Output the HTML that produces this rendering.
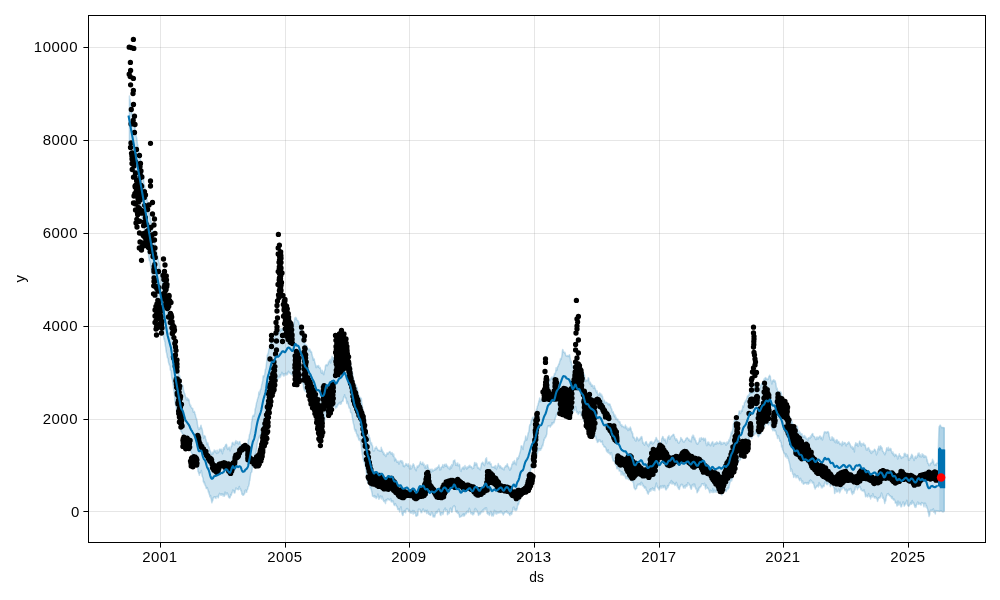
<!DOCTYPE html>
<html><head><meta charset="utf-8"><title>forecast</title>
<style>html,body{margin:0;padding:0;background:#fff;}body{width:1000px;height:600px;overflow:hidden;font-family:"Liberation Sans",sans-serif;}svg{display:block;}text{font-family:"Liberation Sans",sans-serif;fill:#000;}</style>
</head><body>
<svg width="1000" height="600" viewBox="0 0 1000 600">
<rect x="0" y="0" width="1000" height="600" fill="#ffffff"/>
<defs><clipPath id="ax"><rect x="88.5" y="15.5" width="897.0" height="527.0"/></clipPath></defs>
<g clip-path="url(#ax)">
<path d="M129.4 96L129.7 99.3L130.1 99.5L130.4 102.7L130.7 102.9L131.1 106.2L131.4 109.8L131.7 110.7L132 114.8L132.4 114.1L132.7 115.6L133 116.8L133.4 119.1L133.7 122.1L134 121.7L134.4 122.6L134.7 123.9L135 126.2L135.3 132.6L135.7 134L136 134.8L136.3 136.3L136.7 137.9L137 140L137.3 143.4L137.7 145L138 146.8L138.3 148.8L138.6 151.2L139 151.9L139.3 154L139.6 156.8L140 158.3L140.3 159.6L140.6 160.9L141 161.2L141.3 164.3L141.6 167.4L141.9 169.7L142.3 171.3L142.6 174.5L142.9 175L143.3 177.1L143.6 179.3L143.9 183.6L144.3 184.4L144.6 185.3L144.9 186.6L145.2 189.6L145.6 191.2L145.9 192L146.2 195.1L146.6 194.4L146.9 197.3L147.2 200.7L147.6 202.1L147.9 202.9L148.2 206.1L148.5 208.4L148.9 209.1L149.2 213.6L149.5 214.7L149.9 216.2L150.2 216.8L150.5 219.9L150.9 222.2L151.2 221.5L151.5 223.1L151.8 226.2L152.2 228.9L152.5 230.1L152.8 232.6L153.2 233.6L153.5 234.4L153.8 238.2L154.2 238.8L154.5 240.8L154.8 244.8L155.1 244L155.5 247L155.8 246.3L156.1 247.5L156.5 251.4L156.8 252.4L157.1 253.6L157.5 255.5L157.8 256.4L158.1 259.8L158.4 259.6L158.8 262.3L159.1 263L159.4 263.5L159.8 267.4L160.1 271.1L160.4 271.3L160.8 272.1L161.1 271.9L161.4 276.1L161.7 279L162.1 279.3L162.4 280.2L162.7 280L163.1 282.6L163.4 284.7L163.7 287.6L164.1 291.1L164.4 290.9L164.7 293.4L165 296.9L165.4 299.4L165.7 301.7L166 302.3L166.4 305.4L166.7 307.8L167 307.9L167.4 309.9L167.7 310.8L168 312.9L168.3 313.2L168.7 314.5L169 317.4L169.3 318.8L169.7 320L170 320.3L170.3 321.4L170.7 323.5L171 324.4L171.3 326.9L171.6 329.3L172 330.4L172.3 331.6L172.6 334.8L173 336.6L173.3 338.4L173.6 342.2L174 343.8L174.3 346L174.6 347.5L174.9 348.4L175.3 349.9L175.6 353.2L175.9 356.9L176.3 359.4L176.6 358.7L176.9 360.3L177.3 363.9L177.6 366.5L177.9 367.2L178.2 368.2L178.6 368.9L178.9 372.3L179.2 377L179.6 375.7L179.9 377.2L180.2 380L180.6 382.8L180.9 382.2L181.2 383.4L181.5 384.4L181.9 385.1L182.2 385.1L182.5 386.6L182.9 385.6L183.2 388L183.5 390.3L183.9 391.5L184.2 392.8L184.5 393.6L184.8 393.7L185.2 395.6L185.5 396.4L185.8 397.8L186.2 398.8L186.5 399.9L186.8 398.9L187.2 397.9L187.5 398.5L187.8 400.5L188.1 399.3L188.5 399L188.8 400.1L189.1 400L189.5 403.6L189.8 404L190.1 405.5L190.5 406.1L190.8 405.3L191.1 406.9L191.4 407.7L191.8 407.7L192.1 408.4L192.4 408.4L192.8 408.5L193.1 411L193.4 412.2L193.8 412.3L194.1 411.3L194.4 411.7L194.7 412.4L195.1 414.6L195.4 414.5L195.7 416.6L196.1 417.9L196.4 418.2L196.7 420.1L197.1 420.7L197.4 424.1L197.7 425.7L198 427.3L198.4 428.5L198.7 429.4L199 429.4L199.4 428.1L199.7 429.2L200 427.4L200.4 428L200.7 426.1L201 425.2L201.3 426.7L201.7 428.3L202 428.6L202.3 430L202.7 432.4L203 434.8L203.3 435.5L203.7 438.4L204 436.1L204.3 436.1L204.6 435.5L205 436.4L205.3 436.5L205.6 438.7L206 439.6L206.3 441.3L206.6 442.3L207 444.6L207.3 443.7L207.6 443.3L207.9 442.8L208.3 446L208.6 446.7L208.9 446.8L209.3 448L209.6 450.6L209.9 450.2L210.3 451L210.6 451.7L210.9 452.2L211.2 454.1L211.6 453.1L211.9 454.4L212.2 453.7L212.6 452.8L212.9 452.1L213.2 453.7L213.6 451.8L213.9 451.7L214.2 449.9L214.5 450.6L214.9 451.7L215.2 451.4L215.5 451.9L215.9 450.5L216.2 452.2L216.5 453.4L216.9 452.6L217.2 450.2L217.5 452.9L217.8 452.8L218.2 452.8L218.5 451.6L218.8 452.1L219.2 449.9L219.5 449.7L219.8 449L220.2 449.4L220.5 449.5L220.8 449.6L221.1 451L221.5 449.2L221.8 449.7L222.1 452.5L222.5 453.7L222.8 450.9L223.1 451L223.5 447.8L223.8 447.7L224.1 449.6L224.4 448L224.8 446.4L225.1 446.4L225.4 445.6L225.8 444.4L226.1 444.4L226.4 444.2L226.8 445.2L227.1 448.4L227.4 447.6L227.7 449.6L228.1 449.1L228.4 448.4L228.7 447.8L229.1 447L229.4 447.8L229.7 449.1L230.1 450.9L230.4 449.9L230.7 448.7L231 447.1L231.4 445.7L231.7 446.5L232 443.6L232.4 442.6L232.7 443.1L233 442.4L233.4 443.8L233.7 444.5L234 444.7L234.3 444.2L234.7 444.8L235 442.4L235.3 442.1L235.7 441.5L236 440.6L236.3 443.1L236.7 443L237 441.6L237.3 441.6L237.6 442.2L238 443.3L238.3 444.1L238.6 442.9L239 442.3L239.3 441.6L239.6 441.8L240 441.6L240.3 444.2L240.6 444.7L240.9 444.7L241.3 444.8L241.6 447.5L241.9 447.7L242.3 447.4L242.6 447.2L242.9 448.6L243.3 448.6L243.6 448.7L243.9 449.3L244.2 449.1L244.6 449.6L244.9 446.6L245.2 447.6L245.6 446.7L245.9 444.2L246.2 445L246.6 444.3L246.9 445.6L247.2 446L247.5 444.1L247.9 444L248.2 440.6L248.5 439L248.9 439.6L249.2 436.3L249.5 434.5L249.9 434L250.2 432.6L250.5 431.3L250.8 429.2L251.2 427.7L251.5 423L251.8 421.5L252.2 419.5L252.5 417.3L252.8 415.8L253.2 415.8L253.5 415.2L253.8 415.8L254.1 416.1L254.5 414.2L254.8 413.6L255.1 409.1L255.5 408.4L255.8 407L256.1 405.5L256.5 402.9L256.8 401.9L257.1 401.5L257.4 399.4L257.8 398.3L258.1 397.3L258.4 396.8L258.8 392.6L259.1 391.9L259.4 394.5L259.8 393.1L260.1 390.4L260.4 390L260.7 388.8L261.1 389.2L261.4 386.4L261.7 384.5L262.1 383.6L262.4 381.8L262.7 380.9L263.1 376.2L263.4 375.7L263.7 376.3L264 376.9L264.4 375.6L264.7 374.3L265 372.1L265.4 369.2L265.7 369.3L266 367.5L266.4 364.4L266.7 361.7L267 358.9L267.3 354.9L267.7 354.9L268 353.2L268.3 352.9L268.7 350L269 348.7L269.3 349.1L269.7 345.4L270 345.8L270.3 345.8L270.6 343.7L271 341L271.3 343.4L271.6 341.1L272 338.7L272.3 337.8L272.6 338.3L273 337.8L273.3 338.7L273.6 338.6L273.9 339.6L274.3 338.1L274.6 337.2L274.9 336.5L275.3 334.3L275.6 334.4L275.9 334.2L276.3 334.3L276.6 334.1L276.9 333.5L277.2 334.4L277.6 332.5L277.9 332.7L278.2 332.2L278.6 332.2L278.9 331.1L279.2 333.2L279.6 331.3L279.9 331.9L280.2 330.6L280.5 331.2L280.9 328.6L281.2 329.2L281.5 330.2L281.9 330.2L282.2 328.6L282.5 329.7L282.9 330.3L283.2 328.5L283.5 329.8L283.8 329L284.2 329.9L284.5 328.2L284.8 328L285.2 328.1L285.5 330.9L285.8 331.7L286.2 328.7L286.5 327.3L286.8 329.4L287.1 328L287.5 328.4L287.8 326.9L288.1 326.6L288.5 326.4L288.8 325.7L289.1 326.5L289.5 328.8L289.8 327.2L290.1 325.9L290.4 325.5L290.8 326.4L291.1 327.8L291.4 329L291.8 328.4L292.1 327.8L292.4 327.3L292.8 327.4L293.1 326.9L293.4 327.4L293.7 324.8L294.1 322.5L294.4 321.8L294.7 317.9L295.1 319.6L295.4 318.7L295.7 317.3L296.1 318L296.4 317.9L296.7 319.8L297 320.1L297.4 320.3L297.7 320.6L298 320.6L298.4 322.2L298.7 321.5L299 324.4L299.4 324.1L299.7 325.2L300 326.7L300.3 329.8L300.7 328.2L301 327.2L301.3 329.6L301.7 328.3L302 331.8L302.3 333.7L302.7 334.2L303 335.3L303.3 336.5L303.6 339.2L304 339.5L304.3 340.5L304.6 344.1L305 343.9L305.3 346.6L305.6 345L306 344.7L306.3 345.5L306.6 345.9L306.9 345.5L307.3 347.8L307.6 348L307.9 349L308.3 349.5L308.6 349.2L308.9 351L309.3 350.4L309.6 349L309.9 349.1L310.2 350.4L310.6 351L310.9 352.3L311.2 351.7L311.6 352L311.9 354.3L312.2 355.3L312.6 357.2L312.9 357.1L313.2 360.3L313.5 358.6L313.9 358.8L314.2 358.9L314.5 360.7L314.9 362.8L315.2 363.5L315.5 364.6L315.9 367L316.2 367.7L316.5 366.4L316.8 365.9L317.2 366.5L317.5 365.8L317.8 366.1L318.2 367.1L318.5 365.5L318.8 366L319.2 367.7L319.5 368.2L319.8 368.1L320.1 367.5L320.5 369.2L320.8 370.7L321.1 372.4L321.5 373.1L321.8 371.7L322.1 370.3L322.5 371.9L322.8 373.7L323.1 372.4L323.4 372.7L323.8 374.7L324.1 371.8L324.4 371L324.8 370.2L325.1 369.2L325.4 366L325.8 364.9L326.1 365.7L326.4 364.5L326.7 365.1L327.1 365.1L327.4 365.7L327.7 364.5L328.1 364.3L328.4 362L328.7 362.8L329.1 360.9L329.4 361.4L329.7 361L330 359.8L330.4 359.3L330.7 363L331 361.3L331.4 360.6L331.7 359L332 356.3L332.4 357L332.7 359.1L333 359.8L333.3 358.8L333.7 357.9L334 359L334.3 359.8L334.7 358.6L335 358.7L335.3 360.4L335.7 361.9L336 362.5L336.3 362.6L336.6 361.8L337 362.8L337.3 361.8L337.6 360.3L338 359L338.3 358.2L338.6 358.1L339 355.9L339.3 356L339.6 355.9L339.9 356.8L340.3 356.3L340.6 356.1L340.9 355.4L341.3 357.2L341.6 355.4L341.9 354.5L342.3 353.5L342.6 353.9L342.9 353L343.2 352.3L343.6 351.4L343.9 350.8L344.2 349.9L344.6 350.5L344.9 351L345.2 350.9L345.6 352.5L345.9 353.3L346.2 354.5L346.5 357.1L346.9 355.4L347.2 357.5L347.5 356.3L347.9 358.5L348.2 357.5L348.5 359.1L348.9 359.3L349.2 359.1L349.5 361.2L349.8 361.3L350.2 362.3L350.5 362.8L350.8 365.7L351.2 367.2L351.5 368.3L351.8 371.2L352.2 371.8L352.5 373.1L352.8 374L353.1 377.1L353.5 379.7L353.8 379.5L354.1 380.9L354.5 383.4L354.8 385.1L355.1 385.7L355.5 386.8L355.8 384.7L356.1 385.3L356.4 388.1L356.8 387.2L357.1 387.5L357.4 389.2L357.8 391.4L358.1 392.6L358.4 394.6L358.8 395L359.1 396.3L359.4 397L359.7 396.7L360.1 398.5L360.4 398.3L360.7 397.8L361.1 398.2L361.4 398.7L361.7 402.7L362.1 404.1L362.4 406.4L362.7 408L363 411.9L363.4 413.8L363.7 412.8L364 413.5L364.4 414.5L364.7 415.9L365 417L365.4 418.3L365.7 421L366 424.6L366.3 427.2L366.7 428.5L367 431.4L367.3 432.4L367.7 433.5L368 434.4L368.3 434.6L368.7 434.9L369 435.4L369.3 437.6L369.6 437.6L370 438.8L370.3 440.9L370.6 442.8L371 443L371.3 444.3L371.6 442.8L372 445.2L372.3 445.6L372.6 445.8L372.9 449.6L373.3 451L373.6 450.7L373.9 450.6L374.3 450.7L374.6 449.9L374.9 448.2L375.3 447.9L375.6 448.3L375.9 448.2L376.2 446.6L376.6 448.4L376.9 447.9L377.2 448.5L377.6 449.3L377.9 450.3L378.2 450L378.6 450.6L378.9 450.5L379.2 450.2L379.5 451L379.9 450.5L380.2 450.9L380.5 451.2L380.9 451.3L381.2 447.2L381.5 449.7L381.9 449.2L382.2 450.3L382.5 452.2L382.8 451.2L383.2 452L383.5 454.5L383.8 452.7L384.2 453.5L384.5 454.8L384.8 455.5L385.2 454.9L385.5 455.4L385.8 456.6L386.1 456.5L386.5 454.1L386.8 454.4L387.1 452.8L387.5 453.5L387.8 453.6L388.1 454L388.5 452.9L388.8 452.8L389.1 452.1L389.4 452.2L389.8 451.5L390.1 451.8L390.4 452.3L390.8 453.5L391.1 454.2L391.4 453.5L391.8 452.9L392.1 452.6L392.4 453.7L392.7 453.8L393.1 456.1L393.4 455.9L393.7 454.1L394.1 457L394.4 457.4L394.7 461L395.1 458.1L395.4 459L395.7 458.9L396 459.3L396.4 460.6L396.7 461.4L397 462.3L397.4 461.8L397.7 462.1L398 461L398.4 462.9L398.7 461.8L399 464.2L399.3 462.9L399.7 461.9L400 461.4L400.3 460.4L400.7 461L401 460.8L401.3 460.7L401.7 462.8L402 460.7L402.3 462.5L402.6 462.7L403 462.2L403.3 466.2L403.6 465L404 465.6L404.3 466.8L404.6 465.8L405 465.4L405.3 465.6L405.6 465.1L405.9 463.4L406.3 463.9L406.6 463.9L406.9 465.3L407.3 465L407.6 465.4L407.9 466.3L408.3 463.8L408.6 465.1L408.9 465.8L409.2 467.7L409.6 468.8L409.9 468.9L410.2 467.1L410.6 465.2L410.9 469L411.2 468.5L411.6 468.3L411.9 467.9L412.2 466.6L412.5 465.7L412.9 464.9L413.2 463.7L413.5 464.9L413.9 464.7L414.2 465.9L414.5 467.6L414.9 467.2L415.2 469.4L415.5 469L415.8 469.2L416.2 470.7L416.5 468.7L416.8 468.2L417.2 466L417.5 466.3L417.8 467.2L418.2 466.9L418.5 466.5L418.8 465.3L419.1 465.8L419.5 464.6L419.8 463.8L420.1 463.1L420.5 461.6L420.8 463.1L421.1 463.6L421.5 463.7L421.8 464.6L422.1 463.5L422.4 463.9L422.8 462.2L423.1 464.6L423.4 465.1L423.8 463.9L424.1 463.9L424.4 466.6L424.8 468L425.1 466.6L425.4 466L425.7 465.5L426.1 468.6L426.4 468.5L426.7 467.7L427.1 464.8L427.4 466.1L427.7 465L428.1 467.3L428.4 468.3L428.7 469.8L429 469.9L429.4 471.2L429.7 469.4L430 470.1L430.4 469.3L430.7 470.2L431 471.6L431.4 472.2L431.7 471.5L432 469.1L432.3 470.6L432.7 469.9L433 471.1L433.3 471.1L433.7 469.9L434 470.1L434.3 469.7L434.7 470.1L435 468.6L435.3 468.9L435.6 468.9L436 469.7L436.3 467.7L436.6 468.8L437 467.7L437.3 468.5L437.6 466.9L438 467.3L438.3 467.2L438.6 466.4L438.9 464.9L439.3 466.9L439.6 468L439.9 470.1L440.3 469.3L440.6 467.8L440.9 469.6L441.3 467L441.6 467L441.9 467.1L442.2 466.5L442.6 465.5L442.9 464.6L443.2 467L443.6 467.4L443.9 465.3L444.2 465.3L444.6 464.7L444.9 464.3L445.2 464.6L445.5 466.2L445.9 466.3L446.2 464L446.5 464.7L446.9 465.8L447.2 465.8L447.5 467L447.9 466.4L448.2 468.1L448.5 468.5L448.8 468.4L449.2 468.2L449.5 467.3L449.8 469.5L450.2 468L450.5 466.4L450.8 466L451.2 467.5L451.5 468L451.8 464.4L452.1 464.5L452.5 465.9L452.8 464.7L453.1 463.4L453.5 460.7L453.8 460.8L454.1 460.6L454.5 460.5L454.8 460L455.1 462L455.4 462.6L455.8 465.3L456.1 464.4L456.4 465.4L456.8 465.2L457.1 463.2L457.4 464.8L457.8 463L458.1 466L458.4 465.7L458.7 465.2L459.1 464.5L459.4 464.3L459.7 465.1L460.1 468.7L460.4 470.4L460.7 470.9L461.1 471.4L461.4 469.6L461.7 468.7L462 469.2L462.4 467.4L462.7 468.2L463 467.3L463.4 467.6L463.7 466.9L464 469.5L464.4 468.2L464.7 467.5L465 465.4L465.3 467.8L465.7 467.4L466 467.6L466.3 467.4L466.7 469.2L467 467.1L467.3 466.9L467.7 468.4L468 467.6L468.3 466.8L468.6 466.9L469 465.8L469.3 465.4L469.6 466.9L470 465.5L470.3 467L470.6 466.6L471 466.6L471.3 467.1L471.6 466.8L471.9 467.4L472.3 468.8L472.6 468.6L472.9 468.2L473.3 468.1L473.6 468.2L473.9 465.6L474.3 464.6L474.6 462.4L474.9 462.6L475.2 465.2L475.6 463.3L475.9 463.7L476.2 462.9L476.6 464.7L476.9 463.7L477.2 465.3L477.6 468L477.9 467.4L478.2 467.9L478.5 467.5L478.9 468.8L479.2 468.9L479.5 468.3L479.9 469.5L480.2 469.9L480.5 469L480.9 466.8L481.2 465.1L481.5 463.6L481.8 463.1L482.2 463L482.5 463L482.8 462.1L483.2 464.1L483.5 464.5L483.8 463.3L484.2 465.3L484.5 465.6L484.8 464.4L485.1 463.5L485.5 460.1L485.8 458.5L486.1 459.6L486.5 457.7L486.8 460.3L487.1 462.9L487.5 463.3L487.8 463.8L488.1 462.1L488.4 462L488.8 462.5L489.1 462.4L489.4 462.4L489.8 461.8L490.1 464.1L490.4 464.2L490.8 463.6L491.1 463.9L491.4 465.7L491.7 466.7L492.1 467.1L492.4 467.1L492.7 467.2L493.1 467L493.4 467.1L493.7 467.3L494.1 467L494.4 466.2L494.7 466.4L495 468.3L495.4 468.1L495.7 465.6L496 466.3L496.4 469.5L496.7 468.3L497 468L497.4 466.8L497.7 466.3L498 464.7L498.3 463.4L498.7 465.7L499 465.4L499.3 465.7L499.7 466.4L500 468L500.3 465.7L500.7 466.8L501 466.8L501.3 467.7L501.6 468.2L502 468.6L502.3 467.9L502.6 468.3L503 469.3L503.3 469.2L503.6 469L504 470L504.3 467.7L504.6 467.3L504.9 467.2L505.3 466.7L505.6 465.8L505.9 466.6L506.3 466.6L506.6 465.1L506.9 465.2L507.3 463.8L507.6 464.9L507.9 466.6L508.2 466.8L508.6 466.7L508.9 467.7L509.2 469.1L509.6 469.3L509.9 470.3L510.2 468.4L510.6 467.9L510.9 468.8L511.2 468.8L511.5 466.6L511.9 464.3L512.2 463.9L512.5 464.4L512.9 462.5L513.2 461.6L513.5 462.4L513.9 463.8L514.2 463.6L514.5 460.6L514.8 462.1L515.2 462.8L515.5 462.8L515.8 464.2L516.2 464.9L516.5 462.3L516.8 458.8L517.2 457.8L517.5 459.4L517.8 459L518.1 457.5L518.5 458.5L518.8 455.9L519.1 456.2L519.5 454.4L519.8 453.1L520.1 452.2L520.5 451.1L520.8 448.9L521.1 446L521.4 445.7L521.8 446.6L522.1 446.4L522.4 447.5L522.8 448L523.1 449.4L523.4 446.2L523.8 443.9L524.1 442.8L524.4 441.6L524.7 440.8L525.1 440.9L525.4 438.7L525.7 436.1L526.1 437.7L526.4 438.6L526.7 440.2L527.1 438.6L527.4 437.9L527.7 435.7L528 433.8L528.4 432.5L528.7 432.4L529 430.7L529.4 426.6L529.7 425.3L530 424.5L530.4 424.8L530.7 424L531 421.5L531.3 420.3L531.7 419.7L532 420.3L532.3 418.1L532.7 417.3L533 418.4L533.3 419.5L533.7 420.3L534 418.6L534.3 416.4L534.6 418.2L535 415.3L535.3 414.1L535.6 413.6L536 412.2L536.3 411L536.6 408.8L537 409L537.3 406.5L537.6 405.9L537.9 405.5L538.3 403.3L538.6 403L538.9 400.7L539.3 401.8L539.6 398L539.9 398.8L540.3 399.9L540.6 401.6L540.9 401.7L541.2 401.1L541.6 400.6L541.9 399.3L542.2 398.2L542.6 394.9L542.9 395.3L543.2 395.5L543.6 393.8L543.9 393.9L544.2 391.1L544.5 389.9L544.9 389.3L545.2 391.2L545.5 390.5L545.9 389.3L546.2 389.3L546.5 387.2L546.9 387.7L547.2 384.2L547.5 382.7L547.8 383.1L548.2 383.3L548.5 381.5L548.8 380.2L549.2 381.3L549.5 381L549.8 380.5L550.2 379.8L550.5 379.2L550.8 379.1L551.1 378L551.5 378.8L551.8 377L552.1 379.1L552.5 377.5L552.8 377.6L553.1 376.9L553.5 376.3L553.8 375.7L554.1 377L554.4 373.6L554.8 373.4L555.1 374.4L555.4 373L555.8 371L556.1 367.8L556.4 369.4L556.8 370.4L557.1 369.8L557.4 367.7L557.7 366.5L558.1 366L558.4 365.9L558.7 364L559.1 364.3L559.4 363.4L559.7 361.4L560.1 360.6L560.4 358.7L560.7 359.4L561 359.5L561.4 358.1L561.7 356.7L562 354.8L562.4 351.2L562.7 349.4L563 350L563.4 352.2L563.7 351.7L564 352.5L564.3 352.8L564.7 352.9L565 352.4L565.3 353.6L565.7 355.3L566 355.5L566.3 356L566.7 355.9L567 355.9L567.3 355.6L567.6 356.1L568 356.6L568.3 355.8L568.6 356.3L569 355.6L569.3 354.7L569.6 354.7L570 357.3L570.3 359L570.6 362L570.9 361.9L571.3 361.1L571.6 364L571.9 365.4L572.3 365.6L572.6 367.5L572.9 367.7L573.3 367.6L573.6 368.2L573.9 368.5L574.2 364.8L574.6 364.2L574.9 362L575.2 360.1L575.6 361.5L575.9 364.4L576.2 365.4L576.6 364.7L576.9 365.3L577.2 366.1L577.5 366.4L577.9 367.2L578.2 367.4L578.5 367L578.9 367.2L579.2 367.9L579.5 367.1L579.9 369.1L580.2 368L580.5 368.3L580.8 368.5L581.2 368.3L581.5 368L581.8 369.7L582.2 370.5L582.5 371L582.8 371.7L583.2 372.2L583.5 374L583.8 373.5L584.1 374.4L584.5 374.8L584.8 378.4L585.1 380.2L585.5 380.7L585.8 381.6L586.1 379.9L586.5 380.5L586.8 380.6L587.1 380.4L587.4 380.8L587.8 380.1L588.1 377.8L588.4 377.8L588.8 378.4L589.1 381.1L589.4 383.2L589.8 383.9L590.1 383.1L590.4 382.3L590.7 384.1L591.1 383.9L591.4 386.2L591.7 385L592.1 385L592.4 384.9L592.7 385.9L593.1 386L593.4 388.1L593.7 388.1L594 388.5L594.4 385.8L594.7 387.1L595 388.7L595.4 388.6L595.7 390.4L596 390.5L596.4 392.1L596.7 392.7L597 390.7L597.3 392.6L597.7 394.5L598 394.9L598.3 394.6L598.7 394.7L599 395.5L599.3 393.5L599.7 392.9L600 394.3L600.3 393.4L600.6 394.3L601 395.8L601.3 395.8L601.6 394.2L602 396.7L602.3 395.9L602.6 396.8L603 399.5L603.3 402.5L603.6 403.1L603.9 401L604.3 400.2L604.6 400.8L604.9 403.1L605.3 402.8L605.6 402.4L605.9 402.4L606.3 402.2L606.6 402.5L606.9 402.4L607.2 403.2L607.6 403.4L607.9 404.2L608.2 404.6L608.6 403.6L608.9 405.1L609.2 404L609.6 404.1L609.9 404.1L610.2 404.9L610.5 406.7L610.9 406.5L611.2 408.3L611.5 408.5L611.9 409.3L612.2 411.2L612.5 412.3L612.9 412.6L613.2 411.7L613.5 413L613.8 414L614.2 416.5L614.5 415.2L614.8 414.6L615.2 417.7L615.5 415.7L615.8 419.2L616.2 417.5L616.5 419.4L616.8 419.2L617.1 419.7L617.5 419.1L617.8 419L618.1 420.2L618.5 421.7L618.8 421.4L619.1 421.2L619.5 421.9L619.8 421.5L620.1 422.6L620.4 424.5L620.8 425.2L621.1 425.5L621.4 425.7L621.8 424.6L622.1 426.8L622.4 426.1L622.8 426L623.1 426.3L623.4 426.5L623.7 426.9L624.1 427.8L624.4 427.7L624.7 426.9L625.1 426.6L625.4 425.1L625.7 426.5L626.1 428.3L626.4 428.9L626.7 426.9L627 427.9L627.4 428.9L627.7 429.8L628 430.6L628.4 430.1L628.7 428.3L629 428.6L629.4 428.2L629.7 429.8L630 427.8L630.3 427L630.7 428.4L631 428.6L631.3 431.2L631.7 432L632 431.6L632.3 433.6L632.7 433.3L633 436.9L633.3 437.6L633.6 436.8L634 437.4L634.3 438.2L634.6 438.8L635 440.4L635.3 440.5L635.6 440.3L636 441.1L636.3 438.8L636.6 438.1L636.9 437.1L637.3 437.8L637.6 438.7L637.9 439L638.3 439.9L638.6 440.8L638.9 440.3L639.3 439.1L639.6 439.3L639.9 439.8L640.2 438.9L640.6 437.2L640.9 438.3L641.2 437.8L641.6 436.5L641.9 436.9L642.2 438.8L642.6 442L642.9 443.2L643.2 442.3L643.5 443.8L643.9 444.4L644.2 444.5L644.5 445.2L644.9 443.9L645.2 442.8L645.5 442.1L645.9 441.8L646.2 441.6L646.5 442.1L646.8 443.9L647.2 444.8L647.5 444.3L647.8 444.4L648.2 446L648.5 446.7L648.8 444.2L649.2 443.7L649.5 444.9L649.8 442.8L650.1 442.2L650.5 441.6L650.8 441.9L651.1 443.3L651.5 441.9L651.8 441.4L652.1 442.2L652.5 444.2L652.8 444L653.1 442.7L653.4 443.3L653.8 442.5L654.1 441.9L654.4 442L654.8 440.7L655.1 440.8L655.4 439.5L655.8 439.2L656.1 437.4L656.4 437.9L656.7 439L657.1 439.4L657.4 441L657.7 440.1L658.1 441.9L658.4 440.9L658.7 440.8L659.1 442.8L659.4 444.7L659.7 445.3L660 444.5L660.4 442.9L660.7 443.5L661 443.9L661.4 441.7L661.7 438.8L662 438.4L662.4 437.5L662.7 436.4L663 436.8L663.3 437.8L663.7 438.9L664 439.9L664.3 440.6L664.7 439.4L665 439.1L665.3 439.8L665.7 441.1L666 442.2L666.3 443.6L666.6 443L667 441.4L667.3 439.5L667.6 438L668 436.9L668.3 436.6L668.6 437.1L669 435.5L669.3 439.1L669.6 438.4L669.9 439.1L670.3 438.7L670.6 437.2L670.9 437L671.3 436.4L671.6 436L671.9 435.8L672.3 435.8L672.6 435.6L672.9 434.8L673.2 434.3L673.6 434.6L673.9 434.6L674.2 436L674.6 436.7L674.9 438.7L675.2 438.5L675.6 439.6L675.9 440.6L676.2 440.3L676.5 438.8L676.9 439.8L677.2 440L677.5 440.4L677.9 442.5L678.2 442.8L678.5 442.7L678.9 443.2L679.2 442.7L679.5 442.1L679.8 441.2L680.2 441L680.5 440.8L680.8 437.4L681.2 438.4L681.5 439.2L681.8 439.2L682.2 439.2L682.5 440.2L682.8 441.3L683.1 441.7L683.5 442L683.8 441.3L684.1 442.1L684.5 441.2L684.8 441L685.1 440.2L685.5 440.3L685.8 439L686.1 438.2L686.4 438.7L686.8 438.2L687.1 437.4L687.4 438L687.8 438.3L688.1 438.9L688.4 439.1L688.8 440.2L689.1 439.3L689.4 440.7L689.7 441.1L690.1 440.4L690.4 440.8L690.7 441.2L691.1 442L691.4 440.2L691.7 438.3L692.1 436.3L692.4 437.2L692.7 437.1L693 435L693.4 437.1L693.7 435.8L694 437.8L694.4 439.6L694.7 437.8L695 438.5L695.4 440.5L695.7 440.4L696 441.1L696.3 443.1L696.7 442.7L697 443.7L697.3 444.3L697.7 443.2L698 443.9L698.3 443.4L698.7 442L699 441.8L699.3 439.8L699.6 438.2L700 440.6L700.3 441.2L700.6 440.3L701 438.2L701.3 437.6L701.6 438.8L702 438.7L702.3 439.2L702.6 438.7L702.9 438.5L703.3 438.2L703.6 438L703.9 440.7L704.3 439.4L704.6 439.1L704.9 438.9L705.3 438.4L705.6 439.6L705.9 443.1L706.2 443.4L706.6 445.5L706.9 445.7L707.2 444.8L707.6 443L707.9 441.9L708.2 442.2L708.6 444.4L708.9 442.2L709.2 444.7L709.5 444.2L709.9 444.4L710.2 444.6L710.5 445.8L710.9 445.1L711.2 444.7L711.5 443L711.9 442.7L712.2 441.9L712.5 442.5L712.8 441.6L713.2 443.8L713.5 446.2L713.8 444.1L714.2 443.6L714.5 444.1L714.8 444.4L715.2 443.2L715.5 442.8L715.8 443.7L716.1 444.1L716.5 443.3L716.8 441.7L717.1 442.7L717.5 442.5L717.8 442.8L718.1 443.7L718.5 443.3L718.8 443.4L719.1 443.1L719.4 443.2L719.8 441.2L720.1 441.4L720.4 442.1L720.8 442.7L721.1 444.6L721.4 442.9L721.8 442.4L722.1 443.9L722.4 444.1L722.7 443.8L723.1 443.8L723.4 442.9L723.7 442.6L724.1 442.5L724.4 443.2L724.7 442.4L725.1 443.6L725.4 444L725.7 443.4L726 445.3L726.4 444.8L726.7 442.2L727 444.1L727.4 442.1L727.7 442.7L728 443.4L728.4 442.1L728.7 440.8L729 439.5L729.3 440.9L729.7 440L730 437.7L730.3 437L730.7 435.4L731 434.1L731.3 432L731.7 433L732 433.6L732.3 431.7L732.6 429.8L733 428.2L733.3 424.5L733.6 423.9L734 422.5L734.3 421.3L734.6 419.9L735 419L735.3 419.2L735.6 418.8L735.9 419.1L736.3 422.3L736.6 420.6L736.9 419.4L737.3 418.9L737.6 416.5L737.9 416.7L738.3 415.7L738.6 414.6L738.9 412.4L739.2 410.9L739.6 411.2L739.9 411.4L740.2 413.5L740.6 413.3L740.9 412.4L741.2 410.7L741.6 410L741.9 411.3L742.2 411.3L742.5 408.5L742.9 405.7L743.2 405.9L743.5 407.2L743.9 405.4L744.2 404.2L744.5 402.5L744.9 402.3L745.2 402L745.5 400.3L745.8 401L746.2 401.1L746.5 400.5L746.8 398.4L747.2 396.9L747.5 396.1L747.8 396.3L748.2 395.4L748.5 396.2L748.8 394.4L749.1 395.4L749.5 394.4L749.8 390.6L750.1 391.7L750.5 392L750.8 392.1L751.1 393.6L751.5 391.7L751.8 393.2L752.1 393.2L752.4 391.2L752.8 391.5L753.1 391.6L753.4 391.6L753.8 392.3L754.1 389L754.4 385.7L754.8 386.5L755.1 386L755.4 385.4L755.7 384.9L756.1 385.6L756.4 383.4L756.7 385.8L757.1 386.9L757.4 386.3L757.7 387.8L758.1 388.5L758.4 389.1L758.7 389.9L759 390.5L759.4 389.9L759.7 389.4L760 388L760.4 387.2L760.7 385.8L761 384.8L761.4 384.5L761.7 383.2L762 383.1L762.3 383.1L762.7 382.9L763 382.7L763.3 380.8L763.7 381.3L764 379.1L764.3 380.6L764.7 379.8L765 377.9L765.3 378.2L765.6 377.6L766 379L766.3 378.3L766.6 379L767 378.7L767.3 379.7L767.6 379.1L768 378.9L768.3 379.2L768.6 377.4L768.9 376.4L769.3 375.8L769.6 375.2L769.9 376.3L770.3 376.2L770.6 378.9L770.9 380.7L771.3 381L771.6 383.2L771.9 384L772.2 381.2L772.6 380.6L772.9 381.2L773.2 380.9L773.6 379.7L773.9 380.2L774.2 381.9L774.6 380.5L774.9 380.5L775.2 381.1L775.5 382.2L775.9 383.4L776.2 386.2L776.5 388.9L776.9 388.9L777.2 388.2L777.5 390.5L777.9 391.6L778.2 391.8L778.5 392.3L778.8 392L779.2 391.5L779.5 391.5L779.8 391.9L780.2 391.6L780.5 393.9L780.8 392.1L781.2 392.9L781.5 394.8L781.8 395.8L782.1 397L782.5 400.3L782.8 402.6L783.1 404.6L783.5 404.4L783.8 406.3L784.1 405.6L784.5 406L784.8 405.8L785.1 404.9L785.4 404.6L785.8 406.9L786.1 406.4L786.4 408L786.8 409L787.1 408.8L787.4 410L787.8 410.3L788.1 407.7L788.4 412.5L788.7 416.7L789.1 417.6L789.4 416.7L789.7 418.4L790.1 417.5L790.4 420.6L790.7 420.3L791.1 421.8L791.4 422L791.7 422.3L792 421L792.4 424.1L792.7 423.5L793 424.8L793.4 424.4L793.7 424.7L794 425L794.4 426.2L794.7 427.7L795 427L795.3 427.9L795.7 426.7L796 427.7L796.3 428.2L796.7 427.4L797 426.6L797.3 426.2L797.7 429.1L798 432.5L798.3 432.3L798.6 432.4L799 433.1L799.3 431L799.6 432.5L800 432.9L800.3 432.5L800.6 434L801 433.9L801.3 434.5L801.6 434.1L801.9 433.7L802.3 435.3L802.6 436.3L802.9 436.8L803.3 436.7L803.6 437.3L803.9 435.8L804.3 437.1L804.6 435.4L804.9 436.9L805.2 437.9L805.6 436.7L805.9 438.4L806.2 438.1L806.6 439.1L806.9 439.1L807.2 438.7L807.6 439.9L807.9 440.9L808.2 438.8L808.5 437.7L808.9 437.8L809.2 437.6L809.5 438.4L809.9 438.6L810.2 437.9L810.5 436L810.9 437.4L811.2 436.9L811.5 436.2L811.8 434.3L812.2 434.3L812.5 433.8L812.8 433.5L813.2 436L813.5 435.8L813.8 436.3L814.2 436.6L814.5 436.6L814.8 437.1L815.1 437.9L815.5 439.3L815.8 439L816.1 439.6L816.5 438.3L816.8 437.1L817.1 436.9L817.5 438.8L817.8 438.5L818.1 439.1L818.4 437.6L818.8 437.1L819.1 437.6L819.4 437.6L819.8 436L820.1 435.9L820.4 437.2L820.8 438.7L821.1 437.8L821.4 437.4L821.7 437.3L822.1 438.5L822.4 440L822.7 439.2L823.1 436.9L823.4 436.1L823.7 434.7L824.1 432.9L824.4 431.9L824.7 432.6L825 431.6L825.4 432.4L825.7 432.4L826 432.1L826.4 433L826.7 432.5L827 431.9L827.4 431.8L827.7 432.6L828 431.4L828.3 432.1L828.7 432.9L829 434.3L829.3 437L829.7 436.9L830 439.3L830.3 439.6L830.7 440.3L831 439.8L831.3 439.6L831.6 439.6L832 436.8L832.3 437.2L832.6 438.5L833 440.3L833.3 438.8L833.6 438L834 439.5L834.3 441.3L834.6 442L834.9 440L835.3 441L835.6 442.5L835.9 442.9L836.3 440.6L836.6 440.1L836.9 439.6L837.3 440.2L837.6 442.1L837.9 443.2L838.2 441.9L838.6 441.5L838.9 441.5L839.2 442.9L839.6 443L839.9 444.6L840.2 444.4L840.6 444.3L840.9 443.6L841.2 443.4L841.5 444.4L841.9 445.8L842.2 444.1L842.5 441.6L842.9 443.3L843.2 444L843.5 444.2L843.9 443.1L844.2 442.5L844.5 442.8L844.8 443.2L845.2 442.8L845.5 444.2L845.8 445.7L846.2 445.9L846.5 443.9L846.8 443.9L847.2 444L847.5 444.2L847.8 442.7L848.1 443.6L848.5 443.2L848.8 441.8L849.1 442.3L849.5 443.6L849.8 443.7L850.1 444L850.5 445.8L850.8 445.5L851.1 447.4L851.4 447.8L851.8 446.9L852.1 447.5L852.4 446.6L852.8 449.2L853.1 447.4L853.4 448.6L853.8 447.4L854.1 449.5L854.4 452L854.7 446.9L855.1 444.4L855.4 444.9L855.7 442.7L856.1 443.8L856.4 445.2L856.7 443.6L857.1 443.5L857.4 443.6L857.7 444L858 446.5L858.4 445.7L858.7 445.4L859 443.6L859.4 441.7L859.7 441L860 441.6L860.4 443.5L860.7 443.5L861 445.7L861.3 446.1L861.7 443.4L862 443.5L862.3 444.6L862.7 444.4L863 444.8L863.3 444.3L863.7 443.1L864 444.9L864.3 445.4L864.6 444.5L865 444.9L865.3 445.3L865.6 447.3L866 448.1L866.3 449.8L866.6 449.5L867 450.2L867.3 449.8L867.6 448.2L867.9 448.1L868.3 448.4L868.6 447.4L868.9 448.9L869.3 448.9L869.6 451.3L869.9 450.1L870.3 450.7L870.6 452.8L870.9 452L871.2 453.1L871.6 453.4L871.9 451.1L872.2 451.9L872.6 451.1L872.9 451.8L873.2 451.6L873.6 450.9L873.9 450.9L874.2 449.6L874.5 449.2L874.9 449.7L875.2 449.9L875.5 451.2L875.9 451L876.2 453.3L876.5 454.9L876.9 453.4L877.2 452.5L877.5 452.8L877.8 449.1L878.2 448.8L878.5 447.9L878.8 446.2L879.2 447.5L879.5 448.6L879.8 450L880.2 446.9L880.5 445.7L880.8 446.7L881.1 446.6L881.5 447.9L881.8 447.7L882.1 447.9L882.5 451.1L882.8 451L883.1 451.5L883.5 452.2L883.8 452.8L884.1 453.6L884.4 453.4L884.8 454.8L885.1 452.6L885.4 453.5L885.8 451.4L886.1 451.1L886.4 449.4L886.8 447.8L887.1 448.3L887.4 449L887.7 449.9L888.1 449.3L888.4 447.3L888.7 450.4L889.1 449.8L889.4 449.2L889.7 449.5L890.1 448.5L890.4 450.1L890.7 448.6L891 448.9L891.4 451.5L891.7 451.5L892 453L892.4 453L892.7 453.6L893 452.1L893.4 455.1L893.7 453.7L894 453.9L894.3 455.3L894.7 456.5L895 454.7L895.3 454.5L895.7 454.6L896 454.4L896.3 455.6L896.7 455.5L897 456.6L897.3 456.8L897.6 459L898 458.5L898.3 456.5L898.6 456L899 455.4L899.3 453.8L899.6 456L900 455.5L900.3 455.8L900.6 456.5L900.9 456.8L901.3 458.4L901.6 457.6L901.9 456.9L902.3 457L902.6 457.5L902.9 457.7L903.3 456.7L903.6 457L903.9 456.1L904.2 453.4L904.6 454.6L904.9 453.3L905.2 454.6L905.6 453.9L905.9 455.9L906.2 456.4L906.6 456.1L906.9 455.6L907.2 454.5L907.5 454.6L907.9 455.8L908.2 458L908.5 460.1L908.9 459.7L909.2 460.2L909.5 459.9L909.9 458L910.2 458L910.5 458.2L910.8 456.3L911.2 457.7L911.5 454.7L911.8 454.4L912.2 455.1L912.5 455.3L912.8 456.6L913.2 458.5L913.5 458.7L913.8 459.2L914.1 460.5L914.5 458.9L914.8 457.7L915.1 456.7L915.5 456.2L915.8 457.9L916.1 458.5L916.5 457.6L916.8 457.1L917.1 457.3L917.4 455.5L917.8 454.9L918.1 453.3L918.4 455.3L918.8 453.7L919.1 453L919.4 456.6L919.8 455L920.1 454.6L920.4 455.9L920.7 456.6L921.1 457L921.4 456.5L921.7 456.8L922.1 453.8L922.4 454.7L922.7 455.9L923.1 454.5L923.4 455.3L923.7 457.3L924 457.5L924.4 455.5L924.7 457L925 456.1L925.4 456.7L925.7 455.9L926 457L926.4 456.7L926.7 459.2L927 461.2L927.3 459.7L927.7 463.5L928 463.6L928.3 463.4L928.7 464.1L929 465.6L929.3 465.5L929.7 465.5L930 465L930.3 463.6L930.6 463.6L931 462.8L931.3 463.4L931.6 462.2L932 462.6L932.3 460.5L932.6 459.3L933 462.1L933.3 461.5L933.6 461L933.9 464L934.3 464.6L934.6 465.4L934.9 465.3L935.3 464.5L935.6 464.3L935.9 463.9L936.3 465.4L936.6 464.1L936.9 463.1L937.2 462.7L937.6 463.1L937.9 462L939 427L939.2 426.6L939.5 426.2L939.8 425.8L940 425.3L940.2 425.1L940.5 425.6L940.8 426.1L941 426.5L941.2 427L941.5 427.5L941.8 427.5L942 427.5L942.2 427.5L942.5 427.5L942.8 427.5L943 427.5L943.2 427.6L943.5 427.6L943.8 427.7L944 427.7L944.2 427.8L944.2 511.4L944 511.5L943.8 511.6L943.5 511.8L943.2 511.9L943 512L942.8 511.9L942.5 511.8L942.2 511.6L942 511.5L941.8 511.4L941.5 511.2L941.2 511.1L941 511L940.8 511.1L940.5 511.1L940.2 511.2L940 511.2L939.8 511.3L939.5 511.4L939.2 511.4L939 511.5L937.9 510.7L937.6 511.1L937.2 510.7L936.9 510.9L936.6 510.9L936.3 511.1L935.9 510.5L935.6 510.8L935.3 513.9L934.9 512.5L934.6 511.9L934.3 510.6L933.9 512.3L933.6 509.8L933.3 508.8L933 510.8L932.6 509.7L932.3 510.6L932 511.3L931.6 510.7L931.3 510L931 510L930.6 510.4L930.3 511.2L930 511.7L929.7 515L929.3 515.5L929 516.5L928.7 513.8L928.3 512.5L928 511.7L927.7 509.3L927.3 508.2L927 508.1L926.7 506.3L926.4 505.6L926 507.1L925.7 504.3L925.4 503.3L925 504.1L924.7 504.1L924.4 503.1L924 506.8L923.7 505.6L923.4 503.5L923.1 503.4L922.7 503L922.4 502.9L922.1 503.5L921.7 502.4L921.4 503.3L921.1 505.1L920.7 504.1L920.4 504.8L920.1 504.1L919.8 503.2L919.4 503.4L919.1 503.9L918.8 503.7L918.4 504.4L918.1 502.4L917.8 502L917.4 502.6L917.1 503.5L916.8 504.4L916.5 504.5L916.1 507L915.8 507.4L915.5 506.3L915.1 505.4L914.8 507.1L914.5 505.4L914.1 504.9L913.8 503.2L913.5 502.2L913.2 503.4L912.8 503.3L912.5 502.8L912.2 500.4L911.8 502.2L911.5 504.3L911.2 504L910.8 504.3L910.5 502.6L910.2 504L909.9 504.8L909.5 504.6L909.2 505.9L908.9 505.6L908.5 506.3L908.2 505.5L907.9 505.7L907.5 504.7L907.2 502.7L906.9 500.2L906.6 501.7L906.2 501.8L905.9 503L905.6 504.3L905.2 503.5L904.9 505.2L904.6 505.2L904.2 506.2L903.9 504.7L903.6 502.1L903.3 502.8L902.9 502.1L902.6 503.5L902.3 504.2L901.9 504.4L901.6 506.7L901.3 506.2L900.9 506.8L900.6 504.6L900.3 504.1L900 502.1L899.6 503.7L899.3 503.4L899 505L898.6 504.8L898.3 502.3L898 501.1L897.6 504L897.3 505.8L897 506L896.7 504.4L896.3 502.2L896 502.9L895.7 503L895.3 503.2L895 501L894.7 500.6L894.3 499.3L894 499.5L893.7 500.1L893.4 499.8L893 498.6L892.7 499L892.4 498.7L892 496.4L891.7 498.4L891.4 497.8L891 497L890.7 496.4L890.4 495.7L890.1 496.3L889.7 495.5L889.4 495.4L889.1 494.5L888.7 494.9L888.4 493.6L888.1 493.8L887.7 493.8L887.4 493.7L887.1 494.6L886.8 495.9L886.4 495.8L886.1 498L885.8 500.6L885.4 501.3L885.1 501.5L884.8 503.5L884.4 501.6L884.1 499.5L883.8 499.4L883.5 498L883.1 497.3L882.8 498.3L882.5 495.5L882.1 494.8L881.8 493.8L881.5 492.9L881.1 494.7L880.8 497.1L880.5 496.6L880.2 496.4L879.8 498L879.5 497.6L879.2 497.6L878.8 498.3L878.5 497.7L878.2 499.5L877.8 500.8L877.5 501.5L877.2 498.6L876.9 498.2L876.5 498.4L876.2 498.6L875.9 497.1L875.5 497.4L875.2 497.3L874.9 496.5L874.5 498L874.2 497.8L873.9 496.6L873.6 496.5L873.2 495.5L872.9 493.7L872.6 494L872.2 497.1L871.9 496.9L871.6 496L871.2 495.7L870.9 496.7L870.6 498.9L870.3 496.4L869.9 496.9L869.6 496.5L869.3 496.2L868.9 495.7L868.6 493.4L868.3 494.7L867.9 495.6L867.6 497L867.3 496.2L867 495.4L866.6 495.3L866.3 495.3L866 496.5L865.6 496.8L865.3 495L865 493.5L864.6 491.6L864.3 492.1L864 489.7L863.7 490.8L863.3 491L863 490.9L862.7 490.9L862.3 490.6L862 490.8L861.7 490L861.3 489.2L861 488.7L860.7 489.7L860.4 487.7L860 486.4L859.7 487.3L859.4 486L859 485.8L858.7 487.4L858.4 487.9L858 487.9L857.7 488.3L857.4 489.7L857.1 488.1L856.7 487.6L856.4 486.1L856.1 487.5L855.7 487L855.4 487L855.1 489.9L854.7 489.9L854.4 490.6L854.1 492.3L853.8 493.4L853.4 491.7L853.1 491.6L852.8 492.2L852.4 494.5L852.1 493.1L851.8 493.2L851.4 491.9L851.1 490.5L850.8 488.6L850.5 488.5L850.1 489.6L849.8 489L849.5 490L849.1 490L848.8 489.1L848.5 489.5L848.1 490.5L847.8 490.8L847.5 490.7L847.2 492.1L846.8 493.4L846.5 489.3L846.2 489.4L845.8 489.5L845.5 489.6L845.2 490.7L844.8 490.1L844.5 489.2L844.2 488.3L843.9 487.7L843.5 487.7L843.2 487.6L842.9 488.3L842.5 487.2L842.2 487.4L841.9 489.5L841.5 487.3L841.2 489L840.9 488.8L840.6 490.3L840.2 491.7L839.9 490.8L839.6 492.8L839.2 490.7L838.9 489.1L838.6 489L838.2 491.1L837.9 491.2L837.6 491.8L837.3 491.4L836.9 491.4L836.6 492L836.3 490L835.9 488.6L835.6 489.9L835.3 489.9L834.9 493.3L834.6 493.5L834.3 488.8L834 488L833.6 487L833.3 486.3L833 485.5L832.6 484.2L832.3 485.5L832 483.5L831.6 484.2L831.3 484.3L831 484.9L830.7 485.7L830.3 486.7L830 485.1L829.7 483.3L829.3 482L829 482.9L828.7 482.1L828.3 482.8L828 483.4L827.7 484.7L827.4 483.2L827 484.3L826.7 484.5L826.4 484L826 483L825.7 481.7L825.4 481.2L825 483L824.7 483.2L824.4 483.5L824.1 486.4L823.7 486.4L823.4 485.7L823.1 486.2L822.7 486.3L822.4 487.8L822.1 487L821.7 486.6L821.4 487.8L821.1 486.1L820.8 485.2L820.4 485.6L820.1 485.5L819.8 483.6L819.4 485.1L819.1 482.6L818.8 484.6L818.4 487L818.1 485.7L817.8 486.4L817.5 485.2L817.1 485.7L816.8 486.2L816.5 486.4L816.1 487.5L815.8 487.5L815.5 487.6L815.1 489L814.8 487.5L814.5 487.7L814.2 485.7L813.8 484.8L813.5 482.2L813.2 483.4L812.8 482.6L812.5 482.4L812.2 483L811.8 481.1L811.5 481.1L811.2 481.2L810.9 480.8L810.5 479.9L810.2 480.4L809.9 483L809.5 480.7L809.2 482.1L808.9 482.7L808.5 484L808.2 484.2L807.9 483.9L807.6 482.4L807.2 483.1L806.9 483.2L806.6 484L806.2 482.8L805.9 483.3L805.6 483L805.2 482.6L804.9 483.3L804.6 483L804.3 483.7L803.9 483.5L803.6 484.2L803.3 483.9L802.9 482.7L802.6 480.9L802.3 481.2L801.9 482.7L801.6 481.4L801.3 480.3L801 480L800.6 478.3L800.3 479L800 480.3L799.6 480.6L799.3 479.7L799 478.3L798.6 478.7L798.3 477.3L798 477.4L797.7 475.7L797.3 476.9L797 475.8L796.7 477.4L796.3 476.2L796 477.8L795.7 476.5L795.3 474.9L795 475.5L794.7 473.9L794.4 475.1L794 476.9L793.7 477.4L793.4 474.6L793 474.2L792.7 474.1L792.4 472.1L792 471L791.7 469.4L791.4 469.6L791.1 468.6L790.7 471.2L790.4 468.4L790.1 466.6L789.7 464L789.4 463.1L789.1 461.6L788.7 460.9L788.4 458.5L788.1 458.3L787.8 457.5L787.4 456.1L787.1 458.2L786.8 456.8L786.4 454.1L786.1 455.1L785.8 456.4L785.4 456.8L785.1 453.6L784.8 454.3L784.5 453.9L784.1 452.6L783.8 452.7L783.5 451.6L783.1 450.3L782.8 450.3L782.5 449.5L782.1 445.7L781.8 446.8L781.5 446.9L781.2 442.4L780.8 442.4L780.5 440.8L780.2 440.9L779.8 441.3L779.5 439.3L779.2 438.9L778.8 437.6L778.5 435.9L778.2 436.3L777.9 436.6L777.5 438.4L777.2 435.8L776.9 435.1L776.5 434.8L776.2 433.7L775.9 432.2L775.5 430.6L775.2 431L774.9 431.1L774.6 430.8L774.2 430.2L773.9 429.9L773.6 427.8L773.2 430.6L772.9 430.8L772.6 429.6L772.2 429.3L771.9 428L771.6 427.8L771.3 426.1L770.9 425.5L770.6 423.8L770.3 422.9L769.9 422.7L769.6 423.2L769.3 423.5L768.9 422.8L768.6 425.1L768.3 424.5L768 424.2L767.6 423.7L767.3 421.1L767 422.9L766.6 423.3L766.3 422.9L766 423.7L765.6 423.7L765.3 424.4L765 426.1L764.7 426L764.3 424.4L764 426.6L763.7 427.3L763.3 427L763 428.4L762.7 427.1L762.3 429.4L762 429.9L761.7 430.2L761.4 430.9L761 433.8L760.7 433.4L760.4 433.9L760 432.7L759.7 434.6L759.4 435.4L759 435.2L758.7 436.2L758.4 436.8L758.1 436.3L757.7 435.6L757.4 433.9L757.1 432.3L756.7 433.5L756.4 431L756.1 431.4L755.7 433.8L755.4 433.7L755.1 433.2L754.8 433.5L754.4 434.8L754.1 434L753.8 433.7L753.4 435.4L753.1 433.7L752.8 435.7L752.4 436.3L752.1 436.4L751.8 438.1L751.5 438.4L751.1 436.5L750.8 435L750.5 436.4L750.1 434.8L749.8 435.6L749.5 436.4L749.1 438.3L748.8 439.6L748.5 439.8L748.2 441.6L747.8 441.6L747.5 443.1L747.2 441.4L746.8 442.9L746.5 443.1L746.2 446L745.8 445.7L745.5 446.4L745.2 447.7L744.9 447.1L744.5 447.7L744.2 448.6L743.9 449.9L743.5 449.7L743.2 450.9L742.9 450.7L742.5 454.2L742.2 453.5L741.9 456.1L741.6 457.9L741.2 456.2L740.9 457.3L740.6 459L740.2 459.8L739.9 459.5L739.6 460.5L739.2 460.6L738.9 460.9L738.6 460.6L738.3 461.5L737.9 462.6L737.6 463.9L737.3 465.4L736.9 465.6L736.6 462.6L736.3 465.3L735.9 465.7L735.6 464.7L735.3 467L735 465.6L734.6 468.1L734.3 468.5L734 470L733.6 471.7L733.3 475L733 476.3L732.6 478.2L732.3 478.6L732 479.1L731.7 480.9L731.3 479.9L731 480.8L730.7 480.5L730.3 482L730 482.4L729.7 483.8L729.3 485.2L729 487.6L728.7 487.7L728.4 488.9L728 488L727.7 487.8L727.4 488.7L727 489.5L726.7 490.1L726.4 491.4L726 490.4L725.7 490.1L725.4 490.2L725.1 490.9L724.7 491.6L724.4 491.1L724.1 491.5L723.7 489.3L723.4 488.6L723.1 490.4L722.7 493.3L722.4 494L722.1 493.5L721.8 495.1L721.4 491.8L721.1 492.9L720.8 491.7L720.4 492.3L720.1 491.6L719.8 491.7L719.4 490.4L719.1 490.6L718.8 490L718.5 489.9L718.1 488.8L717.8 490L717.5 489.1L717.1 488.4L716.8 491L716.5 492.2L716.1 491L715.8 491.3L715.5 492L715.2 492.1L714.8 490.3L714.5 490.1L714.2 492.2L713.8 490.9L713.5 492.5L713.2 491.9L712.8 488.6L712.5 491.6L712.2 492.6L711.9 491.1L711.5 491L711.2 492L710.9 491L710.5 490.1L710.2 491.7L709.9 492.9L709.5 492.2L709.2 491L708.9 490.3L708.6 489.4L708.2 488.2L707.9 488.2L707.6 487.8L707.2 488.4L706.9 487.5L706.6 486.4L706.2 484.9L705.9 486.9L705.6 489L705.3 487.5L704.9 485.4L704.6 483.3L704.3 483.6L703.9 483.8L703.6 485.3L703.3 484.1L702.9 484.1L702.6 483.7L702.3 483.9L702 484.1L701.6 484.1L701.3 485.9L701 486.1L700.6 487L700.3 486.7L700 487.3L699.6 488.3L699.3 487.3L699 487.9L698.7 490.7L698.3 490.1L698 490.5L697.7 491.7L697.3 492.4L697 492.7L696.7 488.6L696.3 488.6L696 488.2L695.7 489L695.4 487L695 486.3L694.7 484L694.4 485.6L694 486.7L693.7 485.3L693.4 483.9L693 484.6L692.7 485.5L692.4 485.7L692.1 485L691.7 487.6L691.4 489.2L691.1 489.1L690.7 488.1L690.4 487.7L690.1 485.2L689.7 485.1L689.4 484.8L689.1 485.3L688.8 483.4L688.4 483.2L688.1 483.6L687.8 482.8L687.4 484.4L687.1 486L686.8 486.6L686.4 484.7L686.1 485.7L685.8 485.2L685.5 486L685.1 488.2L684.8 485.8L684.5 486.4L684.1 487.2L683.8 487.7L683.5 488L683.1 486.5L682.8 486.1L682.5 484.6L682.2 484.7L681.8 484.5L681.5 484.9L681.2 484.3L680.8 485.8L680.5 485.3L680.2 486.8L679.8 487L679.5 489.2L679.2 489.5L678.9 488.1L678.5 488.9L678.2 487.9L677.9 487.3L677.5 484.9L677.2 486.4L676.9 483.7L676.5 482.9L676.2 482.4L675.9 484.9L675.6 484.9L675.2 483.7L674.9 485.5L674.6 484.3L674.2 484.2L673.9 483.8L673.6 482.7L673.2 483.8L672.9 483.4L672.6 481.5L672.3 483.9L671.9 484L671.6 482.2L671.3 480.5L670.9 482.2L670.6 483.4L670.3 483.1L669.9 482.6L669.6 483.2L669.3 483.7L669 485.4L668.6 485.9L668.3 486.2L668 487.5L667.6 485.5L667.3 487.7L667 488.6L666.6 488.6L666.3 489.7L666 489L665.7 489.8L665.3 488.4L665 486.8L664.7 485.6L664.3 487.2L664 487L663.7 487.4L663.3 487.7L663 485.4L662.7 485.8L662.4 487L662 486.3L661.7 488.1L661.4 486.8L661 485.8L660.7 487.3L660.4 487.7L660 486.5L659.7 489L659.4 487.9L659.1 489.9L658.7 488.9L658.4 488L658.1 487.8L657.7 487.9L657.4 486.8L657.1 486L656.7 484.9L656.4 483.1L656.1 483.9L655.8 486.9L655.4 486.3L655.1 488L654.8 490.8L654.4 489.5L654.1 488.8L653.8 488.6L653.4 490.2L653.1 488.9L652.8 489L652.5 487.8L652.1 489.8L651.8 488.9L651.5 489.2L651.1 489.9L650.8 491.1L650.5 488.8L650.1 491.3L649.8 489.5L649.5 491.2L649.2 492.1L648.8 491.8L648.5 493.2L648.2 494.2L647.8 492.5L647.5 493.4L647.2 491.2L646.8 490.9L646.5 490.5L646.2 490L645.9 489L645.5 487L645.2 488.1L644.9 487.3L644.5 488.2L644.2 487.7L643.9 486.4L643.5 485.5L643.2 486.4L642.9 485.8L642.6 484.2L642.2 483.4L641.9 484.7L641.6 482.3L641.2 482.8L640.9 482.5L640.6 485.1L640.2 485L639.9 484.7L639.6 483.8L639.3 484.8L638.9 484.6L638.6 484.2L638.3 484.9L637.9 484.5L637.6 484.2L637.3 486.2L636.9 485.6L636.6 488.5L636.3 488.5L636 488.9L635.6 488.9L635.3 489.6L635 489L634.6 488.3L634.3 488.1L634 487.4L633.6 484L633.3 481.6L633 481.4L632.7 482L632.3 480.3L632 480.2L631.7 481.1L631.3 480.2L631 479.7L630.7 479.9L630.3 480.2L630 478.4L629.7 478.4L629.4 478.8L629 478.6L628.7 479.6L628.4 479.5L628 477.9L627.7 478.6L627.4 478.5L627 476.9L626.7 477L626.4 476.8L626.1 478.8L625.7 478.2L625.4 477.1L625.1 476.6L624.7 475.2L624.4 473.6L624.1 474.6L623.7 475.5L623.4 474.6L623.1 473.1L622.8 475.1L622.4 473.8L622.1 471.7L621.8 471.9L621.4 472L621.1 474.9L620.8 471.4L620.4 471L620.1 471.4L619.8 470.7L619.5 471.1L619.1 471L618.8 468.4L618.5 468.5L618.1 468L617.8 467.6L617.5 468.8L617.1 468.8L616.8 468.8L616.5 464.9L616.2 464.6L615.8 465.1L615.5 463.6L615.2 464.3L614.8 462.1L614.5 460.8L614.2 461.4L613.8 460.4L613.5 460.9L613.2 461L612.9 460L612.5 458.1L612.2 457.6L611.9 455.3L611.5 452.7L611.2 452.6L610.9 452.8L610.5 454.4L610.2 454.7L609.9 453.8L609.6 453.2L609.2 453.1L608.9 453.2L608.6 452.8L608.2 449.8L607.9 450.9L607.6 452.5L607.2 451.4L606.9 450.2L606.6 451.4L606.3 450.3L605.9 448.5L605.6 447.4L605.3 447.4L604.9 446.6L604.6 447.1L604.3 446.9L603.9 446.6L603.6 445.3L603.3 444.8L603 444.8L602.6 444.5L602.3 440.9L602 441.7L601.6 442.1L601.3 441.7L601 441.7L600.6 442L600.3 441.4L600 440.1L599.7 440.8L599.3 440.1L599 439.7L598.7 441.4L598.3 441.5L598 442.1L597.7 442.1L597.3 442.5L597 440.5L596.7 439.2L596.4 440.2L596 437.1L595.7 436.1L595.4 437.1L595 437.6L594.7 435.8L594.4 435.2L594 435.4L593.7 435.7L593.4 434.8L593.1 434.4L592.7 432.8L592.4 432.6L592.1 431L591.7 431.3L591.4 432.1L591.1 433L590.7 432L590.4 430.4L590.1 429L589.8 429.5L589.4 426.8L589.1 426.2L588.8 426L588.4 427.8L588.1 426.1L587.8 426.3L587.4 427.1L587.1 425.3L586.8 427.2L586.5 427.9L586.1 429.1L585.8 427.3L585.5 427.7L585.1 425.2L584.8 423.3L584.5 420.8L584.1 421.2L583.8 419.1L583.5 418.4L583.2 419.4L582.8 417.3L582.5 416.3L582.2 415.8L581.8 413.9L581.5 413.7L581.2 415.9L580.8 412.6L580.5 413.1L580.2 413.1L579.9 411.8L579.5 412.6L579.2 412.4L578.9 413.4L578.5 413.2L578.2 414.4L577.9 413.5L577.5 411.9L577.2 411.6L576.9 412.6L576.6 412.6L576.2 410.1L575.9 408L575.6 406.4L575.2 408L574.9 410L574.6 410.5L574.2 409.7L573.9 410.5L573.6 410.6L573.3 412.6L572.9 412.8L572.6 411.6L572.3 411.9L571.9 411.4L571.6 409.6L571.3 409.9L570.9 410.3L570.6 407.9L570.3 404.6L570 405.8L569.6 403.7L569.3 403.3L569 404L568.6 403.8L568.3 401.3L568 401.7L567.6 401.7L567.3 402.5L567 403.5L566.7 402.4L566.3 402.1L566 401L565.7 400.2L565.3 398.5L565 399.5L564.7 401.6L564.3 401L564 400L563.7 399.8L563.4 400.5L563 400.4L562.7 399.3L562.4 401.8L562 401.7L561.7 401.7L561.4 402.5L561 402.5L560.7 403.5L560.4 405.1L560.1 406.9L559.7 407.7L559.4 409L559.1 409.5L558.7 409.5L558.4 409.7L558.1 411.7L557.7 412.7L557.4 413.2L557.1 413.6L556.8 414.4L556.4 414.3L556.1 415.9L555.8 416.7L555.4 417.6L555.1 419.4L554.8 419.8L554.4 421.5L554.1 422.7L553.8 423L553.5 422.4L553.1 422.7L552.8 423.8L552.5 424.5L552.1 422.8L551.8 422.9L551.5 425.5L551.1 424.9L550.8 425.5L550.5 426.6L550.2 427.1L549.8 425.7L549.5 425.8L549.2 425.5L548.8 426.6L548.5 426.2L548.2 425.7L547.8 426.6L547.5 427L547.2 429.3L546.9 433.9L546.5 434.9L546.2 436.4L545.9 435.8L545.5 437.9L545.2 437.4L544.9 437.8L544.5 438.3L544.2 440.5L543.9 439.4L543.6 442L543.2 443.7L542.9 445.9L542.6 445.2L542.2 445.5L541.9 447.6L541.6 448.4L541.2 448.9L540.9 449.1L540.6 450.3L540.3 449.4L539.9 448.4L539.6 450.6L539.3 448.9L538.9 448.6L538.6 448.5L538.3 449.7L537.9 451.9L537.6 452.4L537.3 454.3L537 454.1L536.6 456.4L536.3 456.8L536 457.6L535.6 460.7L535.3 461L535 462.7L534.6 462.9L534.3 462.8L534 463.9L533.7 465L533.3 465.1L533 465.5L532.7 465.6L532.3 468.2L532 467.6L531.7 468.6L531.3 467.3L531 468.7L530.7 468.9L530.4 472.3L530 471.3L529.7 473.4L529.4 476.8L529 480.3L528.7 478.8L528.4 480.3L528 480.8L527.7 483.1L527.4 484.2L527.1 483.8L526.7 483.8L526.4 484.8L526.1 485.2L525.7 485.4L525.4 485.7L525.1 486.8L524.7 488.3L524.4 487.2L524.1 489.4L523.8 491.9L523.4 493.5L523.1 495.2L522.8 493.8L522.4 494.2L522.1 493L521.8 493.7L521.4 495.1L521.1 495.9L520.8 496.7L520.5 496.1L520.1 496.9L519.8 498.6L519.5 501.2L519.1 502L518.8 503.6L518.5 504.6L518.1 505.1L517.8 503.7L517.5 505.8L517.2 508.4L516.8 509.9L516.5 508.8L516.2 510.6L515.8 510.2L515.5 510.6L515.2 509.1L514.8 509.6L514.5 509.9L514.2 509.3L513.9 506.9L513.5 508.4L513.2 507.5L512.9 508.7L512.5 511.7L512.2 511.9L511.9 513.8L511.5 514.5L511.2 512.5L510.9 514.1L510.6 513.8L510.2 513.8L509.9 515.5L509.6 514.9L509.2 514.3L508.9 513.3L508.6 513.2L508.2 513.1L507.9 513.3L507.6 512.3L507.3 512.1L506.9 512.1L506.6 510.8L506.3 512.4L505.9 512.3L505.6 511.8L505.3 511.7L504.9 512.7L504.6 511.9L504.3 513.4L504 513L503.6 513.8L503.3 515.1L503 514.2L502.6 513.7L502.3 513L502 512.2L501.6 512.7L501.3 511.9L501 510.9L500.7 512.7L500.3 512L500 511.5L499.7 512.7L499.3 512.5L499 512.4L498.7 513.1L498.3 512.5L498 511.9L497.7 512.3L497.4 513L497 513.4L496.7 514.1L496.4 511.6L496 511.2L495.7 511.2L495.4 512.6L495 513.9L494.7 511.2L494.4 510.3L494.1 512.8L493.7 512.3L493.4 515.9L493.1 515.6L492.7 515.3L492.4 514.3L492.1 515.8L491.7 516L491.4 512.5L491.1 513.5L490.8 511.3L490.4 512.3L490.1 513L489.8 514.1L489.4 515.4L489.1 514.6L488.8 513.1L488.4 512.8L488.1 514.2L487.8 513.9L487.5 513.2L487.1 513.4L486.8 511.2L486.5 508L486.1 507.9L485.8 507.8L485.5 508.9L485.1 510.1L484.8 508.2L484.5 508.5L484.2 509.8L483.8 509.2L483.5 511.8L483.2 509.5L482.8 509.8L482.5 511.6L482.2 511.2L481.8 512.5L481.5 511.3L481.2 511.5L480.9 512.8L480.5 513.5L480.2 514L479.9 514.5L479.5 512.9L479.2 514.1L478.9 514.8L478.5 515.4L478.2 513.6L477.9 512.7L477.6 512.8L477.2 511.2L476.9 510.3L476.6 510.1L476.2 510.8L475.9 511.8L475.6 508.4L475.2 508.5L474.9 510.1L474.6 509.6L474.3 512.1L473.9 514L473.6 514L473.3 513.6L472.9 515L472.6 514.4L472.3 512.7L471.9 512.9L471.6 512.7L471.3 513L471 513.9L470.6 512.6L470.3 511.9L470 510L469.6 509.5L469.3 508.3L469 509.8L468.6 512L468.3 512.5L468 510.9L467.7 511.4L467.3 511.2L467 512.4L466.7 511.9L466.3 513.8L466 514L465.7 513.1L465.3 513.6L465 514.3L464.7 515.4L464.4 515.4L464 516.2L463.7 513.8L463.4 516.1L463 515L462.7 514.4L462.4 514.9L462 516.1L461.7 515.8L461.4 516.5L461.1 516.2L460.7 516.5L460.4 516.6L460.1 517.1L459.7 517.3L459.4 516.3L459.1 514.7L458.7 514L458.4 512.5L458.1 513.6L457.8 513.4L457.4 512L457.1 510.6L456.8 512.6L456.4 511.8L456.1 511.7L455.8 511.4L455.4 510.2L455.1 506.6L454.8 506.8L454.5 506.6L454.1 505.6L453.8 506.7L453.5 506.3L453.1 506.8L452.8 507.5L452.5 510.1L452.1 511.9L451.8 512.3L451.5 511.7L451.2 509.8L450.8 508.1L450.5 509.4L450.2 508.5L449.8 510.1L449.5 511.4L449.2 513.4L448.8 512.5L448.5 512.9L448.2 512.7L447.9 514.4L447.5 514.7L447.2 511.3L446.9 510.1L446.5 509.5L446.2 510.1L445.9 510.9L445.5 510.9L445.2 507.9L444.9 509.5L444.6 509.4L444.2 509.8L443.9 509.9L443.6 512.5L443.2 513.6L442.9 514.5L442.6 513.2L442.2 512.5L441.9 513.3L441.6 512.7L441.3 513.1L440.9 515.6L440.6 514.5L440.3 514.9L439.9 512.3L439.6 511.4L439.3 512L438.9 509.1L438.6 510.2L438.3 509.8L438 511.2L437.6 511.9L437.3 512.8L437 512.2L436.6 513.2L436.3 511.4L436 513.1L435.6 513L435.3 514.7L435 515.9L434.7 517L434.3 516.6L434 516L433.7 516.9L433.3 516.2L433 516.9L432.7 514.1L432.3 513.2L432 512.6L431.7 512L431.4 513L431 514.5L430.7 515.3L430.4 515.4L430 515.2L429.7 514.7L429.4 514.1L429 514.2L428.7 514.3L428.4 512.2L428.1 513.1L427.7 513.1L427.4 510.3L427.1 510.3L426.7 513.6L426.4 511.9L426.1 510.9L425.7 510.4L425.4 511.2L425.1 511.3L424.8 511.9L424.4 511.6L424.1 511.6L423.8 509.9L423.4 509.5L423.1 508.9L422.8 510.4L422.4 510.7L422.1 510.5L421.8 512.6L421.5 512.2L421.1 512.6L420.8 511.8L420.5 511.4L420.1 509.6L419.8 509.5L419.5 509.2L419.1 509.6L418.8 509.2L418.5 509.3L418.2 511.3L417.8 515.2L417.5 515.5L417.2 515.3L416.8 515.8L416.5 516.2L416.2 515.5L415.8 515.9L415.5 512.5L415.2 512.9L414.9 512.8L414.5 513.3L414.2 510.7L413.9 510.5L413.5 511.8L413.2 514.1L412.9 512.4L412.5 510.6L412.2 512.2L411.9 512.9L411.6 512L411.2 511.9L410.9 513.3L410.6 512.4L410.2 512.5L409.9 511.2L409.6 510.2L409.2 510.7L408.9 511.6L408.6 511.5L408.3 510.4L407.9 509.8L407.6 508.5L407.3 508.6L406.9 509.3L406.6 508.6L406.3 509.2L405.9 510.5L405.6 512.8L405.3 511.3L405 512.3L404.6 512.3L404.3 510.5L404 512.2L403.6 512.4L403.3 513.3L403 515.3L402.6 515.4L402.3 514.3L402 513.9L401.7 511.3L401.3 508.7L401 506.8L400.7 507.7L400.3 508.3L400 510L399.7 512.1L399.3 509.8L399 509L398.7 509.9L398.4 509.8L398 508.7L397.7 509.5L397.4 507.2L397 507L396.7 505.9L396.4 506.1L396 505.4L395.7 504.3L395.4 503.6L395.1 504.2L394.7 504.9L394.4 505.5L394.1 504.8L393.7 503.9L393.4 501.8L393.1 501L392.7 502L392.4 501.5L392.1 500.9L391.8 501.4L391.4 501.9L391.1 501.2L390.8 498.5L390.4 499.3L390.1 500.6L389.8 499.5L389.4 500.2L389.1 499.4L388.8 499.8L388.5 499.4L388.1 499.2L387.8 498.6L387.5 499.4L387.1 499.2L386.8 500.8L386.5 500.7L386.1 499.7L385.8 500L385.5 503.6L385.2 500.7L384.8 502.2L384.5 500.9L384.2 501.1L383.8 501.5L383.5 500.2L383.2 500.3L382.8 498.6L382.5 497.7L382.2 496.8L381.9 496.1L381.5 498.9L381.2 496.7L380.9 496.5L380.5 497.7L380.2 495.8L379.9 497.2L379.5 498.2L379.2 498.4L378.9 499.3L378.6 496.9L378.2 497L377.9 494.1L377.6 495.4L377.2 496.8L376.9 497.8L376.6 496.9L376.2 498.5L375.9 497L375.6 496.4L375.3 497.4L374.9 497.4L374.6 495.4L374.3 496.7L373.9 496.9L373.6 496.1L373.3 496.5L372.9 496L372.6 496.3L372.3 494.9L372 492.9L371.6 491.3L371.3 489.4L371 488.8L370.6 487.5L370.3 488.6L370 487L369.6 484.3L369.3 483.9L369 482.7L368.7 481.9L368.3 481.9L368 483.3L367.7 482.6L367.3 480.4L367 476.2L366.7 476.1L366.3 471.6L366 469.3L365.7 468.3L365.4 466.1L365 463.9L364.7 464.8L364.4 462L364 460.3L363.7 461.4L363.4 459.4L363 458.8L362.7 456.4L362.4 454.6L362.1 453.3L361.7 450.3L361.4 446.2L361.1 444.9L360.7 441.7L360.4 440.2L360.1 439.5L359.7 438.9L359.4 440.4L359.1 439.3L358.8 440.1L358.4 438.2L358.1 435.9L357.8 435.1L357.4 436.7L357.1 435.5L356.8 433.9L356.4 433.7L356.1 432.2L355.8 429.7L355.5 431.6L355.1 431.1L354.8 429L354.5 429.4L354.1 426.7L353.8 424.7L353.5 423.8L353.1 422.2L352.8 420.5L352.5 418.4L352.2 417.1L351.8 414.2L351.5 412.6L351.2 412.7L350.8 412.6L350.5 412L350.2 408.6L349.8 408.6L349.5 407.8L349.2 408.1L348.9 407.2L348.5 405.4L348.2 404.3L347.9 403.6L347.5 401.6L347.2 403.6L346.9 403.6L346.5 401.2L346.2 397.9L345.9 398L345.6 398.5L345.2 397.2L344.9 397L344.6 394.7L344.2 397.1L343.9 396.7L343.6 397.2L343.2 400.1L342.9 401.3L342.6 400.5L342.3 401.4L341.9 401.6L341.6 401.9L341.3 403.7L340.9 403.3L340.6 404.3L340.3 402.2L339.9 402.4L339.6 402.9L339.3 403.3L339 404.1L338.6 403.2L338.3 403.8L338 404.9L337.6 405.7L337.3 405.1L337 407.1L336.6 407.2L336.3 406.7L336 407.2L335.7 408.3L335.3 406.7L335 407.1L334.7 404.8L334.3 403.8L334 404.2L333.7 403.9L333.3 405.1L333 406.6L332.7 404L332.4 404.9L332 405.6L331.7 405.1L331.4 405.5L331 405L330.7 405.2L330.4 404.8L330 406.9L329.7 406.4L329.4 406.7L329.1 409.6L328.7 409.6L328.4 409.9L328.1 412.7L327.7 409.1L327.4 409.2L327.1 406.8L326.7 406.7L326.4 409.6L326.1 410.2L325.8 411.7L325.4 412.8L325.1 415.5L324.8 419L324.4 421L324.1 419.3L323.8 419.4L323.4 420.4L323.1 420.9L322.8 421.3L322.5 421.9L322.1 422.1L321.8 422.8L321.5 423.5L321.1 421.7L320.8 419.9L320.5 417.9L320.1 418.5L319.8 416.7L319.5 415.1L319.2 415.8L318.8 416.7L318.5 414.6L318.2 414.2L317.8 414.4L317.5 413.1L317.2 413.5L316.8 413.1L316.5 412.7L316.2 412.6L315.9 411.2L315.5 410.9L315.2 410L314.9 409.9L314.5 408.2L314.2 407.2L313.9 405.2L313.5 403.5L313.2 402L312.9 401.6L312.6 400.9L312.2 402.2L311.9 402L311.6 401.7L311.2 401.3L310.9 400.8L310.6 398.7L310.2 397.8L309.9 397L309.6 399.1L309.3 397.5L308.9 394.4L308.6 394.7L308.3 395.4L307.9 395.7L307.6 394.5L307.3 392.7L306.9 391L306.6 392.6L306.3 391.9L306 392L305.6 391.3L305.3 390.3L305 390.1L304.6 390.8L304.3 390L304 389.2L303.6 387.5L303.3 384.5L303 383.2L302.7 380.8L302.3 380.7L302 382.5L301.7 380.9L301.3 379.3L301 377.3L300.7 377.7L300.3 377.3L300 375.3L299.7 373.5L299.4 373.4L299 371.5L298.7 371.3L298.4 372.3L298 371L297.7 368.5L297.4 369.8L297 368.6L296.7 366.4L296.4 366L296.1 363.7L295.7 363.4L295.4 364.2L295.1 366.7L294.7 367.1L294.4 368L294.1 371L293.7 372.6L293.4 372.9L293.1 372.5L292.8 372.2L292.4 374.4L292.1 374.3L291.8 374.6L291.4 374.3L291.1 374.3L290.8 373.7L290.4 372.9L290.1 372.8L289.8 372.5L289.5 373L289.1 372.3L288.8 372.5L288.5 371.2L288.1 372.2L287.8 372.5L287.5 374.6L287.1 374L286.8 373.3L286.5 374.6L286.2 374.9L285.8 373.4L285.5 373.3L285.2 374.2L284.8 374.3L284.5 375.7L284.2 373.8L283.8 373.9L283.5 376.1L283.2 375.2L282.9 373.7L282.5 373.2L282.2 374.6L281.9 372.3L281.5 374.2L281.2 374.5L280.9 375.7L280.5 377L280.2 374.5L279.9 376.9L279.6 377.7L279.2 376.6L278.9 376.5L278.6 376.6L278.2 377.5L277.9 379.1L277.6 379.2L277.2 380.1L276.9 379.2L276.6 378.3L276.3 378.9L275.9 380.1L275.6 380.5L275.3 379.9L274.9 379.5L274.6 381.8L274.3 383.6L273.9 384.6L273.6 384L273.3 385.5L273 384.8L272.6 386L272.3 387.5L272 386.7L271.6 384.1L271.3 386.9L271 387.3L270.6 387.6L270.3 389.1L270 389.8L269.7 391.2L269.3 393.1L269 394.2L268.7 397.3L268.3 396.4L268 398.2L267.7 401L267.3 404.4L267 404.2L266.7 407.4L266.4 409.4L266 412.9L265.7 414L265.4 414.7L265 415.3L264.7 416.6L264.4 417.4L264 420.1L263.7 422L263.4 423.1L263.1 425.7L262.7 428.8L262.4 429.3L262.1 431.3L261.7 431.3L261.4 432L261.1 432.5L260.7 434.5L260.4 436.1L260.1 436.4L259.8 437.7L259.4 435.9L259.1 437L258.8 437.6L258.4 439.1L258.1 440.6L257.8 441.2L257.4 442.4L257.1 444.5L256.8 448.5L256.5 448.9L256.1 452.1L255.8 452.9L255.5 453.4L255.1 456.2L254.8 456.6L254.5 459.2L254.1 461.1L253.8 463.3L253.5 465.5L253.2 463.9L252.8 464.5L252.5 466.1L252.2 469L251.8 472L251.5 472.3L251.2 472.6L250.8 473L250.5 475.3L250.2 477.4L249.9 480.5L249.5 480.8L249.2 484.1L248.9 485.1L248.5 486.6L248.2 486.6L247.9 488L247.5 489.5L247.2 489.9L246.9 490.5L246.6 492.3L246.2 491.5L245.9 491.9L245.6 490L245.2 490.3L244.9 491.2L244.6 493.9L244.2 493.5L243.9 494.5L243.6 495.1L243.3 494.8L242.9 495.2L242.6 494.9L242.3 493.8L241.9 494.3L241.6 492.2L241.3 490.6L240.9 490.8L240.6 488.9L240.3 489.2L240 489.3L239.6 487.7L239.3 486.4L239 487.6L238.6 489.3L238.3 489.7L238 489.7L237.6 489.1L237.3 488.7L237 489.3L236.7 488.5L236.3 488.2L236 488L235.7 489.1L235.3 490.6L235 492.6L234.7 493.1L234.3 493L234 490.9L233.7 490.6L233.4 491.7L233 490.3L232.7 490L232.4 492L232 493.1L231.7 493L231.4 495.2L231 495.4L230.7 494.4L230.4 496.6L230.1 497.5L229.7 498L229.4 498.1L229.1 496.6L228.7 497.4L228.4 496.3L228.1 494.5L227.7 493.7L227.4 494.5L227.1 492.7L226.8 493.2L226.4 493.5L226.1 494.7L225.8 494.3L225.4 493.4L225.1 492.1L224.8 494.2L224.4 496.2L224.1 496L223.8 494.8L223.5 494.2L223.1 496.1L222.8 494.1L222.5 494.9L222.1 494.7L221.8 493.7L221.5 495.2L221.1 494.3L220.8 495.2L220.5 494L220.2 494.6L219.8 493.7L219.5 493.4L219.2 494.4L218.8 495.4L218.5 496.9L218.2 497.9L217.8 497L217.5 496.6L217.2 496.2L216.9 496.4L216.5 496.4L216.2 496.8L215.9 498.5L215.5 497.7L215.2 497.3L214.9 496.8L214.5 496.7L214.2 497.2L213.9 497.1L213.6 498.5L213.2 497.6L212.9 500L212.6 500.9L212.2 501.5L211.9 502.8L211.6 501.4L211.2 498.8L210.9 498.4L210.6 495.6L210.3 496.6L209.9 496.9L209.6 494.8L209.3 494.6L208.9 491.6L208.6 492.9L208.3 491.5L207.9 489.9L207.6 488.7L207.3 487.6L207 488.4L206.6 488.6L206.3 488.6L206 487.5L205.6 485.6L205.3 485.8L205 485L204.6 482.8L204.3 484L204 481.4L203.7 482.4L203.3 481.4L203 478.4L202.7 477.3L202.3 476.4L202 475.8L201.7 472.3L201.3 470.5L201 472.5L200.7 472.9L200.4 472.8L200 473.2L199.7 472.5L199.4 475.3L199 473.6L198.7 473.4L198.4 471.8L198 471.4L197.7 468L197.4 465.9L197.1 464.6L196.7 465.3L196.4 465.1L196.1 461.6L195.7 461.6L195.4 460.2L195.1 458.8L194.7 456.6L194.4 455.8L194.1 456.5L193.8 457.3L193.4 455.6L193.1 455.3L192.8 455L192.4 453.6L192.1 454.5L191.8 453.1L191.4 452.9L191.1 451.9L190.8 451.2L190.5 449.7L190.1 448.9L189.8 448.3L189.5 448.6L189.1 448L188.8 447.4L188.5 446.5L188.1 447L187.8 445.8L187.5 446.5L187.2 446.1L186.8 445.2L186.5 443L186.2 444.1L185.8 443.9L185.5 443.2L185.2 442.7L184.8 439.8L184.5 438.1L184.2 438.4L183.9 436.7L183.5 438.3L183.2 435.2L182.9 434.3L182.5 433.9L182.2 433.2L181.9 432.8L181.5 431.6L181.2 431.7L180.9 431.3L180.6 428.9L180.2 427.4L179.9 425.2L179.6 421.1L179.2 418.6L178.9 418L178.6 415.6L178.2 416.4L177.9 415.8L177.6 415.5L177.3 412.3L176.9 412.4L176.6 411.7L176.3 408.4L175.9 405.9L175.6 405L175.3 404L174.9 400.6L174.6 396L174.3 393.4L174 391.6L173.6 388.7L173.3 386.5L173 384.1L172.6 381.5L172.3 378L172 379.2L171.6 376.4L171.3 373.3L171 370.7L170.7 370.4L170.3 370.1L170 366.7L169.7 365L169.3 365L169 363.8L168.7 363L168.3 361.2L168 358.2L167.7 358.1L167.4 357.7L167 355.3L166.7 353.1L166.4 352.5L166 350.2L165.7 347.1L165.4 346.1L165 342L164.7 341.5L164.4 338.7L164.1 339.6L163.7 337.1L163.4 333.9L163.1 332.4L162.7 330.3L162.4 328.4L162.1 324.8L161.7 323.8L161.4 322.2L161.1 320.9L160.8 319.6L160.4 318.6L160.1 315.3L159.8 313.4L159.4 311.9L159.1 309.7L158.8 305.9L158.4 305.1L158.1 304.3L157.8 303.2L157.5 300.8L157.1 299.8L156.8 299.4L156.5 296.6L156.1 296L155.8 292L155.5 291.7L155.1 291.2L154.8 288.5L154.5 285.1L154.2 283.6L153.8 281.4L153.5 277.7L153.2 276.7L152.8 277.2L152.5 276.2L152.2 274.4L151.8 273.6L151.5 272.9L151.2 269L150.9 268L150.5 264.8L150.2 262.7L149.9 261.1L149.5 261L149.2 260L148.9 258.1L148.5 254.8L148.2 252.5L147.9 251.8L147.6 246.7L147.2 242.9L146.9 242.6L146.6 242.6L146.2 239.3L145.9 238.5L145.6 236.7L145.2 234.9L144.9 234.2L144.6 230.4L144.3 228.5L143.9 226.7L143.6 223.8L143.3 223.8L142.9 220.1L142.6 219.8L142.3 218.6L141.9 216.2L141.6 215L141.3 213.5L141 210.5L140.6 209.3L140.3 207.2L140 203L139.6 204.1L139.3 201.5L139 201.8L138.6 197.9L138.3 197.4L138 194.4L137.7 193.1L137.3 190.9L137 188.3L136.7 186.9L136.3 183.5L136 180.5L135.7 179.1L135.3 177.1L135 174L134.7 174.5L134.4 172.5L134 170.8L133.7 168.6L133.4 167L133 164.3L132.7 161.4L132.4 159L132 157.5L131.7 155.2L131.4 151.9L131.1 150.2L130.7 149.3L130.4 149.1L130.1 146.9L129.7 145.5L129.4 144.4Z" fill="#0072B2" fill-opacity="0.2" stroke="#0072B2" stroke-opacity="0.22" stroke-width="1.5" stroke-linejoin="round"/>
<rect x="939.2" y="427.5" width="5.8" height="83.5" fill="#0072B2" fill-opacity="0.13"/>
</g>
<path d="M160.5 15.5V542.5" stroke="#808080" stroke-opacity="0.2" stroke-width="1" fill="none" shape-rendering="crispEdges"/><path d="M285.5 15.5V542.5" stroke="#808080" stroke-opacity="0.2" stroke-width="1" fill="none" shape-rendering="crispEdges"/><path d="M409.5 15.5V542.5" stroke="#808080" stroke-opacity="0.2" stroke-width="1" fill="none" shape-rendering="crispEdges"/><path d="M534.5 15.5V542.5" stroke="#808080" stroke-opacity="0.2" stroke-width="1" fill="none" shape-rendering="crispEdges"/><path d="M659.5 15.5V542.5" stroke="#808080" stroke-opacity="0.2" stroke-width="1" fill="none" shape-rendering="crispEdges"/><path d="M783.5 15.5V542.5" stroke="#808080" stroke-opacity="0.2" stroke-width="1" fill="none" shape-rendering="crispEdges"/><path d="M908.5 15.5V542.5" stroke="#808080" stroke-opacity="0.2" stroke-width="1" fill="none" shape-rendering="crispEdges"/><path d="M88.5 511.5H985.5" stroke="#808080" stroke-opacity="0.2" stroke-width="1" fill="none" shape-rendering="crispEdges"/><path d="M88.5 419.5H985.5" stroke="#808080" stroke-opacity="0.2" stroke-width="1" fill="none" shape-rendering="crispEdges"/><path d="M88.5 326.5H985.5" stroke="#808080" stroke-opacity="0.2" stroke-width="1" fill="none" shape-rendering="crispEdges"/><path d="M88.5 233.5H985.5" stroke="#808080" stroke-opacity="0.2" stroke-width="1" fill="none" shape-rendering="crispEdges"/><path d="M88.5 140.5H985.5" stroke="#808080" stroke-opacity="0.2" stroke-width="1" fill="none" shape-rendering="crispEdges"/><path d="M88.5 47.5H985.5" stroke="#808080" stroke-opacity="0.2" stroke-width="1" fill="none" shape-rendering="crispEdges"/>
<g clip-path="url(#ax)">
<path d="M133.4 39.4h0M129.2 47.2h0M131 47.6h0M133.8 48.4h0M130.4 62.4h0M130.6 70.4h0M129.2 74.2h0M130.2 76.6h0M133.4 78.4h0M130.6 84.8h0M133.4 90.4h0M133 93.6h0M133.5 104.5h0M131.3 109.5h0M134.5 116.2h0M133.2 120.5h0M135 124.5h0M131 124h0M134.5 132.5h0M150.5 143.3h0M131 143h0M130.5 147.5h0M136.5 149.5h0M132 155h0M139.5 155.5h0M132 159h0M132 163.5h0M140.5 163.5h0M140 166.5h0M132.2 169.5h0M141 171h0M135.5 173h0M135 177h0M140.5 177.5h0M150.5 181h0M150.5 186h0M135 186.2h0M137 184h0M136.5 194.5h0M140 195h0M145.5 195h0M138 198.5h0M152.5 202.5h0M149 205h0M152.5 214h0M154.5 219h0M154 225h0M155 233.5h0M154.5 240h0M155 248h0M154 254h0M134 196h0M133.5 203h0M135.5 210h0M137.5 213.5h0M136 223h0M137 227h0M139.5 233h0M140 242h0M139.3 248h0M142 247h0M141.5 250h0M141.5 260.3h0M153 252h0M153 256.5h0M163.5 259h0M165 265h0M164.5 271.5h0M154 271.5h0M158.5 271.5h0M164.5 279.5h0M154 281.5h0M167 284.5h0M155 310h0M155 316h0M155 322.5h0M156.5 326.5h0M156.5 335h0M161.5 333h0M162 321.5h0M162 328h0M175.5 341.5h0M175.5 347h0M176 350.5h0M175.5 355h0M177 360h0M177 364h0M177 367h0M177 371h0M278.4 234.4h0M279.4 245.2h0M278.2 248h0M278.2 254h0M280.6 256.8h0M279.8 260h0M279.8 264h0M281 268h0M278.2 271.6h0M281.4 272.8h0M279 272h0M282 273h0M279.5 278.5h0M281.5 282.5h0M278 284.5h0M281 290.5h0M278.5 295h0M283 295.5h0M285 299.5h0M277.5 301h0M277 305.5h0M277 311h0M277.5 318h0M276 322.5h0M277 327h0M277 330h0M276 333h0M271.5 335.5h0M271.5 340h0M276.5 341h0M282.5 335.5h0M282.5 341.5h0M271.5 346.5h0M276.5 350h0M275.5 354h0M270 359h0M274 362h0M301.5 327.2h0M302 333h0M304.5 336h0M304 340h0M335.5 335.5h0M341.5 330.5h0M344 334h0M346 339h0M320.4 445.6h0M320.4 440h0M320.6 436h0M533.6 456.5h0M534 461h0M533.2 465.5h0M576.4 300.4h0M578.4 316.4h0M577 319h0M577.6 322h0M577 326h0M577 329h0M576 333h0M578.4 340h0M575.6 344.4h0M575.6 350h0M578.4 353h0M575.6 362h0M577 358h0M545.5 359h0M545.5 362.4h0M545 371.5h0M555.2 379.6h0M555 383h0M543 392h0M571.5 393h0M573.5 382.5h0M589.5 394.5h0M589.5 399h0M753.5 327.2h0M753.5 333h0M754 336.5h0M754 339h0M753.8 341.5h0M753.8 344.5h0M753.5 347h0M754 352.5h0M754.5 355h0M755 359h0M755.5 362h0M755 365h0M753.5 368h0M752.5 372h0M756.5 372.5h0M752 378.5h0M755 375.5h0M751.5 380h0M751.5 384.5h0M751.5 390h0M757 384.5h0M757 389.5h0M749 413.5h0M764.5 383.2h0M778 394.2h0M785 401.5h0M759 431.5h0M774 425.5h0M736.4 417.6h0M736.4 424h0M131.5 153.3h0M131.7 153.7h0M131.9 155.8h0M132.2 152.8h0M132.4 155.9h0M132.6 158.3h0M132.8 162.8h0M133 159.2h0M133.3 164.6h0M133.5 177.2h0M133.7 158.2h0M133.9 166.1h0M134.1 154.5h0M134.4 161.7h0M134.6 176.4h0M134.8 193.6h0M135 203.8h0M135.2 186.9h0M135.5 185.3h0M135.7 161.8h0M135.9 192.1h0M136.1 202.9h0M136.3 188.4h0M136.6 180.8h0M136.8 219.3h0M137 222.1h0M137.2 186.3h0M137.5 192.7h0M137.7 214.7h0M137.9 189.4h0M138.1 207.4h0M138.3 195.5h0M138.6 202.1h0M138.8 180.5h0M139 220.9h0M139.2 200h0M139.4 208.3h0M139.7 212.7h0M139.9 221.3h0M140.1 200h0M140.3 173.4h0M140.5 190.6h0M140.8 185.1h0M141 213.2h0M141.2 196.4h0M141.4 211.9h0M141.6 186.2h0M141.9 176.9h0M142.1 210.7h0M142.3 193.6h0M142.5 233.9h0M142.7 213.2h0M143 242.8h0M143.2 235.4h0M143.4 244.4h0M143.6 225.7h0M143.8 233.5h0M144.1 222.1h0M144.3 197.5h0M144.5 191.6h0M144.7 205.3h0M144.9 237.4h0M145.2 223h0M145.4 217.7h0M145.6 245h0M145.8 243.8h0M146 245.7h0M146.3 240.8h0M146.5 241.8h0M146.7 224.6h0M146.9 231.4h0M147.2 239.4h0M147.4 239.8h0M147.6 209.5h0M147.8 230.8h0M148 235h0M148.3 245.5h0M148.5 247.6h0M148.7 230h0M148.9 247.1h0M149.1 242.1h0M149.4 237.2h0M149.6 246.8h0M149.8 242.9h0M150 246.8h0M150.2 251.7h0M150.5 248.5h0M150.7 246.5h0M150.9 227.5h0M151.1 238.3h0M151.3 239h0M151.6 240.7h0M151.8 246.9h0M152 234.9h0M153.5 293.8h0M153.7 285.8h0M153.9 269.6h0M154 277.9h0M154.2 266.4h0M154.4 253.7h0M154.6 270.1h0M154.8 264.5h0M154.9 295.2h0M155.1 286.4h0M155.3 257.4h0M155.5 280.5h0M155.7 286h0M155.9 306.3h0M156 329.1h0M156.2 319.9h0M156.4 313.4h0M156.6 310.4h0M156.8 288.5h0M156.9 303.9h0M157.1 328h0M157.3 326.3h0M157.5 318.5h0M157.7 312.4h0M157.8 300.3h0M158 291.2h0M158.2 290.6h0M158.4 287.1h0M158.6 287.9h0M158.7 304.7h0M158.9 311.5h0M159.1 313.1h0M159.3 300.9h0M159.5 310.5h0M159.6 311.7h0M159.8 324.2h0M160 315.4h0M160.2 311.2h0M160.4 307.4h0M160.6 315.9h0M160.7 308.4h0M160.9 319.4h0M161.1 317h0M161.3 325.2h0M161.5 324.5h0M161.6 321.9h0M161.8 311h0M162 308.6h0M163 275.4h0M163.2 295.7h0M163.4 293.6h0M163.7 298.6h0M163.9 279.5h0M164.1 287.2h0M164.3 294.9h0M164.6 299.2h0M164.8 285h0M165 305.2h0M165.2 280h0M165.4 290.8h0M165.7 295.7h0M165.9 303.1h0M166.1 289.4h0M166.3 275.9h0M166.5 279.9h0M166.8 286.4h0M167 296.4h0M167.2 303.7h0M167.4 308.5h0M167.7 305.6h0M167.9 308h0M168.1 303.4h0M168.3 301.5h0M168.5 317h0M168.8 306.3h0M169 295.4h0M169.2 295.9h0M169.4 302.7h0M169.7 300.7h0M169.9 317.3h0M170.1 315.4h0M170.3 322.5h0M170.5 313.5h0M170.8 318h0M171 302.5h0M171.2 315h0M171.4 315.9h0M171.7 317h0M171.9 327.8h0M172.1 321.7h0M172.3 333.4h0M172.5 333.6h0M172.8 331.8h0M173 325.3h0M173.2 331.9h0M173.4 356.7h0M173.6 357.9h0M173.9 337.6h0M174.1 327.1h0M174.3 330.7h0M174.5 330h0M174.8 343.4h0M175 361.2h0M175.2 366.3h0M176.3 378.9h0M176.4 380.3h0M175.9 380.7h0M176.2 379.9h0M176.4 384.2h0M176.4 382.7h0M176.7 379.8h0M176.6 387.3h0M176.7 382.8h0M177.2 393.1h0M177.2 388h0M177.1 381.8h0M177.3 394.6h0M177.1 387.2h0M177.3 378.8h0M177.9 395.2h0M177.6 386.3h0M178 404.1h0M177.8 393.7h0M178.1 382.4h0M177.9 402.8h0M178.4 390.9h0M178.7 413.4h0M178.5 400.4h0M178.6 386.3h0M178.6 411.2h0M178.6 396.5h0M179.3 380.9h0M179.4 408.5h0M179.2 392.4h0M179.4 421.9h0M179.6 405.3h0M179.3 388.3h0M179.4 417.1h0M179.5 400.8h0M179.7 386.1h0M179.7 413.1h0M180.3 398.5h0M180.4 422.9h0M180.3 409.3h0M180.6 396.4h0M180.4 418.8h0M180.5 406.5h0M180.9 427.1h0M180.8 415.4h0M180.9 404.8h0M181.4 423.5h0M181 413.4h0M181.5 404.3h0M181.5 420.7h0M181.3 413.6h0M181.7 426.2h0M181.6 420.4h0M181.9 416.4h0M182.1 425.9h0M182.9 440.3h0M182.9 446.4h0M183.2 442.8h0M183.2 439h0M183.2 445.7h0M183.6 441.8h0M183.9 437.2h0M183.9 444h0M184.1 439.8h0M183.8 446.4h0M184.2 442.9h0M184 439.3h0M184.1 445.7h0M184.7 441.4h0M184.4 437.7h0M184.4 444.2h0M184.6 440.5h0M185 447.4h0M185 443.2h0M185.2 438.7h0M185.3 445.8h0M185.5 441.8h0M185.7 448.8h0M185.5 444.9h0M185.5 440.8h0M186 446.9h0M186.2 443.3h0M185.7 439h0M186.3 445.3h0M186 440.9h0M186.1 447h0M186.2 443.1h0M186.4 439.7h0M186.7 445.1h0M186.7 441.5h0M187.1 438.2h0M187.2 443.8h0M187 440.3h0M187.2 446h0M187.2 442.9h0M187.5 439.1h0M187.8 445.2h0M187.4 441.8h0M188 448.2h0M187.8 444.6h0M188.2 440.8h0M188.1 446.3h0M188.3 443.1h0M188.5 439.7h0M188.7 445.7h0M188.6 442.5h0M189 447.4h0M189 443.9h0M189.1 440.3h0M189.1 446.1h0M189.1 442.6h0M188.9 448.5h0M189.3 444.8h0M189.7 440.5h0M189.7 447.1h0M189.5 443.6h0M190.1 440.5h0M190.5 461.1h0M191.2 466h0M190.9 462.7h0M191.4 459.9h0M191.2 464.4h0M191.1 461.4h0M191.5 458.4h0M191.5 463.2h0M191.7 460h0M191.6 465.1h0M191.8 462.1h0M192.1 458.9h0M191.9 464h0M192.2 460.8h0M192.1 457.7h0M192.1 463h0M192.6 459.8h0M192.6 465.4h0M192.5 461.9h0M192.6 457.9h0M192.7 464.3h0M193.2 460.4h0M192.9 466.8h0M193.5 462.6h0M193.3 458.3h0M193.8 465.3h0M193.4 460.8h0M193.9 456.6h0M193.6 462.9h0M193.7 459.1h0M193.9 464.8h0M194.4 461.3h0M194 458.4h0M194.8 463.8h0M194.8 460.7h0M194.6 457.6h0M194.6 462.4h0M195.1 459.1h0M194.9 463.9h0M195.3 460.5h0M195 457h0M195.5 462.4h0M195.2 459.1h0M195.5 464.6h0M195.4 461.1h0M195.9 458.1h0M195.9 463.3h0M195.9 460.6h0M196 457.8h0M196.3 462.3h0M196.4 459.8h0M196.2 464.2h0M196.2 461.2h0M196.5 458.7h0M197 463.3h0M196.9 459.8h0M196.7 465h0M256.3 460.6h0M255.8 466h0M256.5 462.7h0M256.5 458.9h0M256.5 464.1h0M256.8 460.8h0M256.5 456.9h0M256.9 462.2h0M256.9 459h0M257.2 464.8h0M257.2 461.3h0M257.6 457.6h0M257 463.9h0M257.7 460h0M257.9 455.7h0M257.7 461.3h0M258 457.5h0M258.1 464h0M258.3 460.1h0M257.9 455.7h0M258.1 463.2h0M258 458.5h0M258.4 465.8h0M258.7 461.3h0M258.5 456.4h0M258.5 464.2h0M259.2 459h0M258.9 454.8h0M259.1 462h0M259.1 456.8h0M259.3 464h0M259.3 459.1h0M259.2 454.4h0M259.7 462.1h0M259.5 456.9h0M260.2 451.6h0M259.7 458.6h0M260 453.7h0M260.2 461.2h0M260.1 456.2h0M260.3 450.8h0M260.6 458.7h0M260.9 452.9h0M260.9 461.1h0M261.1 455.4h0M260.7 449.5h0M261.4 458.3h0M261.3 452.7h0M261.4 447.1h0M261.2 455.5h0M261.9 449.7h0M261.5 458.4h0M261.7 451.4h0M261.7 444.4h0M262.2 453.9h0M262.2 446.7h0M262.2 456.2h0M262.4 449.3h0M262.5 442.3h0M262.8 452.1h0M262.4 444.9h0M262.7 437.8h0M262.7 447.4h0M262.8 440.6h0M262.8 450.1h0M262.9 443.5h0M263 436h0M263.6 446.2h0M263.2 437.9h0M263.3 429.8h0M263.6 442.1h0M263.7 433.5h0M264.2 446.1h0M264.2 437.9h0M263.9 429h0M264.1 442h0M264.1 433h0M264.4 445.6h0M265 437.3h0M264.5 428.5h0M265.1 441.8h0M265.3 432.8h0M264.9 423.6h0M265.2 437.6h0M264.9 427.8h0M265.6 442.5h0M265.5 432.1h0M265.8 421.3h0M266 437.4h0M266.2 426.5h0M265.8 442.6h0M266.4 431.8h0M265.9 420.2h0M266.5 437.7h0M266.4 426.5h0M266.5 414.8h0M266.7 432h0M266.6 420.1h0M266.9 438.6h0M267.2 426.4h0M267.4 414.1h0M267.2 432.6h0M267.4 419.9h0M267.3 406.9h0M267.8 426.5h0M267.6 412.8h0M267.7 431.5h0M267.5 417.8h0M268.3 404.9h0M268.1 422.3h0M268.4 409.6h0M268.1 425.9h0M268.3 413.6h0M268.5 401.1h0M268.5 417.3h0M268.4 405.4h0M268.5 393.8h0M268.9 409h0M269.3 397.3h0M269.3 412.7h0M269.2 402.6h0M269.2 391.7h0M269.5 407.3h0M269.5 396.7h0M269.5 387h0M269.8 401.4h0M270 391h0M270.4 405.3h0M270.1 395h0M269.9 385.1h0M270.3 398.3h0M270.4 389.4h0M270.9 401.5h0M270.4 392.8h0M271.1 383.9h0M270.6 395.8h0M271.3 387.3h0M271.5 378.5h0M271 391h0M271.1 382.6h0M271.4 395.9h0M271.8 386.5h0M271.4 377.8h0M271.6 390.9h0M272.1 382.2h0M272.3 395.3h0M271.9 386.8h0M272.2 378.3h0M272 391.1h0M272.2 382.6h0M272.7 373.9h0M272.5 387.4h0M272.6 378.1h0M273 391.9h0M273.2 382.6h0M273.2 373.2h0M272.9 387.5h0M273.3 378h0M273.7 368.7h0M273.8 382.7h0M274 373.9h0M273.9 388h0M274 378.9h0M274.3 369.7h0M274.4 384.4h0M274.3 374.5h0M274.1 389.7h0M274.3 379.7h0M274.6 370.5h0M274.8 385h0M274.9 375.9h0M274.9 366.6h0M275.1 380.6h0M279.2 269.2h0M279 297.4h0M279.2 280h0M279 262.3h0M279.4 290.6h0M279.4 273.2h0M279.5 256.2h0M279.4 284h0M279.3 266.8h0M279.5 295.1h0M279.4 277.9h0M279.5 260h0M279.9 288.7h0M279.5 271.1h0M279.6 253.3h0M279.7 281.3h0M280 263.5h0M279.9 292.4h0M280 274.6h0M280.2 257.1h0M280.1 285.4h0M279.9 268h0M280.3 296h0M280.5 278.4h0M279.9 260.7h0M280.6 288.8h0M280.7 271.5h0M280.6 254h0M280.5 282.4h0M280.2 264.9h0M280.3 292.6h0M280.8 275.4h0M281 258.2h0M280.8 286.2h0M280.8 269h0M280.7 251.8h0M280.5 280.2h0M281 262.5h0M280.7 291h0M281.1 273.5h0M280.9 255.7h0M281.1 284.8h0M283.3 304.6h0M283.5 316.2h0M284 309.9h0M284.1 302.6h0M283.9 315.9h0M284.2 308.7h0M284.3 300.9h0M284.1 315.7h0M284.4 306.9h0M284.6 323.6h0M285 314.1h0M284.8 303.6h0M285.2 322.5h0M285.2 311.7h0M285 300.4h0M285.4 320h0M285.1 309.1h0M285.2 328.8h0M285.8 317.1h0M285.4 305.2h0M286.2 324.8h0M286.1 313.3h0M286.2 333.3h0M286.1 321.6h0M286.1 309.8h0M286.4 329.9h0M286.6 318.3h0M286.6 306.1h0M286.4 326.7h0M286.9 314.9h0M286.7 336.2h0M286.9 324.1h0M287.1 312h0M287.4 332.4h0M287.5 320.4h0M287.3 308.8h0M287.7 329h0M287.9 317.4h0M287.8 336.8h0M287.9 325.3h0M288.3 313.7h0M288.4 333.4h0M288 321.8h0M288.1 339.5h0M288.4 328.9h0M288.6 319.1h0M289 336.3h0M288.8 326.4h0M288.6 317.1h0M289 333.4h0M288.9 324.3h0M289.1 339.5h0M289.7 330.6h0M289.3 321.7h0M289.5 336.4h0M290 327.3h0M290.1 342h0M289.7 333.5h0M290.3 325.7h0M289.9 339.6h0M290.6 331.4h0M290.7 323.3h0M290.4 337.4h0M290.9 329h0M290.8 342.5h0M290.6 334.1h0M291.2 326.1h0M290.9 339.4h0M291.2 332.1h0M291.1 324.9h0M291.4 337.1h0M291.2 330.2h0M291.6 342h0M292 335.7h0M291.7 329.8h0M291.9 340.3h0M292 334.7h0M292.5 343.5h0M292.1 339.2h0M292.1 335h0M294.9 364.8h0M294.6 384.4h0M294.8 372.7h0M295.3 360.2h0M295.1 379.2h0M294.9 367.6h0M295.1 355.8h0M295.2 375.3h0M295.5 363h0M295.7 382.7h0M295.9 370.2h0M295.6 357.9h0M295.7 377.3h0M296.3 364.6h0M296.3 351.5h0M296.5 372.9h0M296.2 359.9h0M296.5 381.4h0M296.7 368.2h0M296.9 354.8h0M296.5 376.3h0M297 363.1h0M297 384.7h0M297.1 371.3h0M297.6 357.9h0M297.5 379h0M297.5 365.7h0M297.8 352.9h0M297.6 374.2h0M297.8 361.6h0M297.7 382h0M298.1 369.5h0M297.9 357.3h0M298.3 377.9h0M298.5 365.5h0M298.2 353.9h0M298.3 372.8h0M298.6 361.3h0M298.8 379.4h0M298.8 368.3h0M299 358.2h0M298.8 375.2h0M299 365h0M299.2 381.4h0M304.2 356.1h0M303.8 380h0M304.4 366h0M304 352.2h0M304 374.5h0M304.6 361h0M304.7 347.9h0M304.2 369.3h0M304.3 356.9h0M304.9 377.5h0M304.9 364.7h0M304.7 353h0M305.1 372.7h0M305 360.4h0M305.1 348.8h0M304.9 368h0M305.4 356.6h0M305.2 375.2h0M305.2 364.7h0M305.4 354.6h0M305.1 371.4h0M305.8 361.5h0M305.3 377.3h0M305.8 367.8h0M305.6 358.1h0M305.8 374h0M305.7 364.5h0M305.7 354.8h0M306.1 370.8h0M306.2 362h0M306.7 378.9h0M306.7 381.8h0M306.9 380.4h0M306.9 378.5h0M307 383h0M307.3 380.9h0M307 377.9h0M307.3 383.2h0M307.6 380.4h0M307.4 387.5h0M307.9 383.4h0M307.4 378.8h0M307.9 387h0M307.9 382.4h0M307.9 377.6h0M308.4 386.4h0M308.6 381.4h0M308.6 391.1h0M308.7 386.1h0M308.8 380h0M308.8 390.2h0M309.2 384.4h0M308.7 395.6h0M308.8 389.7h0M308.9 383.1h0M309.5 395.5h0M309.6 388.4h0M309.2 380.8h0M309.5 393.4h0M309.7 385.8h0M310.1 399.4h0M309.7 391.6h0M310.3 383.2h0M310.2 397.6h0M310 389.5h0M310 381.8h0M310.7 395.8h0M310.6 387.6h0M310.7 400.7h0M310.5 393.1h0M310.6 385.5h0M311.2 398.8h0M311.4 391.1h0M311 404.1h0M311.6 396.2h0M311.2 388.9h0M311.7 402h0M311.4 394.7h0M312 387h0M311.9 399.6h0M312.3 392.2h0M312.2 405.1h0M312.1 397.8h0M312 390.3h0M312.8 403.4h0M312.8 395.5h0M312.5 407.8h0M312.6 400.7h0M313 393.3h0M312.8 405.3h0M312.9 398.2h0M313.2 390.2h0M313.7 402.8h0M313.6 395.2h0M313.6 408h0M314 400.5h0M313.5 393h0M314.2 404.9h0M314.3 398h0M314.2 390.7h0M314.3 403.5h0M314.5 396.3h0M314.5 409.9h0M314.3 401.6h0M314.5 394.3h0M314.6 407.5h0M315.1 399.8h0M314.9 413.4h0M315 405.4h0M315.1 397.1h0M315.4 411.2h0M315.4 403.1h0M315.5 394.3h0M315.4 409.2h0M315.7 401.5h0M316 416h0M316.1 407.8h0M316.4 398.9h0M316.3 414.7h0M316.4 405.6h0M316.6 422.6h0M316.9 413.2h0M317 403h0M316.8 421.8h0M316.5 411.4h0M317.3 400.3h0M317 419.4h0M316.9 408.3h0M317.6 428.7h0M317.4 417.1h0M317.8 404.5h0M317.9 426.3h0M318 413.4h0M318.1 399.6h0M317.7 423h0M318 409.1h0M318.5 433h0M318.4 419h0M318.3 404.6h0M318.8 428.8h0M318.9 414.4h0M318.8 438.8h0M318.6 424.4h0M318.9 410.1h0M319.3 434.4h0M319.1 420.4h0M319.6 406.1h0M319.7 430.3h0M319.7 416h0M319.9 440.5h0M319.5 425.7h0M319.8 410.7h0M319.8 435.3h0M319.8 420.5h0M320.3 406.7h0M320.2 430h0M320.7 416.2h0M320.3 438.9h0M320.4 425.2h0M320.8 411.8h0M320.7 433.6h0M320.9 420.8h0M320.9 440.8h0M320.9 428.9h0M321.5 417.8h0M321.6 436.3h0M321.6 425.3h0M321.4 415.3h0M321.7 430.6h0M322 421.2h0M321.9 435.2h0M322.2 426.2h0M322.1 418.6h0M322 430.2h0M322.3 423.3h0M322.8 432.3h0M335.6 352.4h0M335.5 375.5h0M335.9 361.5h0M336 346.5h0M336.3 370.2h0M336.5 355.3h0M335.9 340.3h0M336.3 364.1h0M336.3 349.4h0M336.4 373h0M336.4 358.1h0M336.8 343.5h0M337 367h0M336.8 352.8h0M336.8 337.9h0M337.4 361.5h0M337.4 346.5h0M337.6 370.8h0M337.6 355.9h0M337.9 340.9h0M337.7 365.3h0M337.8 349.7h0M338 374.7h0M338.2 358.9h0M338.6 343.1h0M338.2 368.9h0M338.8 353.2h0M338.9 337.5h0M338.8 362.4h0M338.7 346.5h0M339 371.9h0M339.3 356.1h0M339.3 339.7h0M339 365.8h0M339.2 349.7h0M339.4 333.8h0M339.8 359.3h0M339.8 343h0M339.6 368.7h0M339.7 352.3h0M339.7 336h0M340.1 361.8h0M340.1 345.3h0M340.6 371.3h0M340.3 355.2h0M340.6 338.6h0M340.9 365.3h0M341.1 348.9h0M341.2 332h0M341.2 359.1h0M341.3 342.6h0M341.2 369.6h0M341.4 352.9h0M341.1 336.2h0M341.9 362.9h0M341.8 346.4h0M342.1 372.2h0M342.1 356.1h0M342.3 340.8h0M342 365h0M342.3 350.3h0M342 335.5h0M342.5 359.8h0M342.4 344.8h0M342.8 369.3h0M342.4 354.1h0M343 339.7h0M342.9 363.1h0M343.3 348.6h0M343.1 333.8h0M343.4 357.4h0M343.6 342.9h0M343.8 366.6h0M343.4 352.2h0M343.9 338.1h0M343.6 360.5h0M343.8 346.2h0M344.2 368.1h0M344.4 354.8h0M344.2 341.9h0M344.3 362.9h0M344.3 350.4h0M344.8 338.8h0M344.6 358.5h0M344.6 347.1h0M344.9 365.9h0M345.1 354.4h0M345 343.3h0M345.3 361.5h0M345.3 350.7h0M345.8 368.2h0M345.5 358.6h0M345.6 348.9h0M346.2 365.8h0M346 355.7h0M346.3 346.3h0M346.5 362h0M346.1 352.8h0M346.7 367.6h0M346.3 358.2h0M346.9 349.2h0M346.7 363.8h0M346.5 355.5h0M346.8 347.7h0M347.3 361.1h0M347.4 353.7h0M347.5 365.9h0M347.4 358.3h0M323.3 394.2h0M323.6 408.9h0M323.5 399.4h0M323.3 390.5h0M323.3 404.9h0M323.5 395.7h0M323.4 387.1h0M323.9 401.5h0M324 392.6h0M323.9 407.3h0M323.5 398.5h0M324.1 389.1h0M323.8 403.9h0M324.2 394.7h0M324.1 385.6h0M324.1 400.8h0M324.2 391.5h0M323.9 406.6h0M324.2 397.1h0M324.2 388h0M324.2 402.7h0M324.5 393.3h0M324.2 408.3h0M324.1 399.4h0M328.2 399.2h0M328.6 415.4h0M328.7 405.3h0M328.3 394.8h0M328.5 411.3h0M329 400.9h0M328.8 390.7h0M329.2 406.8h0M329.1 396.3h0M328.8 413.2h0M329.1 402.5h0M329.3 391.4h0M329.5 408.9h0M329.8 397.6h0M329.9 386.6h0M329.9 403.9h0M330.1 392.6h0M330.2 410.8h0M330.1 399.4h0M330.4 387.8h0M330.1 406.6h0M330.7 394.8h0M330.4 412.9h0M330.7 401.6h0M330.7 391h0M330.8 408.9h0M331.1 397.6h0M331.5 385.9h0M331.4 403.9h0M331.3 392.4h0M331.6 409.6h0M331.3 398.7h0M332.1 388h0M332 404.2h0M331.7 394.3h0M331.9 384.5h0M332.4 399.4h0M332.5 390.1h0M332.3 403.7h0M332.4 395.1h0M332.7 386.5h0M332.7 399.8h0M332.9 390.9h0M332.9 403h0M332.9 394.7h0M333.3 387.4h0M333.3 398.3h0M333.4 391.3h0M333.2 384.4h0M344.8 340h0M344.4 344h0M345 342.4h0M345 340.8h0M344.9 344.7h0M345.1 342.8h0M345.1 340.3h0M345.2 345.1h0M345.2 342.7h0M345.7 348.3h0M345.9 345.5h0M345.5 343h0M345.9 348.6h0M346.1 346.1h0M346.2 343.1h0M346.2 350.1h0M346.3 346.8h0M346.7 353.7h0M346.8 350.3h0M346.9 346.5h0M346.6 354.2h0M346.6 350.4h0M346.6 359h0M346.8 355h0M346.9 350.9h0M347.2 359.7h0M347.7 355.4h0M347.1 350.9h0M347.5 360.3h0M347.6 356h0M347.8 366.1h0M348.2 361.8h0M347.8 356.7h0M348.4 366.1h0M348.4 361.3h0M348.6 356.8h0M348.1 366.3h0M348.7 362.5h0M348.9 371.4h0M349.1 367.4h0M348.9 363.9h0M349.2 371.5h0M348.8 367.8h0M349.5 375.7h0M349.1 372h0M349.3 368.3h0M349.5 376.2h0M350 372.5h0M349.7 369h0M350.3 376.2h0M350 373.2h0M350.2 380.3h0M350.2 377.1h0M350.2 373.7h0M350.1 380.1h0M350.7 377.1h0M350.5 383.6h0M350.6 380.8h0M350.7 377.7h0M351 384.1h0M351.2 380.9h0M351.1 378.6h0M351.4 384.3h0M351.3 381.5h0M351.7 387h0M351.9 384.6h0M352.1 382h0M351.8 386.8h0M352.1 384.6h0M351.9 382.3h0M352 387.7h0M352.3 384.9h0M352.4 391.4h0M352.8 388.2h0M352.8 384.7h0M353 391.9h0M352.7 388.3h0M352.9 396.3h0M352.8 392.2h0M353 387.3h0M353.6 397.1h0M353.1 391.8h0M353.2 386h0M353.9 396.2h0M353.7 390.4h0M353.5 400.4h0M353.8 394.7h0M354 389h0M354.1 399h0M354.6 394.1h0M354.7 403.9h0M354.3 398.3h0M354.9 393.4h0M354.6 403h0M355 397.5h0M355 392.2h0M354.8 401.3h0M355.5 396.3h0M355.5 405.8h0M355.7 400.4h0M355.7 394.5h0M355.7 404.7h0M355.6 398.7h0M355.6 392.9h0M356 402.4h0M356.1 397.2h0M356.5 406.7h0M356.4 401.5h0M356.5 396.6h0M356.2 405.5h0M356.6 400.7h0M356.7 409.1h0M356.8 404.3h0M357 399.9h0M357.2 408.5h0M357.5 403.8h0M357.6 399.3h0M357.3 407.6h0M357.6 402.7h0M357.7 411.6h0M358 406.6h0M357.8 401.6h0M358.2 410.4h0M357.9 405.8h0M358.1 400.9h0M358.6 409.4h0M358.5 404.7h0M358.6 412.8h0M358.6 408.4h0M358.4 404.5h0M358.7 411.9h0M358.7 408.5h0M358.9 415.2h0M359.4 411.1h0M359.6 406.9h0M359.7 414.2h0M359.2 410.7h0M359.7 407.1h0M359.5 413.6h0M360.2 409.6h0M359.7 415.9h0M359.9 412.3h0M360.1 408.4h0M360.1 415.2h0M360.5 411.6h0M360.6 418.2h0M360.4 414.4h0M360.9 411.9h0M360.9 418h0M361.1 414.4h0M360.9 411h0M361 416.7h0M361.5 413.8h0M361.6 419.5h0M361.7 416.4h0M361.8 412.9h0M361.6 419.2h0M361.9 416.2h0M361.6 413.1h0M362.1 419.9h0M362.4 416.5h0M362.6 423.4h0M362.3 420.1h0M362.5 415.5h0M362.4 423.9h0M363 419.4h0M362.9 428.8h0M363.1 424.2h0M363.2 418.6h0M363 429.2h0M363.6 423h0M363.2 416.7h0M363.8 428.7h0M363.6 422h0M363.4 434.1h0M363.6 427.5h0M363.6 420.5h0M364.3 434h0M364.2 426.9h0M364 440.6h0M364.1 433.4h0M364.2 425.8h0M364.9 440.1h0M364.8 432.7h0M364.7 425.3h0M364.8 439.7h0M365.2 432.5h0M365.2 446.2h0M365.3 438.9h0M365.4 432.2h0M365.3 445h0M365.5 438.4h0M365.4 431.5h0M365.6 445.9h0M365.8 438.8h0M366.3 453h0M365.9 446h0M366.3 439.6h0M366.5 452.9h0M366.4 446.2h0M366.5 459.4h0M366.6 452.8h0M367.1 446.7h0M367 460.4h0M367.3 453.9h0M366.8 447.2h0M366.9 459.4h0M367.3 453h0M367.6 465h0M367.4 458.7h0M367.5 453.1h0M367.7 463.7h0M367.9 458h0M367.9 452.7h0M368.3 463.4h0M368.4 458h0M368.5 467.9h0M368.5 462.5h0M368.5 457.1h0M368.8 467.1h0M368.5 462h0M369.2 471.5h0M368.8 466.8h0M369.4 462.5h0M369.1 470.2h0M369.1 466.2h0M369.3 462.6h0M369.5 469.4h0M369.9 465.8h0M370.1 471.3h0M369.8 468.2h0M369.8 465.3h0M370 470.6h0M370.1 468.6h0M370.4 473.7h0M370.5 470.6h0M370.5 468.7h0M370.4 473.4h0M370.6 471.4h0M370.9 469.3h0M370.9 473.8h0M533.4 458.9h0M534 465.5h0M533.5 459.8h0M534.2 453.7h0M534.3 461.3h0M534 455h0M534.5 447.9h0M534.5 455.7h0M534.3 448.4h0M534.5 456.9h0M535 448.5h0M534.8 439.9h0M534.7 450.1h0M534.8 440.5h0M535.3 430.4h0M534.9 441.8h0M535.4 432.4h0M535.4 444.6h0M535.6 434.5h0M535.5 424.5h0M535.8 436.8h0M535.9 427.7h0M535.8 439.4h0M536.5 429.8h0M535.9 420.5h0M536.1 432.9h0M536.2 423.3h0M536.8 414.2h0M537 425.5h0M537 417.6h0M537.2 426.7h0M537.4 419.8h0M537.3 413.4h0M537.2 420.1h0M545.5 385h0M545.6 399.1h0M545.1 390.6h0M545.6 382.3h0M545.6 396.3h0M545.4 387.5h0M546.1 379.1h0M545.9 393.3h0M545.6 384.7h0M546.1 398.7h0M546.4 389.9h0M546.3 380.8h0M546 395.4h0M546.5 386.5h0M546.4 377.3h0M546.9 391.7h0M546.4 383h0M546.8 397h0M546.9 388.3h0M546.8 379.7h0M547.1 393.6h0M546.8 385.2h0M547 398.5h0M547.1 390.3h0M543.9 392.6h0M544.1 399.4h0M544.2 395.1h0M544.6 391h0M544.3 397.9h0M544.6 394h0M544.6 389.4h0M544.7 396.5h0M545 391.8h0M545.1 398.5h0M545.5 394.5h0M545.3 389.9h0M545.8 396.8h0M545.9 392.6h0M545.9 388.3h0M546.1 394.9h0M545.8 390.9h0M546 397.5h0M546.5 393.7h0M546 389.5h0M546.6 395.9h0M546.6 392.2h0M546.9 398.5h0M546.8 394.4h0M547.2 390.6h0M547.1 396.6h0M547.2 393.8h0M547.5 390.5h0M547.3 395.7h0M547.7 392.7h0M547.3 398.1h0M547.9 395.3h0M547.6 392.3h0M547.8 397.4h0M548.2 394.2h0M548.3 391.2h0M548.4 396.3h0M548.7 393.1h0M548.6 398.3h0M548.8 395h0M548.6 392.3h0M548.5 397.4h0M549 394.1h0M549.2 399.4h0M555 386.5h0M555.2 398.6h0M554.9 391.1h0M555.2 383.9h0M555.3 395.6h0M555.5 388.6h0M555.5 380.9h0M555.6 393.6h0M555.4 386h0M555.3 399.2h0M555.6 391.3h0M556 382.8h0M555.7 395.5h0M555.7 387.9h0M555.9 380h0M555.6 392.5h0M556.2 384.8h0M556.2 397.4h0M556.1 390h0M556.5 382.4h0M556.2 395h0M553.4 393.9h0M553.6 398.9h0M553.4 395.8h0M553.8 392.8h0M554.2 397.4h0M553.7 394.6h0M554.2 391h0M554.4 396.5h0M554.3 393.1h0M554.2 398.2h0M554.7 395.6h0M554.9 392.8h0M554.6 398.2h0M555 394.9h0M555.2 391.5h0M555.5 396.9h0M555.2 393.8h0M555.3 398.1h0M555.2 395.2h0M555.7 392.3h0M556 396.5h0M555.6 394h0M555.9 398.9h0M556.4 395.8h0M556 392.6h0M556.2 397.3h0M556.6 394h0M556.3 391.3h0M556.9 397h0M556.9 393.5h0M556.7 398.9h0M556.8 395.7h0M560.1 398.8h0M559.8 413.5h0M560.3 404h0M560.1 394.7h0M560.6 409.1h0M560.5 400.2h0M560.4 391.1h0M561 405.8h0M560.8 396.9h0M561.3 411.8h0M561.1 402.6h0M561.1 393.3h0M561.5 409.1h0M561.8 399.5h0M561.7 390.1h0M561.6 405.9h0M561.9 396h0M561.8 412h0M562.1 402.3h0M562.3 392.5h0M562.3 408.5h0M562.6 398.9h0M562.4 414.5h0M562.7 405h0M563 395.4h0M562.6 410.9h0M563.1 400.9h0M562.9 390.6h0M563.4 406.9h0M563.3 396.5h0M563.3 413.3h0M563.3 403h0M563.4 392.8h0M563.3 409.3h0M563.5 398.8h0M563.8 388.3h0M563.6 405.3h0M564.4 394.8h0M564.2 411.9h0M564.6 401.3h0M564.4 390.6h0M564.8 407.9h0M564.4 397.1h0M564.5 414.6h0M564.7 403.8h0M565.3 393h0M565.4 410.4h0M564.9 399.8h0M565.6 389h0M565.6 406.7h0M565.8 396.1h0M565.6 413.4h0M565.8 402.9h0M565.8 392.4h0M565.7 409.4h0M566.1 399h0M565.9 416.1h0M566.5 405.5h0M566.2 394.5h0M566.7 412.1h0M566.9 400.8h0M566.9 390.2h0M567.1 407.8h0M567.2 397.3h0M567.3 414.9h0M567.4 404.1h0M567.2 393.7h0M567.7 410.5h0M567.2 400.2h0M567.6 390.2h0M567.9 406.9h0M567.7 396.3h0M568.2 413.2h0M568.3 402.9h0M567.9 392.3h0M568 409.1h0M568 399h0M568.3 416.9h0M568.4 405.8h0M568.7 395.3h0M569 412.3h0M568.6 401.9h0M569 391.2h0M569.2 408h0M569.5 397.8h0M569.7 415.3h0M569.5 404.6h0M569.4 393.9h0M569.9 411.6h0M570 400.7h0M569.6 417.4h0M570 407.1h0M569.8 396h0M570.4 412.5h0M570.1 401.5h0M570.8 391.1h0M570.7 407.1h0M570.4 397.2h0M570.5 412.6h0M571.2 402.4h0M571.1 392.5h0M571 407.8h0M571.4 397.8h0M571.2 388.6h0M571.4 402.9h0M571.9 393.7h0M571.5 407.1h0M572 398.1h0M571.9 389.5h0M571.9 402.3h0M574.1 379.6h0M574.2 387.3h0M574.4 382.1h0M574.9 376.7h0M574.8 385h0M575 378.8h0M575.2 372.6h0M575.3 381.6h0M574.9 375.2h0M575.1 385.3h0M575.3 378.7h0M575.2 371.8h0M575.5 383.5h0M575.4 375.5h0M575.5 367.2h0M576.1 379.9h0M575.9 371.5h0M576.2 384.8h0M576.6 376h0M576.5 366.3h0M576.3 381.8h0M576.4 371.9h0M576.5 387.7h0M576.6 378h0M576.8 368.6h0M576.9 383.1h0M577.4 374.5h0M577.2 365.4h0M577.3 379.8h0M577.4 370.4h0M577.9 385.7h0M578 376.5h0M577.7 367.4h0M578.2 382.7h0M577.8 373h0M578.3 363.8h0M578.5 379h0M578.7 369.1h0M578.6 384.9h0M578.5 375.1h0M578.9 365.1h0M579.1 381.1h0M579.2 371.3h0M578.8 387.5h0M578.8 377.7h0M579.4 368h0M579.1 383.7h0M579.2 374.5h0M579.5 365.6h0M579.9 380.8h0M579.7 372.2h0M580 386.9h0M580.2 377.3h0M580.3 369.3h0M580.4 382.8h0M580.6 375.1h0M580.7 388.1h0M580.5 380.6h0M580.4 372.4h0M580.7 385.4h0M580.9 377.6h0M581 370.3h0M581 383h0M581.5 375.6h0M581.4 387.5h0M581.8 380.5h0M581.3 372.9h0M581.6 385.4h0M582.1 378.4h0M583.2 392.5h0M583.4 394.7h0M584 393.5h0M583.9 391.7h0M583.7 394.5h0M584.1 392.6h0M584.3 391.1h0M584.6 393.7h0M584.5 392h0M584.7 394.4h0M583.8 401.7h0M584.1 414.4h0M584.3 407.3h0M584.1 400.3h0M584.3 412.5h0M584.5 404.8h0M584.5 396.5h0M584.8 410.5h0M585.1 402.3h0M584.9 417.1h0M584.8 408.4h0M585.3 399.1h0M585.5 414.6h0M585.2 405.4h0M585.7 395.8h0M585.5 412.4h0M586.1 402.4h0M586.2 420.5h0M585.8 409.4h0M585.9 398.4h0M586.4 417.1h0M586.5 405.8h0M586.2 425.7h0M586.6 414.3h0M587 403h0M586.6 422.6h0M587.1 410.5h0M586.8 397.9h0M587.1 419h0M587.5 405.8h0M587.6 427.6h0M587.5 414.5h0M587.4 400.8h0M587.6 423.8h0M587.9 410.2h0M587.6 396.5h0M588 419.2h0M588.4 405.2h0M588.2 427.6h0M588.2 413.7h0M588.6 400.7h0M588.7 422.8h0M588.5 409h0M588.9 431.1h0M588.8 417.6h0M589.1 404.1h0M589.1 426.7h0M589.3 412.9h0M589.6 398.8h0M589.1 421.9h0M589.8 407.4h0M589.8 431.3h0M590 417h0M589.8 402.7h0M589.8 426.4h0M589.8 412.1h0M590.5 436.2h0M590.4 421.8h0M590.2 406.7h0M590.8 431h0M590.4 416h0M591 401.5h0M590.9 425.1h0M591.2 410.8h0M591.4 434.4h0M591.4 420h0M591.5 405.1h0M591.3 429.6h0M591.6 414.1h0M591.4 399.8h0M591.7 422.7h0M591.6 408.5h0M591.8 431.3h0M592.1 416.6h0M592.1 402.7h0M592.5 425h0M592.4 411.1h0M592.7 433.1h0M592.5 419.4h0M593 405.6h0M592.7 426.8h0M593.3 413.7h0M593 400.7h0M593.1 421.2h0M593 408.1h0M593.4 428.3h0M593.5 415.1h0M593.7 402.5h0M593.9 421.7h0M594 409.6h0M593.9 428.2h0M593.9 416.4h0M594.1 405.4h0M594.6 423.2h0M594.8 412h0M594.5 401.6h0M594.4 418h0M594.6 407.2h0M595 423.2h0M595 413h0M588.7 423.8h0M589 433.2h0M589.2 427.6h0M589.4 421.1h0M589.4 432.1h0M589.5 425.3h0M589.4 418.4h0M589.8 430.4h0M589.9 422.9h0M590 435.7h0M589.9 428.6h0M590 421.3h0M590.1 433.7h0M590.4 426.2h0M590.3 418.8h0M590.8 431.3h0M590.8 423.6h0M590.6 435.8h0M591 427.7h0M591 419.4h0M591 431.8h0M591.6 424.4h0M591.5 436.4h0M591.7 429h0M591.6 421.3h0M591.6 433.2h0M592 425.7h0M591.7 418.5h0M591.8 430.7h0M592.3 423.1h0M592.2 435.3h0M592.5 427.5h0M592.9 420.5h0M592.4 430.8h0M592.9 424.1h0M592.6 417.8h0M593.3 427.8h0M593.3 421.5h0M593.3 430.2h0M593.2 424.5h0M593.6 419.3h0M593.9 427h0M593.3 422h0M593.5 427.6h0M593.8 423.6h0M594.1 419h0M736.6 434.3h0M736.4 451.7h0M736.7 440.6h0M737 430.3h0M736.9 447.6h0M736.7 436.5h0M736.5 426h0M737.1 442.5h0M737.1 432.2h0M736.8 449.2h0M736.7 439.2h0M737.1 429.1h0M736.8 446.4h0M736.7 435.9h0M736.8 425.5h0M736.9 441.8h0M736.9 431.3h0M737.1 447.8h0M737.3 436.8h0M737.3 425.9h0M737.6 443.5h0M737.5 432.7h0M737.7 450.2h0M737.8 439.4h0M737.7 428.2h0M737.4 445.2h0M737.7 434.8h0M737.8 424.1h0M750 401.7h0M750.3 406.3h0M750.9 403.5h0M750.8 401.1h0M750.7 406h0M750.6 402.9h0M750.8 399.3h0M751.2 404.7h0M751.3 401.2h0M751.5 406h0M751.7 403.2h0M751.7 399.8h0M751.7 404.8h0M751.6 401.7h0M752 399.2h0M752 403.8h0M756.1 398.5h0M756.2 403.5h0M756.1 399.9h0M756.4 397.2h0M757 402.2h0M757.1 399.5h0M756.9 396.5h0M757 401.1h0M757.1 398.4h0M757.1 402.5h0M757.2 399.9h0M757.5 397.2h0M749.9 427.2h0M750.2 434.1h0M750.4 429.7h0M750.2 425.2h0M750.7 432.6h0M750.5 428.1h0M750.5 423.7h0M751 431.6h0M750.9 426.6h0M750.8 434.5h0M750.8 429.5h0M750.5 425h0M750.8 432.6h0M750.9 428h0M763.4 403.2h0M763.4 417.6h0M763.6 408.5h0M763.9 398.1h0M764.1 414.5h0M764.2 403.5h0M764.1 391.9h0M764.2 410h0M764.7 398.5h0M764.8 418.2h0M764.6 405.8h0M764.9 392.8h0M764.8 414.3h0M765 401.2h0M765.1 388h0M765.3 409.3h0M765.1 396.2h0M765.3 417.8h0M765.3 404.3h0M765.7 390.7h0M765.9 412.5h0M765.7 399.2h0M766.1 421.2h0M766.3 407.9h0M766.3 394.6h0M766.5 416.2h0M766.2 402.5h0M766.4 389.4h0M766.6 411.1h0M766.7 397.8h0M766.7 419.2h0M767.2 405.9h0M767.1 392.7h0M767.1 413.1h0M767.4 400.9h0M767.3 389.6h0M767.7 408.7h0M767.8 397.6h0M767.9 416.1h0M767.7 404.9h0M767.8 393.1h0M768.4 411.7h0M768.3 400.6h0M768.6 418.6h0M768.5 407.5h0M768.8 397.4h0M768.6 413.5h0M768.5 404.3h0M768.8 395.2h0M769 410.2h0M758.2 418.1h0M758.4 430.3h0M758.7 422.4h0M758.8 414.5h0M758.9 427h0M759.1 419.3h0M759.5 411.1h0M759.4 424.2h0M759.5 416.2h0M759.6 429.2h0M759.3 421.1h0M759.5 412.4h0M759.7 427.1h0M760.2 418.5h0M759.9 409h0M760.4 423.3h0M760.3 414.4h0M760.1 428.4h0M760.2 419.7h0M760.6 410.9h0M760.8 424.5h0M760.9 415.8h0M761 429.5h0M761.3 420.9h0M761.3 413h0M761.1 426.1h0M761.5 417.6h0M761.4 408.5h0M761.7 422.6h0M761.4 414.5h0M761.9 427.6h0M761.6 419.1h0M762.3 411.1h0M762.3 423.6h0M762.3 415.1h0M762.1 407h0M762.4 420.3h0M773.7 416.3h0M773.8 424.9h0M773.6 419.7h0M773.9 414.4h0M774.1 422.6h0M773.9 417.7h0M774 412.9h0M773.9 421.4h0M774.1 416.1h0M774.1 424.6h0M774.1 419.3h0M774.5 414.2h0M774.8 422.6h0M774.6 417.3h0M774.9 412.2h0M775.1 420.6h0M777.3 401.7h0M777.4 411.8h0M778 405.8h0M778 399.5h0M777.8 410.2h0M778.5 403.6h0M777.9 397.5h0M778.3 407.9h0M778.1 401h0M778.8 411.9h0M778.9 405.3h0M778.7 399.5h0M778.9 409.2h0M778.9 403.1h0M779.4 397.6h0M779.5 407.6h0M779.4 401.3h0M779.2 411.2h0M779.6 405.1h0M780.1 398.6h0M780.1 409.4h0M780 402.8h0M779.9 414h0M780.2 407.1h0M780.5 400.4h0M780.6 411.7h0M780.3 405h0M780.6 398.7h0M781 409.6h0M780.8 403.3h0M780.6 413.4h0M781 407.4h0M781.2 401.3h0M781.5 411.1h0M781.2 404.5h0M781.8 398.7h0M781.3 408.7h0M781.9 402.5h0M781.6 413.8h0M782 406.9h0M781.9 400.4h0M782.2 411.2h0M781.9 404.9h0M782 415.3h0M782.4 409.3h0M782.6 402.9h0M782.6 413.4h0M782.6 407.1h0M783.1 400.9h0M782.7 410.3h0M782.9 404.6h0M783.4 414.1h0M783.1 408.6h0M783.5 403.1h0M783.5 412.6h0M783.8 407.6h0M783.6 416.5h0M783.7 411.2h0M784.1 405.7h0M784.3 414.6h0M784.1 409.4h0M784.1 404.3h0M784.7 412.5h0M784.6 407.8h0M785.1 416.6h0M785.1 411.4h0M785.2 406.2h0M784.9 415.3h0M785 409.8h0M785 404.6h0M785.4 413.2h0M785.5 407.9h0M785.4 416.4h0M785.8 411h0M785.9 405h0M785.9 414.1h0M786.3 409h0M786 418.1h0M786.3 412.4h0M786.2 406.8h0M786.3 416.3h0M786.3 410.5h0M786.6 404.7h0M786.9 415.2h0M787.2 409h0M787.3 419.1h0M786.9 413.3h0M787.6 407.2h0M787.6 417.6h0M787.3 411.5h0M368.2 477h0M368.2 477.1h0M368.5 477.6h0M368.5 477.2h0M368.7 477.5h0M368.6 477.5h0M368.6 477.7h0M369.1 477.9h0M368.8 477.6h0M368.9 478.6h0M369.2 478.2h0M369.2 477.9h0M369.4 478.4h0M369.4 478.5h0M369.8 477.8h0M369.8 479.4h0M369.9 478.7h0M370.1 480.3h0M370.3 479.4h0M369.9 478.3h0M370.4 481.2h0M370.5 479.9h0M370.2 482.5h0M370.4 481.1h0M370.8 479.8h0M371.1 482.5h0M371 480.8h0M371.2 479h0M370.8 481.9h0M371.2 480.1h0M371.1 483.2h0M371.7 481.6h0M371.6 479.3h0M371.4 482.8h0M371.6 481.1h0M372.1 479.3h0M371.8 481.9h0M372.2 480.1h0M372.1 482.8h0M372.2 480.9h0M372.7 479.1h0M372.2 482.2h0M372.9 479.5h0M372.6 483.9h0M372.7 481.1h0M373.2 478.2h0M373 482.7h0M373.2 479.4h0M373.1 476h0M373.7 481.2h0M373.8 477.9h0M373.5 482.7h0M374 479.7h0M373.7 476.8h0M373.8 481.6h0M373.7 478.5h0M374.1 484.2h0M374.3 480.5h0M374.1 476.7h0M374.8 481.7h0M374.4 478.4h0M375 475h0M374.5 480.9h0M374.9 476.5h0M374.8 484h0M375.4 479.3h0M375.2 474.9h0M375.4 482h0M375.6 477.8h0M375.3 474.1h0M375.8 480.7h0M375.5 476.6h0M375.7 482.9h0M375.9 479.2h0M376 475.8h0M376.4 482.1h0M376.1 478.5h0M376.7 485.2h0M376.4 481.1h0M376.8 476.9h0M376.7 483.6h0M376.7 479.1h0M376.7 474.8h0M377 481.8h0M377.2 477.3h0M377.7 484.2h0M377.2 479.8h0M377.6 475.6h0M377.8 482.4h0M377.6 477.9h0M377.6 485.5h0M378.3 480.8h0M378 476.3h0M378.3 484.5h0M378 479.8h0M378.2 475.7h0M378.9 483.2h0M378.6 478.7h0M378.7 486.4h0M378.9 481.5h0M379.1 476.7h0M379.2 484.3h0M379 479.5h0M379.7 475.5h0M379.4 482.6h0M379.3 478.1h0M379.5 484.9h0M379.5 480.8h0M380.1 476.8h0M379.8 483.6h0M379.9 479.7h0M380.5 485.8h0M380.5 482.2h0M380.2 478.3h0M380.4 484.7h0M381 481.2h0M380.6 477.9h0M380.7 483.8h0M380.8 479.7h0M381.1 486h0M380.9 482.6h0M381 479.3h0M381.2 484.8h0M381.3 481.7h0M382 478.6h0M382 483.9h0M382 480.3h0M382.2 485.8h0M381.9 482.8h0M382.2 479.5h0M382.2 485.2h0M382.4 482.1h0M382.2 487.2h0M382.9 484h0M382.7 480.7h0M382.7 486h0M382.8 483.7h0M383.3 480.5h0M383 486.2h0M383.2 483.3h0M383.1 488.1h0M383.2 485.5h0M383.3 482.6h0M384.1 487.1h0M384 484.6h0M384.2 488.9h0M384.3 486.4h0M384 484h0M384.6 487.3h0M384.5 485.5h0M384.5 482.8h0M384.8 486.2h0M384.7 483h0M384.8 486.7h0M384.7 484.4h0M385.3 481.9h0M384.9 486.4h0M385.2 483.4h0M385.1 480.5h0M385.8 484.6h0M385.6 482.1h0M385.9 486.4h0M386 483.7h0M385.8 480.8h0M386.2 485.5h0M386.1 482.6h0M386.3 487.1h0M386.6 484.5h0M386.7 481.4h0M386.3 486.5h0M386.4 482.8h0M386.8 479.9h0M387.2 485.5h0M387.2 481.8h0M387.5 487.5h0M387.5 484.1h0M387.7 480.7h0M387.7 486.6h0M387.5 483.3h0M387.5 489.1h0M387.9 485.2h0M388.1 481.3h0M388.1 487.3h0M388.4 483.5h0M388.4 479.4h0M388.5 486.4h0M388.5 482.4h0M388.4 489.3h0M389 484.8h0M389.1 480.3h0M389.2 487h0M389.2 482.4h0M389.3 478.7h0M388.9 484.9h0M389.6 480.6h0M389.3 486.6h0M389.2 483.2h0M389.6 479.2h0M390 485.5h0M389.7 481.7h0M389.9 487.7h0M390.2 483.6h0M390.1 480.1h0M390.3 485.4h0M390.5 482h0M390.5 478.5h0M390.4 484.1h0M390.6 480.5h0M391.1 485.5h0M390.8 482.6h0M391 479.4h0M390.9 485h0M391.4 481.6h0M391.7 478.4h0M391.4 483.7h0M391.7 480.5h0M391.7 485.7h0M391.7 482.7h0M391.9 479.6h0M392.3 484.8h0M392.2 482h0M392.2 488.2h0M392.1 484.5h0M392.3 481.1h0M392.7 487.3h0M392.4 483.7h0M393.1 480.7h0M393.3 486h0M392.8 483.2h0M393.5 489.3h0M393.3 485.7h0M393.1 482.5h0M393.2 488.4h0M393.5 484.8h0M393.6 490.2h0M393.6 486.7h0M394.2 482.8h0M394.2 488.8h0M394.2 485.6h0M394.4 482h0M394.7 488.2h0M394.4 484.9h0M394.6 491h0M394.6 487.8h0M395.2 485.1h0M395 490.6h0M395 488h0M395.3 485.8h0M395.3 490.6h0M395.7 488.1h0M395.9 492.4h0M395.9 489.8h0M396.1 487.9h0M396.1 491.4h0M396.3 488.7h0M396.4 491.7h0M396.1 490.3h0M396.5 488.8h0M396.2 492.3h0M396.3 491h0M396.6 489.2h0M396.6 492h0M396.6 489.7h0M397.3 493h0M397.2 491.2h0M397.1 489.8h0M397.4 492.6h0M397.1 491h0M397.4 489.4h0M397.5 492.5h0M397.7 491.4h0M397.7 493.7h0M398.3 491.9h0M398.4 490.7h0M398.1 493.5h0M398.1 492.1h0M398.5 495.3h0M398.7 493.9h0M398.4 492h0M398.9 495.4h0M398.5 493.4h0M398.9 491h0M399 494h0M399.1 492.1h0M399.6 495.2h0M399.7 493.2h0M399.3 491.5h0M399.6 494.8h0M399.4 493h0M399.7 496.5h0M400 494.5h0M399.7 492.3h0M400.4 495.2h0M400.3 493.1h0M400.6 491.1h0M400.4 494.5h0M400.6 492.3h0M400.7 496.4h0M401.1 493.7h0M400.8 491.3h0M400.7 495.7h0M401.2 493h0M401.1 490h0M401.6 494.7h0M401.7 491.8h0M401.7 496.1h0M401.5 493.8h0M401.5 491.8h0M402.1 495.4h0M401.9 493.4h0M402.1 497.6h0M402.2 494.8h0M402.6 492.4h0M402.7 496.9h0M402.4 494.1h0M402.4 491.2h0M402.5 495.6h0M402.7 492.9h0M403.1 497.1h0M403 494.5h0M403.5 492.3h0M403.3 496.5h0M403.6 493.7h0M403.3 497.7h0M403.9 495.1h0M404.1 491.9h0M404.2 496.3h0M404.2 493.3h0M404.3 492h0M404.1 495h0M404.2 492.8h0M404.7 496.2h0M404.7 494h0M404.8 491.6h0M405.1 494.9h0M405.2 492.8h0M404.8 491.7h0M405.4 494.7h0M405.5 493.7h0M405.6 495.4h0M405.7 494.2h0M405.5 493.4h0M405.5 494.8h0M405.8 493.4h0M405.8 495.4h0M406.2 494.4h0M406.1 493.1h0M406.3 495.5h0M406.4 494.5h0M406.4 493.6h0M406.7 494.2h0M406.7 493.9h0M406.9 494.2h0M406.8 494.2h0M407.2 494h0M407.1 494.7h0M407.2 494.3h0M407 493.8h0M407.1 494.2h0M407.4 494.1h0M407.9 495.3h0M407.7 494.4h0M407.9 493.9h0M407.6 494.4h0M408 493.9h0M407.9 494.7h0M408.2 494h0M408.5 492.7h0M408.4 494.2h0M408.4 493.3h0M408.9 492.6h0M408.8 493.8h0M408.9 492.8h0M409.2 494.7h0M409.4 493.5h0M409.6 492.6h0M409.7 494.6h0M409.5 493.1h0M409.8 494.8h0M409.9 494.2h0M409.8 492.6h0M410.2 495.5h0M410.4 493.6h0M410.1 492.3h0M410.2 494h0M410.1 492.8h0M410.4 494.7h0M410.8 493.9h0M410.4 492.2h0M411 494.9h0M411.1 493.5h0M411.2 492h0M410.8 494h0M411.5 492.2h0M411.7 494.7h0M411.4 493.2h0M411.5 491.9h0M411.5 494.1h0M411.6 492.8h0M411.8 494.8h0M412 493.4h0M411.9 493.1h0M412.4 494.3h0M412.5 493.9h0M412.2 493.3h0M412.4 494.4h0M412.8 494.2h0M412.6 494.9h0M412.9 494.5h0M412.8 494h0M413.2 495.1h0M413.2 494.6h0M413.3 494.7h0M413.7 495.3h0M413.6 495.3h0M413.5 496.2h0M413.6 495.7h0M413.6 495.6h0M414.3 496.2h0M414.1 496.3h0M414.5 497.4h0M414.6 497h0M414.5 496.5h0M414.3 497.3h0M415 496.9h0M415 496.5h0M414.6 498h0M414.9 496.9h0M414.9 497.6h0M415.5 496.6h0M415.5 496.1h0M415.4 497.9h0M415.3 496.9h0M415.9 498.7h0M415.6 497.8h0M415.7 496.9h0M416.3 498.3h0M416.4 497.4h0M416.5 496.4h0M416.4 497.8h0M416.4 497.1h0M416.4 498.3h0M416.6 497.5h0M416.6 496.7h0M417 497.9h0M417.1 496.9h0M417 495.3h0M416.9 497h0M417.5 496.2h0M417.3 497.7h0M417.8 496.5h0M417.9 495.5h0M418.1 496.7h0M418.1 496.5h0M417.8 496.8h0M417.9 496.2h0M418.3 496.2h0M418.2 497h0M418.3 496.5h0M418.6 496h0M418.4 496.8h0M418.6 496.3h0M418.8 496.8h0M419.2 496.2h0M419.3 495.7h0M419 496.1h0M419.2 495.5h0M419.1 496h0M419.6 495.3h0M419.5 494.3h0M419.6 495.7h0M419.9 494.3h0M419.7 493.1h0M420 494.8h0M420.4 493.6h0M420 495.4h0M420.7 493.7h0M420.6 492h0M420.4 494.7h0M420.8 492.5h0M420.9 489.8h0M420.6 493.7h0M421.4 491.6h0M421.1 495.6h0M421.3 492.7h0M421.7 489.8h0M421.2 494.4h0M421.9 491.9h0M421.6 496.3h0M421.8 493.5h0M421.9 490.7h0M422.1 495.8h0M422 492.5h0M422.2 489.7h0M422.2 494.3h0M422.7 491.1h0M422.4 496.2h0M422.7 493.2h0M422.7 490h0M423.2 494.9h0M422.8 492h0M423.2 488.4h0M423.4 493.6h0M423.1 489.9h0M423.5 495.7h0M423.8 491.9h0M423.4 488.1h0M423.7 493.2h0M423.7 489.5h0M424.1 495.6h0M424.3 491.5h0M424.5 487h0M424.1 494.3h0M424.7 489.5h0M424.6 484.9h0M424.5 491.6h0M424.5 486.7h0M424.9 493.3h0M425.4 488.7h0M425.3 483.5h0M425.6 491.4h0M425.4 486.1h0M425.3 493.9h0M425.5 488.7h0M425.4 483.1h0M425.9 491h0M426.2 485.5h0M426 479.5h0M426 487.9h0M426.1 481.9h0M426.2 490.9h0M426.2 484.3h0M426.5 477.5h0M426.4 488.4h0M426.7 481.3h0M426.6 473.7h0M427.3 484.8h0M427.2 476.7h0M427.4 488h0M427.4 480.2h0M427.7 472.4h0M427.5 482.3h0M428 476.5h0M428 484.2h0M428.2 479.1h0M428.1 474.8h0M428 481.1h0M428.5 477.5h0M428.4 475.1h0M428.5 480.3h0M428.3 478.8h0M428.5 482.3h0M429 481.4h0M428.9 481.3h0M428.7 483.6h0M429.1 483.3h0M428.9 483.9h0M429.2 484.1h0M429.2 484.2h0M429.7 484.8h0M430 485.2h0M429.6 485.3h0M429.9 485.4h0M430 485.9h0M430.1 486h0M430.2 486.4h0M430.4 486.7h0M430.6 486.4h0M430.2 486.8h0M430.7 486.8h0M431.1 486.5h0M430.7 486.6h0M431 487.1h0M431.1 487h0M431.5 487.3h0M431.4 487.8h0M431.4 487.8h0M431.4 488.1h0M431.9 488h0M431.5 488.3h0M432.1 488.7h0M432.3 488.6h0M432.4 488.7h0M431.9 489h0M432.3 488.6h0M432.7 488.8h0M432.8 488.9h0M433 488.9h0M432.5 489.1h0M432.8 489.1h0M432.6 489.6h0M432.8 489.4h0M433 489.4h0M433 489.7h0M433.4 489.5h0M433.8 489.8h0M433.9 490h0M433.6 490.4h0M434.1 490.5h0M434.1 490.6h0M434 490.6h0M433.9 490.8h0M434.1 491.3h0M434.2 491.1h0M434.3 491.7h0M434.5 491.9h0M434.5 492.3h0M434.5 492.4h0M435.1 492h0M435.2 493h0M435.3 492.7h0M435.2 493.8h0M435.1 493.4h0M435.7 493h0M435.9 494.2h0M435.7 493.5h0M435.8 493h0M436.1 494.4h0M436.3 493.7h0M436.1 495.4h0M436.5 494.7h0M436.1 493.8h0M436.4 495.5h0M436.4 494.7h0M436.5 493.7h0M436.6 495.4h0M436.8 494.6h0M437.1 496.9h0M437.2 495.6h0M437.5 493.7h0M437.4 496.2h0M437.7 494.2h0M437.8 496.6h0M437.7 495.5h0M437.5 493.3h0M437.7 496.5h0M438.1 494.5h0M438.3 492.1h0M438 495.7h0M438.7 493.5h0M438.6 497.4h0M438.9 494.8h0M438.4 492.4h0M438.6 496.1h0M439.2 493.5h0M438.9 491.8h0M438.8 495.1h0M439 493h0M439.2 495.4h0M439.8 493.8h0M439.4 491.9h0M439.5 495.2h0M439.7 493.1h0M439.7 496.2h0M440 494.1h0M440.1 492.4h0M440.4 495.4h0M440.4 493.5h0M440.7 492.2h0M440.5 494.7h0M440.9 492.6h0M440.5 496.5h0M440.6 494.4h0M440.8 491.7h0M441.3 496.1h0M441.1 493.7h0M441.5 497.7h0M441.8 495h0M441.7 492.3h0M441.8 496.5h0M441.7 493.1h0M441.7 489.4h0M442 493.9h0M442 490.7h0M442 495.9h0M442 492.2h0M442.7 488.8h0M442.5 494.3h0M442.7 490.7h0M443 486.9h0M443.2 492.4h0M443.1 488.3h0M443.1 494.6h0M443.4 490.8h0M443.5 486.7h0M443.7 493.5h0M443.5 489.1h0M443.6 496.8h0M443.9 491.7h0M443.9 486.9h0M443.7 494.5h0M444 489.6h0M443.9 484.9h0M444.2 491.9h0M444.6 487h0M444.5 493.6h0M444.9 489.2h0M444.8 485.6h0M445 490.7h0M445.2 486.8h0M445.3 491.9h0M445.5 488.4h0M445.5 484.9h0M445.6 489.5h0M445.5 486.3h0M445.9 483.5h0M445.7 487.8h0M445.8 485.1h0M445.7 488.4h0M446 485.4h0M446.4 483.6h0M446.1 486.9h0M446.2 484.2h0M446.2 482h0M446.3 485.5h0M446.7 483.2h0M446.6 486.3h0M446.6 484.7h0M447.1 482.8h0M447.3 485.6h0M447.2 483.4h0M447.2 487h0M447.7 484.8h0M447.9 482.6h0M448 485.5h0M448.1 483.8h0M447.9 482.2h0M448.2 484h0M448.4 482.8h0M448.3 484.8h0M448.6 483.7h0M448.4 482.1h0M448.9 484.8h0M448.8 483.3h0M448.5 481.2h0M448.8 484.5h0M449.2 482.5h0M448.8 485.3h0M449.2 483.2h0M449.2 481.7h0M449.7 484.9h0M449.3 482.8h0M449.9 485.7h0M449.8 483.9h0M449.8 481.5h0M450.1 484.3h0M450.5 482.4h0M449.9 480.9h0M450.4 484.1h0M450.1 482.2h0M450.8 486h0M451 483.2h0M451 480.5h0M451 484.6h0M451.1 481.8h0M451.3 486.4h0M450.9 483.8h0M451.1 480.9h0M451.8 485.3h0M451.9 483h0M451.4 480.6h0M451.7 484.5h0M452.2 482.3h0M451.9 485.5h0M452.4 483.3h0M452.5 480.7h0M452.5 483.8h0M452.3 482.1h0M452.8 480.5h0M452.4 483.8h0M452.6 481.9h0M452.9 485.2h0M453.1 482.6h0M453 480.6h0M453.3 484.7h0M453.1 482.3h0M453.7 486.1h0M453.7 483.5h0M453.5 481.2h0M454 485.4h0M453.7 482.8h0M453.7 480.8h0M454.3 485h0M454.4 482.6h0M454.2 486.5h0M454.6 483.8h0M454.3 481.6h0M455 485.7h0M454.8 483.4h0M455 487.4h0M454.8 485.2h0M454.8 483.3h0M455.1 486.6h0M455 484.7h0M455.2 482.7h0M455.5 485.5h0M455.5 483.8h0M455.7 486.8h0M455.9 484.7h0M456.1 482.3h0M456.4 485.3h0M456.3 482.9h0M456.3 480.6h0M456.8 484.3h0M456.2 481.7h0M456.4 485.4h0M456.7 483.2h0M456.7 481.1h0M456.8 484.3h0M456.8 481.9h0M457.1 486.1h0M457.6 483.3h0M457.1 481h0M457.7 485.1h0M457.7 482.3h0M457.7 479.5h0M457.9 483.8h0M457.8 481.6h0M457.9 484.5h0M458.5 482.7h0M458 480.7h0M458.2 484.8h0M458.3 482.5h0M458.3 480.2h0M458.9 484.1h0M459.2 481.9h0M459.3 485.9h0M459 483.2h0M458.9 480.8h0M459.5 483.7h0M459.6 481.7h0M459.5 484.7h0M459.3 483.3h0M459.6 481.6h0M460.1 484h0M460 482.5h0M459.7 481.3h0M460 483.5h0M459.9 482.7h0M460.2 484.4h0M460.6 483.3h0M460.7 482.1h0M460.8 484.1h0M461 483.5h0M461 485.1h0M461 484.2h0M461 482.9h0M461.1 485.4h0M461.5 484.3h0M461.4 483.1h0M461.2 485.2h0M461.8 484.1h0M461.8 486.6h0M461.9 484.6h0M461.7 483.9h0M461.9 485.7h0M462 484.7h0M462.6 483.3h0M462.4 486h0M462.4 484.4h0M462.7 487.3h0M462.8 485.7h0M463.2 484.2h0M463.3 486.9h0M462.9 485.5h0M463.3 488h0M463.2 486.6h0M463.1 485.3h0M463.6 487.5h0M464 486.3h0M464.1 485.9h0M463.9 487.9h0M464.1 487.4h0M463.9 488.7h0M464 488.4h0M464.3 487.2h0M464.8 488.3h0M464.9 488.2h0M464.7 487.2h0M465.1 488.6h0M465.2 487.6h0M464.9 489.2h0M464.7 486.4h0M465.3 487.8h0M465.1 487.1h0M465 486.3h0M465.5 487.4h0M465.2 486.5h0M465.6 486.1h0M465.8 486.6h0M466 486.6h0M465.9 487.3h0M466.1 487.2h0M466.2 487h0M466.4 487.1h0M466.5 486.5h0M466.5 486h0M466.8 486.9h0M466.8 486.5h0M466.6 488.1h0M466.9 486.6h0M467.2 485.1h0M467 487.1h0M467.1 485.8h0M467.7 487.1h0M467.3 486.4h0M467.3 485.8h0M467.6 487.5h0M467.7 486.7h0M468.2 485.1h0M468 487.1h0M468.5 485.7h0M468.6 487h0M468.3 486.2h0M468.2 486.3h0M468.4 486.9h0M468.6 486.7h0M468.8 486.2h0M469.3 486.8h0M469.2 486.3h0M468.9 487.6h0M469.2 487.2h0M469.1 486.8h0M469.6 488.3h0M469.5 487.4h0M469.7 488h0M470 488h0M470.3 487.5h0M470 488.2h0M470.2 487.8h0M470.2 486.9h0M470.3 488h0M470.5 487.2h0M470.7 489h0M470.8 487.8h0M471 486.5h0M471 488.5h0M471.3 487.6h0M471.3 489.4h0M471.6 488.4h0M471.3 487.2h0M471.2 488.4h0M471.3 487.4h0M471.9 487h0M471.9 488.3h0M471.9 487.4h0M471.9 488.7h0M471.8 488.4h0M472.2 487.2h0M472.5 488.9h0M472.4 487.8h0M472.7 487.2h0M472.7 488.4h0M473.1 487.6h0M472.8 488.7h0M472.7 487.6h0M473.4 487h0M473.3 488.6h0M473.2 487.7h0M473.3 490.4h0M473.3 489.1h0M473.7 488h0M474.1 490.6h0M474.1 489.9h0M473.9 489.1h0M474.5 491h0M474 489.6h0M474.2 491.9h0M474.2 490.8h0M474.4 489.1h0M474.4 491.5h0M475.1 490h0M475.2 492.5h0M474.8 491.6h0M474.9 490.3h0M475.4 492.2h0M475.3 491.5h0M475.8 490.4h0M475.5 492.8h0M475.8 491.2h0M475.9 494h0M476.2 492.4h0M476.3 490.5h0M476.2 493.6h0M476.6 491.6h0M476.5 489.2h0M476.2 493h0M476.8 491.4h0M476.4 494.1h0M476.6 492.7h0M476.9 491.5h0M476.9 494.1h0M477 492.7h0M477.3 495h0M477.6 493.7h0M477.2 492.1h0M477.5 494.3h0M477.7 492.8h0M477.7 491.1h0M477.6 494.1h0M477.7 492.5h0M478 495.2h0M478.3 493.3h0M478 491.6h0M478.2 494.4h0M478.2 492.9h0M478.7 491.4h0M479.1 493.8h0M478.9 492.2h0M479.1 493.8h0M479.2 492.8h0M479.4 491.1h0M479.6 493.5h0M479.2 491.5h0M479.3 493.9h0M479.9 492.7h0M479.6 491.2h0M479.6 493.6h0M479.6 491.5h0M480 489.6h0M480.3 492.1h0M480.4 490.7h0M480.3 493.4h0M480.8 492.3h0M480.7 490.5h0M480.9 493.4h0M480.6 491.5h0M481.1 494.3h0M480.9 492h0M480.9 490h0M481.1 492.6h0M481.5 491.4h0M481.5 490h0M481.7 492.1h0M481.9 490.9h0M482 492.7h0M481.8 492h0M482.2 491.2h0M482.2 492.8h0M482.4 491.7h0M482.7 490.7h0M482.6 491.9h0M482.9 491h0M482.6 491.5h0M482.8 491h0M482.9 490.1h0M483.2 491.8h0M483.4 491h0M483.4 492.5h0M483.2 491.7h0M483.3 490.9h0M483.4 492h0M484 490.8h0M483.9 489.9h0M484.1 491.1h0M483.7 490.5h0M484 491.3h0M484.6 490.3h0M484.1 489.6h0M484.7 490.5h0M484.6 489.7h0M484.8 491h0M484.5 490.1h0M484.8 489.4h0M485 490.5h0M485.1 489.6h0M485 488.7h0M485.2 490.2h0M485.2 488.5h0M485.8 490.4h0M485.5 489h0M485.7 487.6h0M486.1 489.7h0M485.7 487.8h0M485.8 486.5h0M486 488.7h0M486.4 487.4h0M486.6 489.9h0M486.7 487.4h0M487 483.4h0M487 487.8h0M486.8 482.3h0M487.2 490h0M487.1 483.5h0M487.5 475.4h0M487.4 486.6h0M487.4 478.7h0M487.5 471.7h0M488 479.8h0M487.9 473.9h0M487.9 481.5h0M487.7 476.7h0M488.4 472.1h0M488.5 479h0M488.4 475.3h0M488.2 471.7h0M488.8 477.6h0M489 473.6h0M488.9 480.1h0M488.6 476h0M489.1 471.7h0M489.2 478.8h0M489.5 474.7h0M489.4 481.2h0M489.3 477.4h0M489.3 473.7h0M489.8 479.9h0M489.5 476.5h0M489.7 473.2h0M489.6 478.7h0M490.3 475.8h0M490.2 481.2h0M490.1 478h0M490.7 474.5h0M490.7 480.1h0M490.4 476.6h0M490.5 482.4h0M491.2 478.8h0M490.9 475.1h0M490.8 480.4h0M491.4 477.1h0M491.1 473.7h0M491.2 479.3h0M491.8 476.2h0M491.3 481.4h0M491.8 478.4h0M492.2 475.6h0M492.3 480.6h0M492.4 477.9h0M492.4 474.8h0M492.3 479.4h0M492.7 476.7h0M492.8 481.9h0M492.6 478.9h0M492.6 476.2h0M493.1 481.1h0M493.3 478.6h0M493.4 483h0M493.1 480.4h0M493.1 477.5h0M493.4 482.5h0M493.4 479.8h0M493.3 477h0M493.6 481.4h0M493.6 478.5h0M494 483.3h0M494.1 480.7h0M494.5 478.6h0M494 482.8h0M494.3 480.1h0M494.8 477.8h0M494.4 481.8h0M494.9 479.5h0M494.6 483.7h0M494.9 481.3h0M494.7 479h0M495.2 483h0M495.2 480.4h0M495.7 484.5h0M495.8 482.1h0M495.3 479.7h0M495.8 483.1h0M496.1 481h0M495.7 478.5h0M495.7 482.5h0M496.2 480.3h0M496 484.9h0M496 481.9h0M496.3 480h0M496.7 484h0M497 481.8h0M496.8 485.4h0M497.2 483.1h0M496.7 481.3h0M497.4 485.1h0M497.2 483.2h0M497.1 481h0M497.8 485.8h0M497.6 483.7h0M497.4 488.3h0M497.7 485.8h0M498.2 483.8h0M497.9 488.1h0M498.2 485.3h0M498.5 482.4h0M498 486.8h0M498.1 484.1h0M498.3 488.7h0M498.5 486.2h0M498.6 484h0M499.2 488h0M499.1 485.6h0M499.4 490h0M499.1 487.6h0M499.3 485.6h0M499.7 489.3h0M499.3 487.2h0M500 485.4h0M499.6 488.5h0M499.5 486.4h0M499.9 489.5h0M500 487.8h0M500.5 486.6h0M500.2 489.4h0M500.7 488.1h0M500.6 490.3h0M500.4 488.7h0M501 487.2h0M500.7 490.1h0M500.8 487.9h0M501.2 485.8h0M500.9 489.1h0M501 487.2h0M501.5 490h0M501.8 488.4h0M501.4 487h0M501.8 489.5h0M501.9 487.9h0M501.9 486.5h0M502.2 489.1h0M502 488h0M502.2 489.5h0M502.7 488.5h0M502.6 488h0M502.4 489.1h0M502.9 488.1h0M503 489.6h0M502.7 489h0M502.8 488.1h0M503.5 490h0M503 489.2h0M503.6 487.8h0M503.5 489.2h0M503.5 488.3h0M503.6 490h0M503.9 489.3h0M504.3 487.7h0M504.3 490.1h0M503.9 488.9h0M504.6 487.3h0M504.4 489.4h0M504.6 488.1h0M504.9 490.9h0M504.5 488.6h0M504.7 486.6h0M505.1 489.2h0M504.8 487.5h0M505.2 490.3h0M505.4 489.1h0M505.1 487.7h0M505.7 490.6h0M505.8 489h0M505.6 487.3h0M505.5 489.8h0M506 488h0M505.8 490.3h0M506.1 489.1h0M506.5 488h0M506.6 489.8h0M506.3 488.4h0M506.9 491.3h0M506.8 489.1h0M506.9 487.5h0M507.1 490.3h0M507.3 488.6h0M507.2 487.1h0M507 489.6h0M507.1 488.4h0M507.7 490.6h0M507.8 489.7h0M508 489.3h0M507.5 489.8h0M508.1 488.9h0M508.3 487.6h0M508 489.7h0M508.4 488.5h0M508.5 490.2h0M508.1 489.1h0M508.5 488.2h0M508.5 490.4h0M508.5 489.3h0M508.7 490.7h0M508.9 489.7h0M509.1 488.8h0M509.4 491.1h0M509.3 489.9h0M509.8 488.2h0M509.4 490.3h0M509.8 489.3h0M509.5 491.6h0M510 490.7h0M510 489.3h0M510.5 492.3h0M509.9 490.8h0M510.2 489.3h0M510.3 492h0M510.4 490.6h0M510.8 493h0M510.7 491.8h0M511.1 491.2h0M510.7 493h0M511.2 492h0M511.3 493.5h0M511.6 492.9h0M511.2 491.8h0M511.9 493.9h0M511.4 493.1h0M511.5 491.8h0M512.2 493.9h0M512.2 492.8h0M511.8 494.5h0M512.4 493.7h0M512.3 492.4h0M512.7 494h0M512.8 492.8h0M512.7 495.2h0M513 494.3h0M512.7 492.9h0M512.6 495.6h0M513.3 493.9h0M513.2 492.5h0M513.6 494.7h0M513.2 493.4h0M513.9 495.6h0M513.7 494.1h0M513.5 492.5h0M514 495.2h0M513.7 493.9h0M514.4 492h0M514.2 495.1h0M514.2 493.5h0M514.5 496.1h0M514.6 494.6h0M514.7 492.4h0M514.9 495.8h0M515.1 494.3h0M515.1 496.5h0M514.8 495h0M515.4 493.4h0M515.5 496h0M515.5 494.5h0M515.2 493h0M515.6 495.3h0M515.7 493.2h0M516.1 497h0M515.8 494.6h0M516.1 491.9h0M516.4 496.8h0M516.4 493.8h0M516.3 498.7h0M516.6 495.7h0M516.8 492.5h0M516.5 496.6h0M517 494.3h0M516.9 491.7h0M517.3 495.7h0M516.8 493.1h0M517.4 497.5h0M517.6 494.8h0M517.4 491.6h0M517.5 496.2h0M517.9 493.2h0M518 490.3h0M517.8 494.8h0M517.9 492h0M518.1 496.4h0M518.2 493.5h0M518.2 490.7h0M518.7 495.6h0M518.7 492.5h0M518.9 497h0M518.5 494.2h0M518.8 491.3h0M519 495.7h0M519.1 492.6h0M519.2 490.3h0M519.4 493.7h0M519.3 491.3h0M519.2 495.5h0M519.5 493.6h0M520.1 491.2h0M519.6 494.8h0M519.8 493h0M520.4 490.9h0M520.6 494.5h0M520.5 492h0M520.5 495h0M520.4 492.9h0M520.5 491.2h0M520.8 493.5h0M521 491.8h0M520.7 494.3h0M521.2 492.9h0M521.5 491.2h0M521.5 493.7h0M521.7 492.1h0M521.7 491.1h0M521.9 492.9h0M521.9 491.7h0M521.9 493.6h0M521.8 492h0M522.3 490.5h0M522.4 492.7h0M522.6 490.8h0M522.1 493.1h0M522.3 491.7h0M523 490.8h0M523 492h0M523 491.4h0M523 490.2h0M523.5 491.7h0M523.4 491h0M523.5 492.4h0M523.1 491.2h0M523.5 490.2h0M523.4 491.9h0M523.5 490.4h0M523.6 489.4h0M524.1 491.2h0M524 489.9h0M524.1 491.8h0M524.1 490.1h0M524.7 489h0M524.4 491.2h0M524.4 489.3h0M524.9 492.1h0M525.2 490.6h0M525 489h0M525.2 491.1h0M525.2 489.7h0M525.3 488.1h0M525.2 490.7h0M525.5 489.3h0M525.7 491.7h0M526 490h0M525.8 488.1h0M525.8 490.6h0M526.3 488.7h0M525.9 492h0M526.5 489.6h0M526.4 487.7h0M526.6 490.9h0M526.6 488.8h0M527.1 486.7h0M526.6 489.7h0M527.1 487.7h0M526.9 491.1h0M527 488.3h0M527 485.8h0M527.3 489.5h0M527.8 486.2h0M527.8 483.3h0M527.9 488h0M528.2 483.9h0M528.2 489.2h0M528 485.6h0M528.2 481.3h0M528.3 487.4h0M528.5 482.9h0M528.4 490.4h0M528.5 484.9h0M528.8 479.6h0M528.7 487.6h0M528.7 481.7h0M529.3 475.4h0M528.9 484.7h0M529.2 479.1h0M529.5 488h0M529.8 482.6h0M529.7 477.6h0M529.9 485.4h0M530.1 479.9h0M530.1 474.4h0M530.1 482.9h0M530.1 477.1h0M530 485.7h0M530.2 480.3h0M530.4 474.8h0M530.3 482.7h0M530.9 477.8h0M530.6 485.8h0M530.8 480.5h0M530.8 475.8h0M531.4 482.6h0M531.2 478.5h0M531.1 474.8h0M531.4 481h0M531.9 477h0M531.9 482.8h0M531.6 478.8h0M531.6 475.4h0M531.7 480.2h0M532.1 477.5h0M532 481.6h0M532 479.2h0M532.6 476.7h0M532.3 480.6h0M532.6 477.9h0M533 476.3h0M608.2 426.8h0M608.4 428.1h0M608.9 426.6h0M608.7 425.6h0M609 427.6h0M609.2 426.7h0M609.5 425.7h0M609.1 427.7h0M609.4 426.4h0M609.3 428.8h0M609.4 427.7h0M609.8 426h0M610 429.4h0M609.6 427.8h0M610.1 425.6h0M610.5 429h0M610.5 427.2h0M610.1 430.6h0M610.5 428.8h0M610.6 426.4h0M610.8 430h0M610.8 427.6h0M611.3 431.7h0M611 429.5h0M610.9 426.8h0M611.2 431.5h0M611.3 428.5h0M611.5 426.5h0M611.8 430.5h0M611.6 427.8h0M612.1 433.2h0M612.2 430.2h0M612.1 427.2h0M612.5 432.7h0M612.2 429.6h0M612.6 426.5h0M612.5 432h0M612.5 429h0M612.5 434.1h0M612.8 431.3h0M613 427.8h0M613.2 433.2h0M612.9 429.5h0M613.5 435.9h0M613 432.1h0M613.8 427.4h0M613.9 435.2h0M613.5 430.5h0M613.9 426h0M614.1 433.8h0M614 429.7h0M613.9 437.8h0M614 433.4h0M614.6 429.2h0M614.2 436.9h0M614.4 432.4h0M614.9 439.8h0M615.1 435.3h0M614.7 431.1h0M615 438.3h0M614.9 434.3h0M615.2 430.1h0M615.6 436.8h0M615.7 432.8h0M615.7 440.2h0M616 436.7h0M615.7 432.1h0M615.7 439.3h0M616.4 435h0M616.4 432h0M616.6 438.4h0M616.5 436h0M616.3 441.1h0M616.9 439h0M616.8 437.5h0M617 441h0M617.5 458.2h0M617.5 462h0M617.6 459.8h0M617.7 457.5h0M617.4 461.4h0M617.7 458.8h0M617.9 455.9h0M618 460.7h0M618.2 457.5h0M618 462.5h0M618.3 459.7h0M618.2 456.9h0M618.4 462.2h0M619 459.4h0M618.5 456.7h0M618.7 461.4h0M619.2 458.2h0M619.2 463.4h0M619.2 460.6h0M619.4 457.6h0M619.1 462.6h0M619.5 460.2h0M619.8 464.4h0M619.8 461.9h0M619.5 459.5h0M620.1 463.4h0M619.8 461h0M620.2 457.8h0M620.5 463.3h0M620.7 460.3h0M620.6 465.1h0M620.6 461.7h0M620.8 459h0M620.5 463.1h0M620.8 460.5h0M621.4 458.2h0M621.2 462.9h0M621.4 460.5h0M621.7 464.5h0M621.7 462.2h0M621.7 460.2h0M621.9 463.3h0M621.9 461.3h0M622.1 464.5h0M622 462.7h0M622.3 460.9h0M622.4 464h0M622.2 462h0M622.7 460.3h0M622.5 463.2h0M622.5 461.4h0M623.1 463.8h0M623.2 462h0M622.7 460.8h0M623.1 462.9h0M623.3 461.6h0M623.6 463.6h0M623.8 462.2h0M623.2 461.2h0M624 463.1h0M623.5 461.8h0M624.1 460h0M623.8 462.5h0M624 461h0M624 463.2h0M624.3 461.9h0M624.7 460.1h0M624.9 462.9h0M624.8 461h0M625.1 459.4h0M624.6 462.8h0M625.2 461.3h0M625.4 465.1h0M625.3 462.6h0M625.2 460.6h0M625.4 464.3h0M625.2 462h0M625.4 466.1h0M625.9 463.5h0M625.8 461.1h0M626.3 465.8h0M626.2 462.8h0M626.2 459.8h0M626.5 465.5h0M626.1 461.6h0M626.5 467.9h0M626.8 463.8h0M626.5 459.7h0M627 466.3h0M626.9 462.5h0M626.8 469.5h0M626.9 465.2h0M627.3 460.4h0M627.7 468.7h0M627.9 463.7h0M627.5 458.3h0M628 467.3h0M628.2 461.8h0M627.8 471.6h0M628.1 465.4h0M628 459.4h0M628 470.2h0M628.2 463.5h0M628.3 456.7h0M628.5 467.8h0M628.5 460.3h0M628.6 472.2h0M629.1 464.9h0M628.8 457.6h0M629.5 469.7h0M629.3 462.5h0M629.6 474.8h0M629.7 467.3h0M629.6 459.8h0M629.5 472.9h0M629.6 464.7h0M630.3 455.8h0M630.2 470.1h0M629.9 461.5h0M630.6 475.9h0M630.8 468h0M630.2 459.4h0M630.7 473.9h0M630.6 465.1h0M631.2 456.8h0M630.7 470.9h0M630.7 463h0M631.4 476.9h0M631.5 468.5h0M631.6 460.5h0M631.8 473.1h0M631.8 466h0M632 478.2h0M632 471h0M631.7 463.7h0M632 475.4h0M632.4 468.1h0M632.6 461.1h0M632.6 472.1h0M632.8 465.3h0M632.8 476.5h0M633 469.8h0M632.5 463h0M633.1 473.7h0M633.2 467.7h0M633.1 477.8h0M633.1 471.5h0M633.3 465.8h0M633.6 475.6h0M633.4 469.5h0M633.7 464.2h0M633.8 473.1h0M634.3 467.4h0M634.4 476.2h0M634 470.6h0M634 465.6h0M634.3 473.9h0M634.5 468.7h0M634.9 463.2h0M635 471h0M634.7 466.4h0M634.9 474.5h0M635 469.4h0M635.1 464.5h0M635.4 472.6h0M635.5 467.3h0M635.4 475h0M635.6 470.3h0M635.5 465.3h0M636 473.2h0M636 468.4h0M635.7 463.2h0M636.2 470.6h0M636.1 466h0M636.5 473h0M636.5 468.9h0M636.7 464.3h0M636.6 471.8h0M636.6 467.6h0M636.8 473.9h0M637.1 469.6h0M637 465.3h0M637.5 471.4h0M637.2 467.7h0M637.2 464.3h0M637.7 470.3h0M637.5 466.6h0M637.7 472.5h0M637.6 468.8h0M637.7 465.3h0M638.2 471.4h0M638.4 467.9h0M638.1 465.1h0M638.4 469.7h0M638.7 467.1h0M638.8 470.9h0M638.8 468.6h0M639.2 466.4h0M639 470.1h0M638.9 468.2h0M639 471.7h0M639.3 469.9h0M639.3 467.8h0M639.2 472h0M639.7 470h0M639.9 467.9h0M639.8 471.7h0M639.8 469.5h0M639.9 473.6h0M640 471.2h0M640.6 469h0M640.2 472.4h0M640.3 470.5h0M641 468.2h0M640.4 472.1h0M640.6 469.9h0M641.3 473.8h0M640.9 471.2h0M641.1 468.9h0M641.1 473.3h0M641.6 470.6h0M641.4 474.8h0M641.8 472.4h0M642 470.1h0M642.1 474.2h0M642 472.1h0M641.9 469.4h0M642.2 473.4h0M642.1 470.9h0M642.4 475h0M642.5 472.6h0M642.9 470.3h0M642.5 474.1h0M643.1 472.2h0M643 475.9h0M643 473.7h0M643.1 471.3h0M643.6 475h0M643.6 472.6h0M643.8 470.3h0M643.6 473.8h0M643.9 472.1h0M644 475.8h0M644 473.5h0M643.8 471.3h0M644.3 474.7h0M644.1 472.8h0M644.6 470.2h0M644.8 474.1h0M644.5 471.8h0M644.5 475.8h0M644.7 473.2h0M644.9 471.1h0M645.3 474.2h0M645.1 472.2h0M645.4 475h0M645.1 473.2h0M645.7 471h0M645.8 474.4h0M645.9 472.4h0M645.8 470h0M645.8 474.4h0M646.3 471.8h0M646.3 475.3h0M646.3 472.9h0M646.7 471.3h0M646.4 475h0M646.8 472.8h0M646.6 470.6h0M646.6 474.3h0M646.7 472.2h0M647.1 475.6h0M647.3 473.2h0M647.5 471.1h0M647.1 474h0M647.6 472.1h0M647.3 475.1h0M647.5 473.5h0M647.7 472.6h0M648.1 474.7h0M648.4 473.3h0M648.4 472.6h0M648.4 474.4h0M648.5 473.2h0M648.7 475.7h0M648.6 474.3h0M648.9 472.9h0M648.8 475.9h0M648.9 474.5h0M648.8 477.4h0M648.9 474.8h0M649.1 472.1h0M649 475.9h0M649.4 472.4h0M649.9 468.2h0M649.8 473.6h0M649.4 468.7h0M650.1 475.2h0M650.3 470.5h0M650 464.5h0M650.4 473.3h0M650 466.6h0M650.2 459.4h0M650.5 469.6h0M650.6 462.1h0M650.9 473.4h0M650.6 465.7h0M651.3 458.5h0M650.9 470.1h0M651.1 462.4h0M651.4 473.7h0M651.4 465.8h0M651.5 457.5h0M651.4 470.3h0M651.7 461.5h0M651.6 453.2h0M652.1 466.4h0M652 457.3h0M652 471.4h0M652.2 462.8h0M652.3 454.1h0M652.3 468.7h0M652.8 459.1h0M653 474.3h0M653.2 464.6h0M652.9 454.1h0M653 469.7h0M653.4 459.7h0M653.3 449.5h0M653.1 465.5h0M653.3 455.9h0M653.3 471.5h0M653.5 462.8h0M653.9 453.6h0M653.9 468.6h0M654.2 459.4h0M654.2 450.5h0M654 464.7h0M654.4 455.5h0M654.7 469.8h0M654.8 460.7h0M654.6 451.9h0M654.7 465.9h0M655.3 457.7h0M655.3 470.6h0M655 462.1h0M655.5 454.2h0M655.6 465.9h0M655.7 458.7h0M655.8 452h0M655.8 462.4h0M656 455.6h0M656.1 464.6h0M656 458.6h0M656.5 453h0M655.9 461.3h0M656.7 456.1h0M656.8 451.6h0M656.6 458.8h0M656.9 454.1h0M656.6 460.4h0M657.2 455.9h0M657.3 451.5h0M657.1 458.3h0M657.2 454.4h0M657.2 460.7h0M657.5 456.5h0M657.6 452.1h0M657.6 458.7h0M657.6 454h0M657.8 449.6h0M658.4 455.8h0M658.5 451.6h0M657.9 457.7h0M658.1 453.7h0M658.7 449.7h0M658.5 455.7h0M658.6 451.6h0M658.8 458.1h0M658.6 453.6h0M659.3 449.1h0M658.8 455.4h0M659.4 451.5h0M659.5 447.2h0M659.7 453.9h0M659.7 449.4h0M660 456.2h0M659.8 451.9h0M660.2 446.6h0M660.1 453.9h0M660 449.3h0M660 445.2h0M660.7 452.7h0M660.3 447.9h0M660.3 455.3h0M660.8 450.8h0M660.7 446.9h0M661.2 453.5h0M660.7 449.7h0M661.2 456.1h0M661.2 451.8h0M661.4 447.9h0M661.5 453.8h0M661.7 450.2h0M661.4 446.1h0M662.1 452.3h0M662.2 449.1h0M662.4 454.8h0M661.9 451.7h0M662.1 448.1h0M662.3 453.9h0M662.7 450.8h0M662.7 447.3h0M662.6 452.8h0M662.6 450.3h0M663.2 455.1h0M663 452.5h0M663.2 449.5h0M662.9 455.1h0M663.3 451.8h0M663.4 457.9h0M663.9 454.9h0M663.6 451.2h0M663.5 457.5h0M664 454h0M664 450.2h0M664.2 457.1h0M663.9 452.8h0M664.5 460.1h0M664.1 456h0M664.5 451.8h0M664.5 458.6h0M664.8 455h0M664.8 461.3h0M665 457.4h0M665.4 453.4h0M665.4 460.7h0M665.1 456.4h0M665.5 452.1h0M665.3 459.1h0M665.3 455.5h0M665.8 461.4h0M665.6 457.6h0M666.1 454.4h0M666.3 460.2h0M666.1 456.7h0M666.6 453.7h0M666.4 459.7h0M666.7 456h0M666.8 462.4h0M666.5 458.7h0M666.7 455.2h0M667.2 461.3h0M667.3 458.1h0M667.3 464.4h0M667.3 461h0M667.6 457.5h0M667.6 463.1h0M667.9 459.9h0M668 456.6h0M667.9 462.4h0M668 459.3h0M668 464.9h0M668.3 461.1h0M668.2 457.8h0M668.1 463.5h0M668.8 460.1h0M668.8 465.1h0M668.4 461.8h0M669.1 458.8h0M669.2 464.7h0M669.3 461.5h0M669.2 458.4h0M669.2 463.7h0M669.6 460.6h0M669.3 465.6h0M669.4 462.2h0M670 459.6h0M669.5 464.4h0M670 461.3h0M670.3 457.8h0M670.2 463h0M670.5 459.6h0M670.6 464.6h0M670.5 461.9h0M670.9 459h0M670.8 463.1h0M670.5 460.3h0M670.8 465.1h0M671.3 462.5h0M671.4 459.9h0M671 464.4h0M671.1 461.4h0M671.6 459.1h0M671.7 462.8h0M671.7 460.1h0M672.2 464.2h0M672.1 461.8h0M672 459.9h0M672 462.9h0M671.9 460.7h0M672.3 459.3h0M672.3 461.7h0M672.4 460h0M672.8 462.9h0M672.6 461h0M672.7 458.6h0M672.9 462.2h0M673.2 459.4h0M673 463.7h0M673.7 460.8h0M673.5 457.9h0M673.6 461.8h0M673.4 459.6h0M673.9 457.3h0M674.1 460.7h0M674.2 458.7h0M674.1 462.2h0M674.3 459.5h0M674.6 457.8h0M674.3 460.7h0M674.6 458.4h0M674.4 461.5h0M675 459.5h0M674.8 458.1h0M675 461.2h0M675 459.4h0M675.3 457.3h0M675.6 460.1h0M675.1 458.3h0M675.4 460h0M675.8 458.9h0M676 457.2h0M676.1 459.2h0M676.1 457.8h0M676 456.5h0M676.2 458.3h0M676 457.5h0M676.5 459h0M676.8 458.4h0M676.3 457.3h0M676.7 458.9h0M676.7 457.9h0M677 459.5h0M676.8 458.5h0M677.5 457.4h0M677.2 459.3h0M677.4 457.9h0M677.8 456.9h0M677.4 459.5h0M677.7 457.7h0M677.8 460h0M677.9 458.9h0M677.9 457h0M678.5 459.9h0M678.1 458.1h0M678.4 461.4h0M678.3 459.5h0M678.9 458.2h0M678.7 461.3h0M678.9 459.5h0M678.9 458h0M679.3 460.7h0M679.1 459h0M679 461.8h0M679.2 459.6h0M679.8 458.1h0M679.3 460.3h0M679.8 459.3h0M679.6 457.2h0M679.8 460h0M679.9 458.7h0M680.5 461h0M680.2 459.4h0M680.7 457.7h0M680.4 459.3h0M680.7 457.5h0M680.6 460.7h0M681.1 458.9h0M680.8 456.9h0M681.1 459.7h0M681.5 458h0M681.3 455.6h0M681.5 458.4h0M681.3 456.3h0M681.6 459.7h0M681.9 457.3h0M681.9 454.2h0M682.1 458.5h0M682.3 456.2h0M682.1 453.9h0M682.4 457.7h0M682.2 455.3h0M682.4 459.7h0M682.3 456.6h0M682.6 452.8h0M682.9 458.1h0M682.9 454.8h0M683.1 459.8h0M683.5 456.9h0M683.5 454.1h0M683.2 458.6h0M683.7 455.3h0M683.7 451.8h0M683.9 457.2h0M683.9 454.2h0M683.8 459.5h0M683.9 455.9h0M684 452.3h0M684.5 457.6h0M684.3 454.1h0M684.7 459.9h0M684.4 456.6h0M684.9 453.5h0M684.7 458.7h0M684.6 455.4h0M684.7 451.4h0M684.8 457h0M685.3 453.4h0M685.1 459.1h0M685.4 455.6h0M685.8 452.4h0M685.9 457.9h0M685.9 454.7h0M686 451.6h0M686 456.3h0M686.1 453.3h0M686 458.3h0M686.4 455.5h0M686.3 452.1h0M686.7 457.2h0M686.8 454.3h0M686.4 459.4h0M687.1 456.6h0M687.3 453.4h0M687.4 458.5h0M687.4 455.9h0M687.5 454h0M687.5 458.2h0M687.8 455.7h0M687.9 460.3h0M687.7 457.9h0M688 455.5h0M687.7 459.1h0M688.3 457.2h0M688.5 454.9h0M688.2 459h0M688.5 456.9h0M688.5 460.7h0M688.8 458.4h0M688.4 456.1h0M688.5 460.8h0M689 457.8h0M688.9 462.5h0M688.9 459.4h0M689.1 457.3h0M689.5 461.6h0M689.5 459.3h0M689.9 456.5h0M689.6 460.5h0M690 457.3h0M690.3 462.1h0M690 459.7h0M690.1 457.1h0M690.2 461.6h0M690.6 458.8h0M690.6 463.9h0M690.5 460.7h0M690.7 457.7h0M691.1 461.9h0M691.2 459.7h0M691.3 456.6h0M690.9 461.8h0M691.2 458.3h0M691.3 464.2h0M691.8 460.9h0M691.8 457.2h0M691.8 463.2h0M691.9 460.1h0M691.6 456.5h0M692.2 462.3h0M692.3 458.9h0M692.3 464.5h0M692.3 461.1h0M692.4 458.1h0M692.6 463h0M693 459.8h0M692.6 466.2h0M693.1 462.6h0M693.4 458.7h0M693 464.7h0M693.2 461h0M693.2 458h0M693.4 463.4h0M693.7 460.2h0M693.9 465.8h0M694.2 462.8h0M694.1 459.3h0M694.3 464.9h0M694.3 461.3h0M694 467.2h0M694.7 463.6h0M694.5 460.2h0M694.8 465.9h0M694.7 462.2h0M694.6 458.8h0M694.7 464.7h0M694.8 460.7h0M695.3 466.3h0M695.1 462.7h0M695.2 459.1h0M695.2 464.7h0M695.6 461.6h0M695.5 458.5h0M695.8 462.9h0M695.6 460.7h0M696.3 464.2h0M696.5 461.9h0M696.4 459.8h0M696.4 463.1h0M696.8 460.7h0M696.8 464.4h0M696.8 462.2h0M696.7 459.8h0M697.3 464.2h0M696.7 461.6h0M697.2 459.3h0M697.2 462.9h0M697.1 460.5h0M697.2 464.5h0M697.5 461.6h0M697.7 459.4h0M697.7 463.6h0M697.6 461.4h0M698 459.3h0M698.2 462.5h0M698.3 459.8h0M698.1 464h0M698.4 461.4h0M698.4 458.8h0M698.9 463.3h0M698.8 460.9h0M699.2 465.3h0M698.9 462.3h0M699.3 460h0M699.4 464.4h0M699.3 462.2h0M699.7 460h0M699.7 463.7h0M699.5 461.4h0M699.6 464h0M700.2 462.5h0M700.1 460.7h0M689.7 458.5h0M690.4 462.1h0M690 460.5h0M690.1 458.3h0M690.6 462.2h0M690.6 460.1h0M690.5 457.8h0M690.9 461.8h0M691 459h0M691.3 463.1h0M691.3 461.1h0M691 459.1h0M691.2 463.1h0M691.3 460.1h0M691.2 457.3h0M691.9 462.6h0M691.8 459.5h0M692.2 464.9h0M691.7 461.5h0M692 459.1h0M692.1 463.7h0M692.2 460.8h0M692.5 465.1h0M692.5 462.6h0M692.6 460.1h0M692.9 464.4h0M692.9 462h0M692.7 459.2h0M692.9 464.1h0M693.4 461.2h0M693.2 466.2h0M693.2 462.7h0M693.2 459.6h0M693.7 464.2h0M693.9 461.3h0M694.1 458.1h0M693.8 463.4h0M694.3 461.1h0M693.8 465.3h0M694 462h0M694.1 459.2h0M694.4 464.1h0M694.7 461.2h0M694.6 465.9h0M694.6 462.7h0M694.9 459.6h0M695 464.3h0M694.9 462.1h0M695.4 459.7h0M695.5 464h0M695.7 461h0M695.6 465.4h0M695.9 462.5h0M695.7 460h0M695.9 464.4h0M696.2 461.9h0M696 465.8h0M696.5 463.7h0M696.5 461.7h0M696.5 465.3h0M696.3 463.1h0M696.7 461.1h0M696.9 464.3h0M696.7 461.8h0M696.8 465.6h0M696.8 463.4h0M697.2 460.8h0M697.5 464.4h0M697.5 461.7h0M697.8 459.5h0M697.4 463.1h0M697.9 460.8h0M697.6 464.6h0M697.8 462.3h0M698.4 460.8h0M698.6 463.6h0M698.4 461.8h0M698.6 464.3h0M698.2 462.4h0M698.7 460.2h0M699.1 463.5h0M699.2 461.4h0M699.4 459.5h0M699.3 463.3h0M698.9 461.1h0M699.5 465.2h0M699.7 462.6h0M699.7 460.5h0M699.9 464.1h0M700 462h0M699.9 464.3h0M700.1 463.2h0M700.4 461.5h0M700.1 464.1h0M700 462.2h0M700.5 460.8h0M700.3 464.1h0M701 462.5h0M700.7 466.1h0M700.6 464.2h0M701.2 462h0M700.9 465.9h0M701.6 463.7h0M701.7 461.8h0M701.1 466.4h0M701.8 463.8h0M701.4 468h0M701.5 465.7h0M701.9 462.7h0M701.8 467.6h0M702.4 465.2h0M702.4 470h0M702.3 467.7h0M702.6 465.2h0M702.8 469.4h0M702.7 467.3h0M703 464.3h0M703 469.7h0M702.8 467.2h0M703.4 472.2h0M703.4 469h0M703.2 466h0M703.2 470.8h0M703.7 467.7h0M703.4 465.3h0M703.5 469.1h0M703.7 466.9h0M704 470.6h0M703.9 468.4h0M704.5 466.2h0M704.6 470.4h0M704.7 467.7h0M704.6 471.4h0M704.8 469.2h0M704.6 467h0M704.8 471h0M704.7 468.7h0M705.1 465.7h0M705.1 469.8h0M705.6 467.4h0M705.4 471.4h0M705.6 469.3h0M705.4 467.2h0M705.8 470.5h0M706 468.3h0M705.7 472h0M706.4 470.1h0M706.3 468.3h0M706.2 471.8h0M706.2 469.7h0M706.6 467.8h0M706.4 470.8h0M707 469.2h0M707.1 472h0M706.7 470.4h0M707.2 469h0M707.1 472.2h0M707 470.4h0M707.5 468.7h0M707.4 471.5h0M707.7 469.7h0M707.6 473.5h0M708 471.3h0M707.9 469.7h0M707.8 472.4h0M708.1 470.7h0M707.9 473h0M708.1 471.8h0M708.1 470.2h0M708.3 473.5h0M708.9 472.1h0M708.6 469.8h0M709.2 472.6h0M709 470.7h0M709.5 473.8h0M709.3 472.3h0M709.2 470.5h0M709.3 473.4h0M709.7 471.7h0M709.5 474h0M709.8 472.4h0M709.8 471.1h0M710.2 473.8h0M710.5 471.9h0M710.2 470.8h0M710.6 473.5h0M710.2 472.2h0M710.8 474.5h0M710.8 473.1h0M710.6 472h0M711.2 475.1h0M711.3 473.5h0M711.1 471.4h0M711 474.4h0M711.2 473.2h0M711.3 476.3h0M711.4 474.9h0M711.5 473.3h0M712 476.6h0M711.8 474.7h0M712.1 478.2h0M711.9 476.5h0M712.3 474.2h0M712.4 477.3h0M712.2 475.6h0M712.3 473.5h0M712.4 477.6h0M712.9 475.4h0M713.1 479.7h0M712.7 477.3h0M713.1 474.6h0M713.4 479.3h0M713.3 476.4h0M713.5 473.3h0M713.4 477.9h0M713.9 475.1h0M713.6 480h0M714.2 477.2h0M713.8 474.6h0M714.1 479.4h0M714.3 476.7h0M714.4 481.4h0M714.2 478.3h0M714.5 475.2h0M714.7 480.6h0M714.9 476.8h0M714.8 472.6h0M714.7 479.2h0M715.3 475.8h0M715.1 482.3h0M715.5 478.3h0M715.1 474.2h0M715.6 481h0M715.4 476.7h0M715.9 484.1h0M715.6 479.6h0M715.8 475.2h0M716 482.1h0M716.3 478.3h0M716.2 475h0M716.6 481.1h0M716.7 477.4h0M716.7 483.4h0M716.5 479.9h0M717.1 475.9h0M717.1 481.5h0M717 477.6h0M717.5 474.1h0M717.2 480.6h0M717.6 477h0M717.2 484.1h0M717.9 480.1h0M718 475.8h0M717.9 483.1h0M717.8 479.4h0M718.3 486.5h0M718.5 482.6h0M718.6 478.7h0M718.6 486h0M718.2 482.1h0M718.4 478.3h0M718.9 485.6h0M718.8 481.5h0M719.1 489.1h0M719.1 485.1h0M719.5 480.6h0M719.2 488.4h0M719.2 483.6h0M719.6 478.6h0M719.3 486.2h0M719.9 480.8h0M719.5 489.5h0M719.9 483.7h0M720.1 477.9h0M720.3 487.6h0M719.9 481.7h0M720.2 491.6h0M720.5 485.3h0M720.9 479.9h0M721 489.5h0M720.8 483.5h0M720.6 477.2h0M720.7 487.3h0M721.2 481h0M721.4 490.2h0M721.1 484.7h0M721.7 479.3h0M721.3 487.8h0M721.9 482.6h0M721.8 491.5h0M721.8 486.1h0M722.1 480.6h0M722.4 489.2h0M721.9 483.7h0M722.5 478.4h0M722.4 486.8h0M722.4 481.7h0M722.7 489.6h0M723 484.8h0M723.1 479.6h0M722.7 486.9h0M723 482h0M723.3 477.3h0M723.5 483.8h0M723.4 479.8h0M723.4 486.1h0M723.8 481.5h0M724 477.4h0M724 482.9h0M724 478.7h0M723.9 484.6h0M724.1 480.5h0M724.5 476.4h0M724.8 482.2h0M724.8 477.8h0M724.4 473.2h0M724.4 479.7h0M724.7 474.6h0M725 481.9h0M725.4 477h0M725.4 471.5h0M725.5 478.9h0M725.7 473.7h0M725.7 481.8h0M725.5 475.7h0M725.9 470.2h0M725.8 477.7h0M726.1 471.9h0M725.8 466h0M726.5 474.5h0M726.5 468.9h0M726.7 478h0M726.7 472.1h0M726.9 466.3h0M726.6 475.4h0M726.6 469.5h0M726.9 463.2h0M726.8 472.6h0M727.4 466.5h0M727.1 476.3h0M727.2 470.5h0M727.7 464h0M727.9 474.2h0M727.8 467.6h0M727.7 478.3h0M728.2 471.6h0M728.1 465.3h0M728.1 475.3h0M728 468.5h0M728.1 461.5h0M728.4 471.5h0M728.8 464.6h0M728.8 475.1h0M729.1 468.1h0M729.3 461.5h0M729.3 472.7h0M729.2 465.8h0M729.5 458.7h0M729.7 469.6h0M729.7 462.4h0M729.4 474h0M729.6 466.6h0M730 458.6h0M729.8 470.8h0M730.3 462.9h0M730.1 475.9h0M730.4 467.8h0M730.7 459h0M730.4 472.6h0M730.3 463.7h0M731 454.5h0M731 468.5h0M730.7 459.6h0M731.1 473.9h0M731.2 464.9h0M731.6 455.5h0M731.2 470.5h0M731.6 460.9h0M731.5 475.6h0M731.4 465.9h0M731.5 456.4h0M732.1 471.9h0M732.3 462h0M731.8 452h0M732.5 467.2h0M732.7 457.4h0M732.5 472.8h0M732.8 462.4h0M732.7 452.1h0M732.8 468.5h0M732.6 458h0M732.9 447h0M733.2 463.3h0M733.2 452.3h0M733.3 469.6h0M733.7 458.2h0M733.9 446.3h0M733.9 464.2h0M733.4 452.4h0M733.9 471.7h0M734.2 459.2h0M733.8 446.6h0M734.4 465.9h0M734.6 453.5h0M734.6 440.2h0M734.3 460.5h0M734.4 447.6h0M735 468.5h0M735 455.4h0M735.2 442.3h0M735 463.3h0M735 450h0M735.2 436.3h0M735.1 456.8h0M735.8 443.9h0M735.5 463.5h0M736 451.3h0M735.7 441.9h0M736.1 457.4h0M736.3 448.7h0M736.1 461.3h0M741.3 446.7h0M741.3 455.2h0M741.6 450.3h0M741.6 445.4h0M741.7 452.9h0M742.1 447.9h0M742.3 443.2h0M742 451.4h0M742.3 446h0M742.2 455.3h0M742.6 449.4h0M742.7 443.9h0M743 452.5h0M742.8 447.2h0M742.7 441.3h0M742.9 449.9h0M743 444.4h0M743.1 453.9h0M743.6 448.4h0M743.5 442.2h0M743.8 452.3h0M743.9 446.5h0M744.2 456.2h0M744.3 449.6h0M744 443.7h0M744.5 452.4h0M744.7 447h0M744.8 441.9h0M744.9 450.4h0M744.8 444.7h0M744.7 452.6h0M744.6 448h0M745.2 442.9h0M745.4 451.3h0M745.1 446h0M745.6 441.2h0M745.4 448.8h0M745.6 444.4h0M746.1 451.6h0M745.8 447h0M745.9 442.4h0M745.8 449.2h0M746 444.7h0M746.1 451.8h0M746.1 447.5h0M746.5 443.5h0M746.7 449.1h0M747 445.6h0M747.1 441.8h0M747 447.6h0M747 444.6h0M746.9 449.8h0M746.9 446.4h0M747.6 443.1h0M747.3 448.5h0M747.3 445.5h0M747.6 450.2h0M748.1 446.9h0M747.9 443.1h0M748.2 448.2h0M748.1 444.8h0M748.2 441.8h0M748.1 446.6h0M748.3 444.2h0M785.9 427h0M786 428h0M786.3 427.5h0M786.3 427h0M786.6 428.4h0M786.2 427.7h0M786.6 426.9h0M787.1 429.1h0M786.5 427.9h0M787.2 430.6h0M787.2 429.1h0M786.9 426.9h0M787.5 429.9h0M787.5 427.7h0M787.8 425.8h0M788 429h0M787.5 427.1h0M787.5 430.7h0M787.9 428.8h0M788.4 426.2h0M788.5 430.8h0M788.3 428.5h0M788.2 433.2h0M788.3 430.6h0M789 428.2h0M789 432.9h0M788.9 430.5h0M788.9 427.1h0M789 431.8h0M789.1 429.3h0M789.2 435.2h0M789.6 431.7h0M789.3 428.5h0M789.7 434.3h0M789.4 430.5h0M790 426.8h0M790.2 433.1h0M790 429.3h0M790.2 436.4h0M790.4 431.7h0M790.6 426.8h0M790.6 434.9h0M790.8 430.2h0M790.7 438.8h0M790.7 433.9h0M790.8 429h0M791.3 437.9h0M791.3 432.4h0M791.1 426.3h0M791.3 436.4h0M791.7 430.2h0M791.3 440.5h0M791.6 434.5h0M791.8 428h0M791.6 438.7h0M792 432.1h0M791.8 443.2h0M792.4 436.5h0M792.5 429.8h0M792.4 440h0M792.6 433.6h0M792.5 427.3h0M792.6 437.9h0M793.1 431.5h0M793.1 442.4h0M793.1 436.1h0M793.4 429.3h0M793.1 441h0M793.2 434h0M793.9 426.6h0M794 439.8h0M793.7 431.7h0M794.2 444.6h0M794.2 437.3h0M794.4 429.8h0M794.4 442.6h0M794.3 435.2h0M794.5 447h0M794.7 440.3h0M794.7 432.6h0M794.8 445.4h0M794.7 438.3h0M795.2 430.7h0M795.4 444h0M795.1 436h0M795.6 449.4h0M795.7 441.8h0M795.3 434.6h0M795.5 447.5h0M795.6 440h0M795.9 452.9h0M796.2 445.3h0M796.2 437h0M795.9 450.5h0M796.4 443h0M796.6 435.6h0M796.4 448.6h0M796.9 440.9h0M796.4 453.8h0M796.7 446.2h0M797.2 439h0M797.4 451.4h0M797.4 443.7h0M797.6 436.9h0M797.1 448.5h0M797.3 441.5h0M797.6 453.3h0M797.5 446.2h0M797.9 438.9h0M798 450.5h0M798.3 443.1h0M798.4 454.7h0M798.3 447.4h0M798.5 440.2h0M798.3 452.2h0M798.7 445.2h0M799.1 437.9h0M798.8 449.5h0M799.1 442.1h0M799.2 454.1h0M799.1 447.8h0M799.4 440.8h0M799.5 451.7h0M799.8 445.3h0M799.6 438.5h0M800 449.8h0M800.1 442.7h0M800.2 454.1h0M800.1 447.2h0M800 441h0M800 452.1h0M800.4 445.7h0M800.4 457.2h0M800.9 450.3h0M800.8 443.7h0M800.6 454.3h0M800.8 447.8h0M801.4 441.5h0M800.9 451.9h0M801.6 445.3h0M801.5 456.6h0M801.3 450.2h0M801.6 444.1h0M802 455.2h0M802 448.6h0M801.8 458.8h0M801.7 453h0M802 447h0M802 456h0M802.1 450.8h0M802.9 445.9h0M802.4 454.4h0M803 449.5h0M802.5 458.2h0M802.6 453.1h0M803.2 447.6h0M803.4 455.8h0M803.4 450.6h0M803.6 445h0M803.2 453.8h0M803.9 447.7h0M803.7 456.3h0M803.6 451.1h0M803.7 445.3h0M803.9 454.5h0M804.1 448.7h0M804.3 458.2h0M804.7 452.2h0M804.4 446.4h0M804.6 456.1h0M804.7 450.3h0M804.9 444.8h0M804.6 453.3h0M804.8 447.5h0M805.1 457.2h0M805.4 451.2h0M805.4 445h0M805.2 454.8h0M805.7 448.7h0M805.5 457.7h0M805.9 451.9h0M805.7 445.9h0M805.8 455.5h0M805.8 449.8h0M806.2 444.1h0M806.4 454h0M806.3 448.6h0M806.6 457.6h0M806.8 452.4h0M806.7 447.1h0M806.9 455.8h0M806.7 450.6h0M807.4 445.5h0M807.4 454.3h0M807.2 449.4h0M807.8 457.3h0M807.5 453.1h0M807.7 447.8h0M808.1 456.5h0M808.2 451.2h0M808.3 460.2h0M807.9 455h0M807.9 450.1h0M808.3 458.3h0M808.4 453.9h0M808.7 449.6h0M808.8 457.3h0M808.9 453h0M809 460.6h0M808.7 456.6h0M809.2 452.7h0M809.3 459.6h0M809.7 455.6h0M809.2 451.7h0M809.6 457.7h0M810 453.3h0M809.6 459.8h0M809.6 456.5h0M809.8 452.5h0M809.8 459.1h0M810.5 455.1h0M810.3 462.4h0M810.4 458.4h0M810.2 453.9h0M810.4 462.3h0M810.7 457.2h0M811.2 452.2h0M810.9 460.8h0M811.3 455.9h0M811.2 464.3h0M811.3 459.7h0M811.1 454.9h0M811.7 463.4h0M811.6 458.9h0M811.7 466.3h0M812 462.4h0M811.9 458.1h0M812 465.8h0M812.3 461.6h0M812.1 456.9h0M812.1 464.6h0M812.7 459.6h0M812.7 467.8h0M812.8 463.3h0M812.9 458.5h0M812.9 466.1h0M812.9 462h0M812.9 457.8h0M813.6 465h0M813.3 460.7h0M813.8 467.6h0M813.8 463.2h0M814 459.3h0M813.9 465.9h0M813.9 461.9h0M814.3 468.9h0M814.5 464.7h0M814.5 460.5h0M814.3 468.3h0M814.3 463.6h0M814.6 459.4h0M814.7 466.8h0M815.2 462.6h0M815 470.1h0M815.3 466.1h0M815 462.2h0M815.3 469.5h0M815.5 465.4h0M815.3 460.7h0M815.6 468.2h0M815.7 463.7h0M815.7 470.2h0M815.7 466.6h0M815.7 463h0M816.3 469.8h0M815.9 466.1h0M816.6 472.2h0M816.8 468.8h0M816.5 465.1h0M816.9 471.4h0M816.7 468.1h0M816.7 464.2h0M817.3 470h0M817.5 466.8h0M817.6 472.9h0M817.4 469.2h0M817.6 465.4h0M817.3 471.4h0M817.5 468.3h0M818.1 473.4h0M818.2 469.7h0M817.7 466.8h0M818.3 472.3h0M818.5 468.7h0M818.4 466.2h0M818.3 470.9h0M818.4 468.7h0M818.9 473.4h0M819 469.8h0M819.1 467h0M819.3 472.2h0M819.3 469.4h0M819.1 466.5h0M819.1 471h0M819.5 467.9h0M819.8 472.5h0M820 469.7h0M820.1 466.7h0M819.8 471.5h0M820.1 468.4h0M820.4 473.5h0M820 470.8h0M820.2 467.7h0M820.4 471.7h0M820.4 468.7h0M821 465.5h0M820.7 470.8h0M821 467.5h0M821.3 472.4h0M821 469.4h0M821.3 466.5h0M821 471.5h0M821.4 468.6h0M821.9 473.5h0M821.4 470.6h0M821.5 467.3h0M821.6 473.2h0M822.3 469.8h0M822.4 466.3h0M822.3 472.3h0M822.2 468.7h0M822.3 475.2h0M822.6 471.4h0M822.6 467.4h0M822.9 473.9h0M823 470.4h0M823.2 466.7h0M823.4 472.6h0M823.2 468.6h0M823.3 474.6h0M823.5 471.5h0M823.4 468h0M823.9 474.2h0M823.7 470.7h0M823.6 476.5h0M823.9 472.8h0M824.4 469.8h0M823.9 474.7h0M824.4 472h0M824.7 468.1h0M824.8 473.9h0M824.8 470.3h0M824.8 476.4h0M824.9 472.2h0M825 468.5h0M824.9 474.7h0M825.2 471h0M825.5 467.9h0M825.3 474.2h0M825.5 470.2h0M825.3 475.5h0M825.9 472.4h0M825.8 469h0M825.9 474.9h0M825.9 471.6h0M825.9 477.5h0M825.9 473.8h0M826.2 470.5h0M826.3 476.4h0M826.3 473.5h0M826.5 470.6h0M827 476.1h0M826.8 473.3h0M827 477.7h0M827.1 475h0M827.1 472h0M827.1 477.3h0M827.6 474.1h0M827.7 479.1h0M827.9 476.2h0M827.8 473.5h0M828 478.9h0M827.8 475.1h0M828.2 471.5h0M828.6 476.7h0M828.3 473.9h0M828.7 478.8h0M828.3 476h0M828.6 473.3h0M828.5 477.9h0M829.1 475.3h0M828.7 472.9h0M828.9 477.3h0M829.3 474.1h0M829.6 479.4h0M829.3 476.8h0M829.8 473.7h0M829.4 478.3h0M829.8 475.4h0M829.9 479.6h0M830.2 477.3h0M830.3 475h0M830.5 479.4h0M830.7 476.6h0M830.7 474.4h0M830.9 478.3h0M830.5 477h0M830.6 480.5h0M830.7 478.5h0M831.1 476.4h0M831 479.5h0M831.3 477.5h0M831.5 476.6h0M831.2 479.1h0M831.9 477.2h0M831.6 480.6h0M831.8 479.1h0M832.2 476.6h0M832.2 480.8h0M832 479.2h0M832.3 481.9h0M832.4 479.8h0M832.6 478h0M832.6 481.5h0M832.3 479.4h0M832.5 477.9h0M832.5 481.1h0M832.5 479.6h0M833.2 482.2h0M833.3 480.5h0M833 478.8h0M833.2 481.4h0M833.3 480.1h0M833.4 478.3h0M833.6 481.6h0M833.5 480h0M833.9 482.6h0M834.3 480.8h0M833.9 478.8h0M834.1 482h0M834.4 479.8h0M834.2 483.2h0M834.2 481.6h0M834.7 480h0M834.8 482.1h0M835 480.5h0M834.6 479.1h0M835 482h0M835 480.1h0M835 482.9h0M835.4 481.1h0M835.6 479.2h0M835.6 481.7h0M835.6 480.5h0M835.6 479.2h0M836.1 481.7h0M836.1 480.7h0M836.3 483h0M836 481.8h0M836.5 479.6h0M836.5 482.6h0M836.7 480.1h0M836.7 483.9h0M836.8 481.4h0M836.7 478.8h0M836.7 482h0M837.2 479.2h0M837.1 476.5h0M837.5 481.2h0M837.6 478.2h0M837.6 483.4h0M838.1 480h0M837.9 476.3h0M838.2 481.2h0M837.8 477.9h0M838 483.1h0M838.2 479.7h0M838.2 476.4h0M838.5 482.8h0M838.3 478.7h0M838.6 474.5h0M838.9 480.9h0M839.1 477h0M838.8 483.7h0M839.2 479.6h0M839.4 476.1h0M839.1 481.9h0M839.3 477.9h0M839.5 474h0M839.9 479.8h0M839.9 475.9h0M839.6 482.5h0M840 478.3h0M840.5 473.8h0M840.3 481.5h0M840.1 476.8h0M840.4 484.5h0M840.8 479.8h0M840.9 475h0M841.1 482.5h0M841 477.7h0M840.9 472.9h0M840.9 480.5h0M841.4 476.1h0M841.3 482.6h0M841.3 478.3h0M841.2 474.2h0M841.4 480.8h0M841.7 477h0M842 482.9h0M841.7 479.1h0M842.2 475.2h0M842.5 481.2h0M842.4 477.3h0M842.5 472.7h0M842.3 479.4h0M842.5 475.2h0M842.6 482.4h0M843.2 478.2h0M843 474.1h0M843 480.7h0M843.2 476.4h0M843 472.1h0M843.3 478.8h0M843.4 474.3h0M843.6 480.7h0M843.9 476.1h0M843.8 472.3h0M843.7 478.8h0M843.8 474.9h0M844.2 481h0M844.3 477.3h0M844.7 473.2h0M844.4 479.2h0M844.3 475.6h0M844.9 471.6h0M844.8 478h0M844.9 474.4h0M845.4 479.4h0M845.5 476.1h0M845.4 472.8h0M845.5 478.4h0M845.3 474.8h0M845.6 471.5h0M845.7 476.8h0M846 474.7h0M845.7 478h0M846 476h0M846.1 473.6h0M846.3 477.3h0M846.6 475.3h0M846.8 479h0M846.7 477h0M846.4 474.5h0M846.8 478h0M847.2 476.1h0M847.1 473.3h0M847.1 477.1h0M847 475.6h0M847.1 479.5h0M847.4 477.2h0M847.9 474.9h0M847.9 479.2h0M847.6 476.7h0M848 480.4h0M848.1 477.7h0M847.9 475.3h0M848.4 479.5h0M848.2 477h0M848.6 475.8h0M848.7 478.4h0M848.9 476.7h0M848.5 479.2h0M848.8 477h0M848.9 474.7h0M848.9 477.8h0M849.2 476.2h0M849.7 474.8h0M849.5 478.1h0M849.4 476h0M849.7 479.8h0M850 477.6h0M850.2 475.3h0M850.2 479h0M850.4 476.5h0M850.5 480.1h0M850.5 478.4h0M850.2 476.7h0M850.8 479.6h0M850.7 478h0M850.7 475h0M850.7 479h0M851.4 476.7h0M851.5 479.8h0M851.3 477.8h0M851.4 476.8h0M851.8 479.2h0M851.5 478h0M851.9 479.8h0M851.5 478.8h0M851.8 477.9h0M852.1 479.5h0M852.2 478.5h0M852.3 477h0M852.3 479.2h0M852.3 478h0M852.3 479.7h0M852.5 478.8h0M853 476.8h0M853.2 480.5h0M853.3 478.7h0M853.4 477.1h0M853.4 479.9h0M853 477.8h0M853.6 481.2h0M853.6 479.2h0M853.7 476.9h0M853.8 480.4h0M853.5 478.4h0M854.3 481.9h0M854.1 479.8h0M854 477.8h0M854.2 480h0M854.4 478.8h0M854.3 477.3h0M854.8 480.2h0M854.9 478.1h0M854.7 480.9h0M854.8 479.6h0M855 478h0M854.9 480.8h0M855.6 479.2h0M855.4 477.6h0M855.7 480.2h0M855.5 478.3h0M855.6 481.4h0M855.6 479.6h0M855.8 477.3h0M855.9 480.6h0M856 478.5h0M856.6 482.5h0M856.7 480.2h0M856.2 477.9h0M856.8 481.7h0M856.9 479.4h0M856.9 476.4h0M856.9 480.6h0M856.8 478.3h0M857.5 482.1h0M857 479.9h0M857.7 477.9h0M857.5 481.2h0M857.9 478.8h0M857.5 482.5h0M857.8 480.4h0M858 478.8h0M858.3 481.6h0M858.3 479.5h0M858.6 476.8h0M858.3 480.1h0M858.6 478h0M858.7 481.5h0M858.9 478.2h0M858.6 475.2h0M858.6 479.3h0M859 476.4h0M859.4 473.3h0M859.2 478.8h0M859.6 475.3h0M859.8 480.1h0M859.5 476.6h0M859.4 473h0M859.7 478.3h0M859.8 474.9h0M859.8 481h0M860 477.2h0M860 473.8h0M860.6 478.6h0M860.3 474.9h0M860.4 471.7h0M860.4 477h0M860.6 473.3h0M861.2 478.8h0M861.4 475.5h0M861 471.5h0M861.5 477.3h0M861.3 474h0M861.2 470.7h0M861.3 475.6h0M861.8 472.2h0M861.8 477.6h0M862 474.4h0M861.9 471.1h0M862 476.4h0M862.6 473.3h0M862.2 477.8h0M862.6 474.7h0M862.3 471.6h0M862.9 476.1h0M862.7 473.6h0M862.8 471.5h0M863 475.4h0M863.1 473.3h0M863 477.3h0M863.2 475.3h0M863.7 472.6h0M863.7 476.9h0M863.8 473.9h0M864 478.3h0M863.9 475.2h0M863.7 472.4h0M863.9 477.3h0M864.5 474.3h0M864.6 471.6h0M864.7 476.5h0M864.4 473.6h0M864.6 478h0M864.9 475.4h0M864.6 473.1h0M865.2 477.3h0M865.5 474.8h0M865 472.4h0M865.4 476.4h0M865.4 474.1h0M865.6 478h0M865.9 475.9h0M865.4 473.5h0M865.5 477.5h0M866 475.4h0M866.3 478.7h0M866.1 476.6h0M866.5 474h0M866.7 477.3h0M866.5 475.4h0M866.5 473h0M867 476.3h0M866.8 474.4h0M867.3 478.3h0M867.1 476h0M867.1 473.7h0M867.1 477.7h0M867.6 475.3h0M867.3 478.8h0M867.7 477.2h0M868 475.1h0M868.1 477.6h0M868.2 476.4h0M867.8 474.6h0M868.2 477.4h0M868.3 475.8h0M868.2 478.9h0M868.4 477.1h0M868.3 475h0M868.5 478.5h0M868.8 476.5h0M869.2 475.4h0M869.1 477.6h0M869.2 476.3h0M869.4 478.6h0M869.4 477.6h0M869.5 476.2h0M869.4 478.4h0M869.5 476.8h0M869.5 479.8h0M869.7 478.8h0M870.2 476.9h0M870.2 480.1h0M870.4 478.7h0M870.3 476.9h0M870.8 479.8h0M870.9 477.8h0M870.9 480.4h0M870.7 479.2h0M871 477.7h0M870.9 480.5h0M871.5 479h0M871.2 477h0M871.2 479.7h0M871.3 477.8h0M871.6 480.6h0M871.6 478.7h0M872.1 477.2h0M872.1 479.7h0M872.1 478.6h0M872.4 481h0M871.9 479.5h0M872.6 478.3h0M872.7 481h0M872.7 479.9h0M872.9 478.7h0M872.7 480.4h0M873.2 479.3h0M873.1 481.2h0M873.1 480.3h0M873.4 478.5h0M873.4 480.9h0M873.8 480.1h0M873.5 482.3h0M873.7 481.1h0M874.1 480.3h0M873.7 482.9h0M874.1 481.6h0M874.4 480h0M874.2 482.8h0M874.3 481.1h0M874.2 483.6h0M874.6 482.3h0M874.7 480.3h0M874.6 482.6h0M875.1 481.2h0M875.3 479.1h0M874.9 481.3h0M874.9 479.9h0M875.2 482.4h0M875.2 480.8h0M875.4 479.7h0M875.7 482h0M875.7 480.4h0M876.2 482.5h0M876 481.1h0M876.2 479.9h0M876 482.1h0M876.7 480.2h0M876.6 478.2h0M876.6 481h0M876.5 479.9h0M876.6 482.7h0M877 480.7h0M876.7 479.3h0M877.1 481.2h0M877.5 479.2h0M877.1 477.6h0M877.6 480.5h0M877.8 478.6h0M878 481.6h0M877.6 479.7h0M878.2 478.1h0M878 481.5h0M878 479.7h0M878 482.8h0M878.6 480.7h0M878.2 478.1h0M878.2 481.7h0M879 479.4h0M878.5 476.8h0M879.2 480.7h0M879.3 477.7h0M879.2 481.8h0M879.4 479h0M879.1 475.9h0M879.3 480.5h0M879.5 477.3h0M879.9 481.8h0M879.4 478.1h0M879.9 474.4h0M879.7 478.9h0M880.3 475.6h0M880.3 472.3h0M880.4 477.3h0M880.7 474h0M880.5 479.2h0M880.5 475.5h0M880.6 471.9h0M880.7 477.3h0M880.7 473.9h0M881.1 471.3h0M881.1 476.4h0M881.5 473.5h0M881.6 478.6h0M881.6 475.1h0M881.3 472.5h0M881.8 476.8h0M881.9 473.8h0M882 478.6h0M881.9 475.7h0M882.4 473h0M882.1 477h0M882.4 473.8h0M882.8 470.7h0M882.9 475.8h0M882.9 472.2h0M883 476.6h0M883.2 473.5h0M883.2 470.6h0M882.9 475.5h0M883.1 473h0M883.5 477.4h0M883.8 475.1h0M883.9 471.9h0M883.4 477h0M883.9 474.1h0M883.9 471.3h0M883.9 476h0M884.2 473h0M884.4 477.2h0M884.1 474.9h0M884.2 472.7h0M884.9 476.5h0M884.6 474.7h0M884.9 473.1h0M885.2 476.2h0M885.3 474.5h0M885.2 477.8h0M885.2 475.4h0M885.5 472.8h0M885.7 476.7h0M885.5 474.3h0M885.6 478.3h0M886.1 475.9h0M886.3 473.4h0M886.1 477.5h0M886.3 474.9h0M886 472.1h0M886.5 476.4h0M886.7 473.7h0M886.5 477.7h0M886.8 475.1h0M886.9 472.7h0M887 476.9h0M886.7 474.4h0M887.2 471.8h0M887.6 476.2h0M887.6 473.6h0M887.5 477.9h0M887.7 475.2h0M887.8 473.1h0M887.9 476.1h0M888.1 474h0M887.7 477h0M888.3 475.4h0M888.5 473.7h0M888.1 476.5h0M888.3 474.4h0M888.4 472.7h0M888.9 475.9h0M888.7 473.7h0M888.6 477h0M888.7 475.1h0M889 473.4h0M889.4 476.4h0M889.6 474.3h0M889.4 478.2h0M889.3 475.9h0M889.4 474.2h0M889.6 477.3h0M890 475.5h0M890.2 473.7h0M890 476.7h0M889.9 475.1h0M890.4 478h0M890.5 476.3h0M890.6 474.3h0M890.4 477.9h0M891 475.7h0M891 473.4h0M891.2 477.4h0M890.9 474.9h0M891.2 478.3h0M891.3 476.6h0M891.8 474.6h0M891.4 477.9h0M891.7 475.6h0M892.1 479.9h0M891.7 477.1h0M892.3 474.8h0M892.1 479.2h0M891.9 476h0M892 472.9h0M892.1 478.3h0M892.4 474.8h0M892.8 479.9h0M892.8 477h0M892.9 474h0M892.7 479.4h0M893.4 475.5h0M893.5 481.6h0M893.1 478.1h0M893.3 475.2h0M893.4 480.7h0M893.4 477.9h0M893.9 475.2h0M893.5 479.9h0M894.2 477.1h0M894.2 481.7h0M894.2 479.4h0M894.4 476.8h0M894.5 481.3h0M894.2 478.3h0M894.4 475.5h0M894.8 480.1h0M894.7 478h0M894.8 481.9h0M895.3 479.8h0M895.1 477.6h0M894.9 481.6h0M895.6 479.3h0M895.3 483h0M895.9 480.9h0M895.9 478.1h0M895.9 482.3h0M895.7 479.9h0M896.1 477.3h0M896.4 481.2h0M896.2 478.5h0M896.7 482.3h0M896.5 479.6h0M896.6 477.9h0M896.6 481.6h0M897 479.1h0M896.7 477h0M897.1 480.9h0M897.4 478.2h0M897.6 481h0M897.2 479.1h0M897.3 476.8h0M897.3 479.9h0M897.9 477.5h0M897.8 481.2h0M898.1 478.8h0M897.7 476.7h0M898.2 480.2h0M898.2 477.9h0M898.5 475.7h0M898.3 479.2h0M898.9 476.9h0M898.8 480.6h0M898.7 478.2h0M898.8 475.7h0M898.7 479.5h0M898.8 476.7h0M899.1 481.4h0M899.6 478.8h0M899.1 476.1h0M899.4 480.3h0M899.5 478.1h0M899.6 474.8h0M899.7 478.8h0M900.2 476.1h0M899.9 480.6h0M900.1 477.3h0M900.4 474.1h0M900.2 479.7h0M900.4 475.7h0M901 471.3h0M900.6 477.6h0M900.9 473.4h0M901 479.5h0M901.1 475.5h0M901.2 471.6h0M901.1 477.9h0M901.5 474.2h0M901.4 479.5h0M901.6 476.1h0M902.1 473h0M902.1 478.4h0M902.1 475.3h0M902.1 471.7h0M902.2 477.4h0M902.1 474.5h0M902.6 479.3h0M902.5 476.3h0M902.3 473.6h0M903 478.1h0M902.8 475.9h0M902.7 472.8h0M902.9 477.3h0M903.5 475.2h0M903.2 478.6h0M903.1 476.1h0M903.2 474.1h0M903.6 477.7h0M903.7 475.5h0M903.7 479.4h0M903.7 477.2h0M904.3 474.4h0M903.9 478.2h0M904.6 476.3h0M904.2 474.6h0M904.8 477.8h0M904.6 475.6h0M905 478h0M905 476.5h0M905 475.4h0M905.2 477.3h0M905.2 475.7h0M905.2 478.4h0M905.4 476.8h0M905.7 475.6h0M905.4 477.8h0M905.5 476.5h0M905.7 475.5h0M905.7 477.2h0M906.1 476.3h0M906 478h0M906 477.1h0M906.4 476.4h0M906.6 477.7h0M906.4 476.9h0M907 476.3h0M906.6 477.6h0M906.9 476.9h0M907.3 478.3h0M906.9 477.1h0M907.4 475.5h0M907.5 477.7h0M907.5 476.6h0M907.7 479.2h0M907.6 477.3h0M908 476.2h0M908 478.6h0M908.3 477.5h0M908.3 475.8h0M908 478h0M908.4 476.3h0M908.3 479.9h0M908.8 478h0M908.5 475.9h0M908.6 479.7h0M908.7 477.3h0M908.8 480.4h0M908.8 478.6h0M908.9 476.8h0M909.6 479.8h0M909.3 477.9h0M909.6 475.8h0M909.8 479.5h0M909.7 477.3h0M909.6 481.1h0M909.8 478.8h0M909.9 477h0M910.2 479.7h0M910.2 478.2h0M910.5 476.7h0M910.2 479.1h0M910.7 477.3h0M910.8 475.4h0M910.7 478.4h0M911.2 476.8h0M910.7 479.8h0M911.2 478h0M911.2 476.2h0M911.2 479.9h0M911.2 477.8h0M911.8 476h0M911.5 479.2h0M911.8 477.4h0M911.7 480.4h0M912.3 479h0M912.3 476.8h0M912.4 480.4h0M912 478.2h0M912.2 481.6h0M912.9 479.7h0M912.8 477.2h0M913 481.2h0M913 479h0M912.7 476.7h0M913.4 481.2h0M913.5 478.3h0M913.4 483.2h0M913.7 480.6h0M913.7 477.5h0M913.7 482.6h0M913.4 479.7h0M913.8 477.2h0M914.3 481.9h0M914 479h0M913.9 484.3h0M914.4 481.2h0M914.6 478h0M914.6 482.8h0M914.8 480h0M914.4 485.2h0M915.1 482.5h0M914.9 479.7h0M915.1 483.2h0M915.1 480.7h0M915.3 478.6h0M915.6 482.4h0M915.6 480.1h0M915.7 484.1h0M915.8 481.9h0M915.7 479.3h0M916.1 482.9h0M916.4 480.5h0M916 484.3h0M916.5 481.9h0M916.5 479.3h0M916.1 483.7h0M916.4 481h0M917.1 478.5h0M916.9 482.4h0M916.7 479.8h0M917.2 484.2h0M917.1 481.3h0M917.1 478.5h0M917.4 482.8h0M917.2 480.3h0M917.4 478.1h0M917.9 481.6h0M917.9 479.5h0M918 483.4h0M918 481h0M918.1 478.9h0M918.1 482.2h0M918.3 480.1h0M918.6 484h0M918.4 480.8h0M918.9 478.3h0M919.1 481.8h0M918.9 479.9h0M918.8 478.2h0M918.9 480.1h0M918.9 477.9h0M919 480.8h0M919.2 479.2h0M919.9 477.3h0M919.4 480.6h0M919.7 477.9h0M919.7 481.4h0M920.2 479.2h0M919.9 476.7h0M920.1 480h0M920 478.2h0M920.4 475.5h0M920.6 478.9h0M920.4 477h0M920.5 480.6h0M920.6 478.2h0M921.2 476.1h0M921.3 479.4h0M921 477.6h0M921.4 475.1h0M921.5 478.2h0M921.4 476.2h0M921.6 479.1h0M921.6 477.4h0M921.8 475.3h0M922 477.9h0M922 476.4h0M922.4 478.9h0M922.3 477.3h0M922.3 475.2h0M922.5 478.2h0M922.4 476.5h0M922.5 474.8h0M922.9 477.2h0M923 475.5h0M923.1 477.3h0M923.3 476.1h0M923.7 474.8h0M923.4 476.8h0M923.5 475.6h0M923.7 474.8h0M923.4 476.6h0M923.8 475.5h0M923.7 476.6h0M924.1 475.4h0M924.4 475h0M924 476.3h0M924.4 475.2h0M924.3 476.6h0M924.4 475.8h0M924.5 474.4h0M924.8 476.2h0M925.2 475.2h0M925.3 474.2h0M925 476.3h0M925 475h0M925.4 477.9h0M925.8 476.4h0M925.8 474.5h0M925.7 477.4h0M926.2 475.9h0M926 478.5h0M926 476.7h0M926.2 475.1h0M926.2 477.7h0M926.7 476.1h0M926.4 474.9h0M926.7 477.2h0M926.4 475.3h0M926.7 478.2h0M927.2 476.7h0M926.9 475.1h0M927.4 477.2h0M927 475.9h0M927.3 474.3h0M927.7 476.9h0M927.6 474.8h0M928 477.9h0M928.1 475.7h0M927.7 473.4h0M927.9 476.2h0M928.3 474.6h0M928.6 476.5h0M928.6 475.4h0M928.7 473.5h0M928.7 476.3h0M928.6 473.8h0M928.9 472.1h0M929 475.3h0M929 473.3h0M928.9 476.7h0M929.1 474.7h0M929.2 472.7h0M929.5 476.4h0M929.9 473.8h0M929.9 477.6h0M930.1 475.6h0M929.6 473.8h0M930.4 477.6h0M930.5 475.8h0M930.4 473.6h0M930.5 477.6h0M930.8 475.3h0M930.4 479h0M930.8 476.7h0M930.7 474.4h0M930.6 477.9h0M931.3 475.4h0M931 473.7h0M930.9 477h0M931 475.1h0M931.6 478.4h0M931.8 476.5h0M931.5 474.4h0M932 477.4h0M931.7 475.1h0M932.2 478.3h0M932 476.3h0M931.9 473.5h0M932.1 477.1h0M932.7 475.2h0M932.2 473.2h0M932.8 476.5h0M932.5 474.4h0M932.9 477.7h0M933.1 475.7h0M932.8 473.5h0M933.5 476.9h0M933.4 475h0M933.1 473.5h0M933.4 476.5h0M933.9 474.9h0M934 477.5h0M934 475.6h0M934.3 473.9h0M934.3 476.8h0M934.4 474.8h0M934.4 477.9h0M934.3 475.8h0M934.5 473.6h0M934.8 476.9h0M934.8 474.6h0M934.8 471.9h0M935 476h0M935.2 473.8h0M935.3 478.8h0M935.1 475.7h0M935.3 472.6h0M935.6 478.1h0M935.9 474.8h0M936 480.2h0M935.7 476.9h0M935.9 474h0M936.1 478.7h0M936.5 476h0M936.3 472.7h0M936.7 477.8h0M936.3 475h0M936.4 478.7h0M936.9 476.3h0M936.6 473.7h0M937 478h0M937.2 475.1h0M936.9 473h0M937.2 476.9h0M937.7 474.2h0M937.4 478.3h0M937.8 476.1h0M937.8 473.4h0M938 477.6h0M938.1 474.8h0M937.9 480h0M938.5 476.5h0M938.2 473.4h0M938.3 478.6h0M938.4 475.8h0M197.6 436.1h0M197.7 435.4h0M197.8 435.9h0M198 436h0M198.1 436.3h0M198.1 436.6h0M198.3 437.3h0M198.5 438.4h0M198.7 437.9h0M198.6 438.9h0M198.8 440.3h0M199.1 441.6h0M199.1 442.7h0M199.4 442.8h0M199.3 443.3h0M199.3 442.6h0M199.6 443.2h0M199.6 443.9h0M199.7 444.6h0M200 443.7h0M200.2 445.2h0M200.3 445.5h0M200.6 445.3h0M200.8 446.1h0M200.9 446.4h0M200.9 446.5h0M201.2 446.8h0M201.3 446.7h0M201.6 446.6h0M201.8 446.5h0M201.8 447.5h0M202 448h0M202.4 448.7h0M202.4 448.9h0M202.7 449.2h0M202.9 449.3h0M203 449.7h0M203.3 450.1h0M203.2 450.3h0M203.5 448.8h0M203.8 449.8h0M204.1 450.5h0M204.1 451.5h0M204.2 450.8h0M204.3 451.7h0M204.5 451.8h0M204.7 452.4h0M204.9 451.9h0M205.3 453h0M205.2 452.7h0M205.7 452h0M205.9 451.5h0M205.9 453.9h0M206.2 454.1h0M206.2 454.2h0M206.3 455h0M206.7 454.8h0M206.8 455.8h0M206.9 456h0M207.2 456.3h0M207.4 456.2h0M207.4 455.8h0M207.7 456.1h0M207.9 456h0M208.1 456.7h0M208.2 457.7h0M208.4 458.3h0M208.5 458.7h0M208.8 458.9h0M209 459.2h0M209 459.4h0M209.4 459.8h0M209.5 459.1h0M209.8 458h0M210 459.5h0M209.9 460.9h0M210 461.2h0M210.5 460.8h0M210.7 460.6h0M210.6 459.4h0M210.9 460h0M211.1 458.8h0M211.3 459.4h0M211.6 459.8h0M211.7 462.7h0M211.9 463.8h0M212.1 463h0M212.2 464h0M212.6 464.1h0M212.9 464.5h0M212.8 465.2h0M213.1 465.5h0M213.4 465.8h0M213.4 466.1h0M213.8 466.4h0M213.7 465.4h0M212 464.1h0M212.2 464.2h0M212.5 464.2h0M212.5 467.8h0M212.9 468.1h0M213.1 468.4h0M213.1 468.4h0M213.2 467h0M213.5 467.2h0M213.7 469.6h0M213.9 469.9h0M214.1 470.2h0M214.5 469.6h0M215 468.7h0M215.1 468.2h0M215.5 466h0M215.6 468.1h0M215.9 471.5h0M216.2 471.8h0M216.6 472h0M216.6 472.2h0M217.1 472.4h0M217.3 472.4h0M217.6 470h0M217.9 467.4h0M218.2 470.6h0M218.7 468.7h0M218.8 466.6h0M219.3 464.2h0M219.5 464.1h0M219.9 466.3h0M220.5 464.2h0M220.6 463.9h0M221 463.8h0M221.5 463.7h0M221.6 463.7h0M222 465.6h0M222.1 463.4h0M222.6 465.8h0M222.8 463.2h0M223.5 463.5h0M223.7 462.9h0M224 462.9h0M224.3 463.7h0M224.7 466.5h0M225.2 467.6h0M225.2 463.1h0M225.8 465.1h0M226 464.4h0M226.4 467.3h0M226.5 466h0M227.1 467.4h0M227.2 464.1h0M227.6 464.2h0M228 465.1h0M228.4 464h0M228.5 465.2h0M228.4 469.5h0M228.9 468.3h0M228.8 471.3h0M229.3 469.5h0M229.2 471.2h0M229.7 471.8h0M229.8 469.9h0M230.1 471.7h0M230.3 472.9h0M230.4 472h0M230.6 473.4h0M230.6 471.6h0M230.9 470.5h0M231.1 471.8h0M231.2 470.6h0M231.5 470.2h0M231.7 470.9h0M231.7 470h0M231.6 469.4h0M231.8 468.4h0M232.1 467.4h0M232.2 465.6h0M232.5 468.7h0M232.4 467.5h0M232.4 467h0M232.8 467.2h0M232.7 466.9h0M232.9 463.9h0M233.2 463h0M233.2 465.8h0M233.4 466.2h0M233.3 466.4h0M233.4 465.4h0M233.7 463.1h0M233.7 463.9h0M233.9 465.1h0M234.2 464.8h0M234.2 463.9h0M234.4 464.2h0M234.6 463.7h0M234.4 462.5h0M234.8 462.5h0M234.6 461.7h0M234.9 460.5h0M235 460.2h0M235.1 459.5h0M235 458.3h0M235.1 458.3h0M235.2 457.1h0M235.5 457.5h0M235.7 457.3h0M235.8 457.6h0M235.8 455.8h0M235.8 455.2h0M235.8 455.9h0M236.1 457.1h0M236.5 457.5h0M236.8 456.1h0M236.9 456.6h0M237 457.6h0M237.1 457.4h0M237.3 457h0M237.5 456.7h0M237.9 456.8h0M238.2 456.3h0M238.2 455.8h0M238.4 456h0M238.6 453.6h0M239.1 453.5h0M239.1 453.5h0M239.5 453.1h0M239.7 450.6h0M239.7 450.1h0M240.2 449.9h0M240.4 449.6h0M240.7 449.6h0M240.9 449.2h0M241 449.7h0M241.1 448.7h0M241.6 449.1h0M241.9 450.1h0M242 449.4h0M242.4 449.1h0M242.6 448.9h0M242.6 447.7h0M242.9 448h0M243.3 447.9h0M243.4 446.7h0M243.7 446.5h0M244 446.4h0M244.3 446h0M244.5 445.8h0M244.7 445.6h0M245.1 445.4h0M245.4 446h0M245.4 447.6h0M245.9 447.5h0M246.2 448.9h0M246.2 447.4h0M246.7 447.1h0M247 446.9h0M247 447.2h0M247.5 447.4h0M247.7 449h0M248.1 448.2h0M248.2 448.2h0M247.9 448.5h0M248.2 448.9h0M248.1 450h0M247.9 450h0M248.1 449.9h0M247.9 450.2h0M248.1 450.5h0M248 451h0M248.1 451.2h0M247.9 453.1h0M248.2 452.1h0M247.9 453.7h0M247.8 455.2h0M247.8 454.2h0M247.9 453.2h0M248 455.1h0M248.2 458.1h0M248 456.4h0M247.8 458.2h0M248 458.7h0M248.2 458.5h0M247.9 459.7h0M249.8 460.7h0M250.2 457.8h0M250.8 460h0M250.8 459.3h0M251 460.2h0M251.6 460.4h0M251.7 461.7h0M252.3 461.7h0M252.2 459.8h0M252.7 460.5h0M253 459.6h0M253.4 461.1h0M253.7 462.1h0M254 463.9h0M254.3 460.1h0M254.7 460.4h0M254.9 460.3h0M255.2 461.2h0M255.8 463.5h0M255.9 461.2h0M256.4 460.4h0M256.3 461.7h0M256.7 461h0M257.2 459.7h0M257.5 462.1h0M257.5 460.3h0M258.1 459.1h0M258.1 461h0M258.3 462.3h0M258.8 463.3h0M596.9 399.4h0M597.2 399.4h0M597.5 400.2h0M597.7 401h0M597.8 402.1h0M597.7 401.8h0M597.8 399.5h0M598.3 399.6h0M598.1 399.9h0M598.4 400.2h0M598.5 400.5h0M598.8 400.8h0M599 401.1h0M599 402h0M599.5 401.6h0M599.7 401.9h0M599.5 403.9h0M600 405.9h0M599.9 406.4h0M600 406.2h0M600.3 405.7h0M600.5 405.9h0M600.8 405.7h0M600.7 405.9h0M601.1 406.5h0M601.2 406.6h0M601.1 405.1h0M601.4 405.4h0M601.5 407.4h0M602 408h0M602 406.7h0M602.1 407.9h0M602.5 406.8h0M602.3 407.1h0M602.6 407.8h0M602.6 408.2h0M602.9 409.9h0M603.1 408.7h0M603.2 410h0M603.5 410.4h0M603.7 411.7h0M603.7 410h0M604 410.8h0M604.3 410.4h0M604.5 410.4h0M604.6 411.5h0M604.7 411.5h0M604.8 412.7h0M605.1 413.7h0M605.4 412.3h0M605.2 414.4h0M605.5 416.9h0M605.6 416.4h0M605.8 416.6h0M606 415.2h0M606.2 414.4h0M606.7 413.6h0M606.5 413.9h0M607 414.3h0M607.2 414.5h0M607.3 414.8h0M607.2 415.1h0M607.5 415.4h0M607.8 417.8h0M608.1 417.8h0M608.2 417.5h0M608.2 416.5h0M608.6 416.8h0M608.4 418.1h0M608.9 418.6h0M787 417.8h0M787.2 418.1h0M787.2 419.7h0M787.5 420.1h0M787.6 420.1h0M787.9 418.8h0M787.9 420.6h0M788.2 420.9h0M788.1 422.5h0M788.5 421.2h0M788.6 419.9h0M788.7 419.8h0M789 419.8h0" stroke="#000" stroke-width="5.3" stroke-linecap="round" fill="none"/>
<path d="M128.5 115.5L128.9 117.7L129.3 119.9L129.7 122L130.1 124.2L130.5 126.4L130.9 128.6L131.3 130.7L131.7 132.9L132.1 135.1L132.5 137.3L132.9 139.5L133.3 141.7L133.7 144L134.1 146.3L134.5 148.6L134.9 150.9L135.3 153.1L135.7 155.4L136.1 157.7L136.5 160L136.9 162.3L137.3 164.6L137.7 166.9L138.1 169.1L138.5 171.4L138.9 173.7L139.3 176L139.7 178.3L140.1 180.6L140.5 182.9L140.9 185.1L141.3 187.4L141.7 189.7L142.1 192L142.5 194.3L142.9 196.6L143.3 198.9L143.7 201.2L144.1 203.5L144.5 205.8L144.9 208.1L145.3 210.4L145.7 212.7L146.1 215.1L146.5 217.4L146.9 219.7L147.3 222L147.7 224.3L148.1 226.6L148.5 228.9L148.9 231.3L149.3 233.6L149.7 235.9L150.1 238.2L150.5 240.5L150.9 242.8L151.3 245.2L151.7 247.5L152.1 249.8L152.5 252.1L152.9 254.4L153.3 256.6L153.7 258.7L154.1 260.8L154.5 262.9L154.9 265L155.3 267L155.7 269.1L156.1 271.2L156.5 273.3L156.9 275.4L157.3 277.5L157.7 279.6L158.1 281.7L158.5 283.8L158.9 285.9L159.3 288L159.7 290.1L160.1 292.2L160.5 294.3L160.9 296.4L161.3 298.5L161.7 300.6L162.1 302.7L162.5 304.8L162.9 306.9L163.3 309L163.7 311.3L164.1 314L164.5 316.7L164.9 319.3L165.3 321.8L165.7 324.2L166.1 326.6L166.5 329L166.9 331.4L167.3 333.8L167.7 335.7L168.1 337.2L168.5 338.7L168.9 340.2L169.3 341.7L169.7 343.2L170.1 344.7L170.5 346.1L170.9 347.6L171.3 350L171.7 352.8L172.1 355.5L172.5 358.2L172.9 360.9L173.3 363.6L173.7 366.3L174.1 369L174.5 371.7L174.9 374.3L175.3 376.7L175.7 379L176.1 381.3L176.5 383.6L176.9 385.9L177.3 388.1L177.7 390.4L178.1 392.6L178.5 394.9L178.9 397.1L179.3 399.3L179.7 401.5L180.1 403.7L180.5 405.8L180.9 407.7L181.3 408.7L181.7 409.2L182.1 409.8L182.5 410.5L182.9 411.3L183.3 412.6L183.7 414.1L184.1 415.5L184.5 417L184.9 418.4L185.3 419.6L185.7 420.6L186.1 421.1L186.5 421.7L186.9 422.2L187.3 422.7L187.7 423.3L188.1 423.8L188.5 424.3L188.9 425L189.3 425.7L189.7 426.7L190.1 427.7L190.5 428.5L190.9 429.4L191.3 430.1L191.7 430.7L192.1 431.2L192.5 432.1L192.9 432.9L193.3 433.5L193.7 434.1L194.1 434.8L194.5 435.6L194.9 436.7L195.3 437.8L195.7 439L196.1 440.4L196.5 441.9L196.9 443.6L197.3 445.4L197.7 447.2L198.1 449L198.5 450.6L198.9 451.1L199.3 451.3L199.7 451.2L200.1 450.9L200.5 450.7L200.9 450.6L201.3 450.7L201.7 451.6L202.1 453.3L202.5 455L202.9 456.5L203.3 457.7L203.7 458.7L204.1 459.4L204.5 459.6L204.9 460.2L205.3 461L205.7 462.2L206.1 463.7L206.5 465.2L206.9 466.5L207.3 467.6L207.7 468.2L208.1 468.8L208.5 469.7L208.9 470.7L209.3 472L209.7 473.6L210.1 475.3L210.5 476.5L210.9 477.5L211.3 478.3L211.7 478.7L212.1 478.7L212.5 478.5L212.9 478.3L213.3 477.5L213.7 476.7L214.1 476.3L214.5 476.1L214.9 476.1L215.3 476L215.7 475.8L216.1 475.6L216.5 475.6L216.9 475.4L217.3 475.2L217.7 475L218.1 474.8L218.5 474.6L218.9 474.4L219.3 474.2L219.7 474L220.1 473.8L220.5 473.3L220.9 473.1L221.3 473L221.7 473.1L222.1 473.1L222.5 472.9L222.9 472.4L223.3 472.2L223.7 471.9L224.1 471.3L224.5 470.7L224.9 470.1L225.3 469.6L225.7 469.3L226.1 469.2L226.5 469.3L226.9 469.6L227.3 470L227.7 470.5L228.1 471.1L228.5 471.6L228.9 472.1L229.3 472.6L229.7 472.8L230.1 472.7L230.5 471.9L230.9 470.8L231.3 469.6L231.7 468.5L232.1 467.4L232.5 466.7L232.9 466.1L233.3 466.6L233.7 467.4L234.1 468.1L234.5 468.4L234.9 468.6L235.3 467.9L235.7 467L236.1 466.4L236.5 466.1L236.9 466.2L237.3 466.5L237.7 466.9L238.1 467.1L238.5 466.9L238.9 466.4L239.3 466.3L239.7 466.3L240.1 466.4L240.5 466.8L240.9 467.6L241.3 468.7L241.7 469.8L242.1 470.8L242.5 471.5L242.9 471.8L243.3 471.8L243.7 471.6L244.1 471.3L244.5 471.3L244.9 470.4L245.3 469.8L245.7 469.4L246.1 469.2L246.5 468.9L246.9 468.5L247.3 467.9L247.7 467.1L248.1 466L248.5 464L248.9 462L249.3 460L249.7 458.1L250.1 456.1L250.5 454.1L250.9 451.6L251.3 449.2L251.7 447L252.1 445L252.5 443.2L252.9 441.6L253.3 440.7L253.7 439.9L254.1 438.8L254.5 437.3L254.9 435.5L255.3 433.5L255.7 431.2L256.1 428.9L256.5 426.6L256.9 424.6L257.3 422.8L257.7 421.1L258.1 419.6L258.5 418.3L258.9 417.1L259.3 416L259.7 415L260.1 414L260.5 412.8L260.9 411.5L261.3 409.9L261.7 408L262.1 405.9L262.5 403.9L262.9 401.9L263.3 400L263.7 398.5L264.1 397.1L264.5 395.8L264.9 394.5L265.3 393L265.7 391.3L266.1 389L266.5 385.8L266.9 382.6L267.3 379.7L267.7 377.5L268.1 375.9L268.5 374.6L268.9 373.3L269.3 371.8L269.7 370.3L270.1 368.9L270.5 367.1L270.9 365.4L271.3 363.7L271.7 362.4L272.1 361.6L272.5 361.8L272.9 362L273.3 362.1L273.7 361.9L274.1 361.2L274.5 360.3L274.9 359.2L275.3 358.1L275.7 357.2L276.1 356.7L276.5 356.5L276.9 356.5L277.3 356.7L277.7 356.8L278.1 356.8L278.5 356.5L278.9 356.1L279.3 355.6L279.7 355L280.1 354.5L280.5 353.9L280.9 353.3L281.3 352.8L281.7 352.2L282.1 351.7L282.5 351.4L282.9 351.2L283.3 351.3L283.7 351.6L284.1 351.9L284.5 352.2L284.9 352.2L285.3 352L285.7 351.4L286.1 350.6L286.5 349.9L286.9 349.2L287.3 348.5L287.7 348L288.1 347.7L288.5 347.6L288.9 347.6L289.3 347.9L289.7 348.2L290.1 348.7L290.5 349.1L290.9 349.7L291.3 350.2L291.7 350.7L292.1 351L292.5 351L292.9 350.7L293.3 349.6L293.7 348.2L294.1 346.8L294.5 345.6L294.9 344.6L295.3 343.9L295.7 344L296.1 344.7L296.5 345.3L296.9 345.6L297.3 345.6L297.7 345.6L298.1 345.7L298.5 346.2L298.9 347L299.3 348.1L299.7 349.5L300.1 350.8L300.5 352L300.9 352.8L301.3 353.8L301.7 354.6L302.1 355.5L302.5 356.5L302.9 357.8L303.3 359.4L303.7 361.3L304.1 363.2L304.5 364.7L304.9 366L305.3 366.8L305.7 367.2L306.1 367.6L306.5 367.9L306.9 368.5L307.3 368.9L307.7 369.5L308.1 370.3L308.5 371.2L308.9 372.1L309.3 372.8L309.7 373.3L310.1 373.8L310.5 374.8L310.9 375.7L311.3 376.6L311.7 377.5L312.1 378.4L312.5 379.3L312.9 379.9L313.3 380.6L313.7 381.4L314.1 382.4L314.5 383.6L314.9 384.9L315.3 386.3L315.7 387.7L316.1 388.8L316.5 389.6L316.9 390.1L317.3 390.3L317.7 390.2L318.1 390.1L318.5 390.2L318.9 390.4L319.3 390.8L319.7 391.4L320.1 392.1L320.5 393L320.9 394.1L321.3 395.4L321.7 396L322.1 396L322.5 396L322.9 396L323.3 395.7L323.7 395.2L324.1 394.3L324.5 393.2L324.9 391.3L325.3 389.4L325.7 387.7L326.1 386.2L326.5 385L326.9 385.4L327.3 385.7L327.7 385.9L328.1 385.7L328.5 385.4L328.9 385L329.3 383.9L329.7 382.9L330.1 382.3L330.5 382L330.9 381.9L331.3 381.8L331.7 381.5L332.1 381L332.5 381.1L332.9 380.9L333.3 380.6L333.7 380.6L334.1 380.9L334.5 381.5L334.9 382.3L335.3 383L335.7 383.4L336.1 383.5L336.5 383.3L336.9 382.7L337.3 381.9L337.7 381.2L338.1 380.6L338.5 379.6L338.9 379L339.3 378.7L339.7 378.4L340.1 378.1L340.5 378L340.9 377.7L341.3 377.2L341.7 376.6L342.1 376L342.5 375.4L342.9 374.8L343.3 374.2L343.7 373.6L344.1 373L344.5 372.5L344.9 373.1L345.3 373.8L345.7 374.9L346.1 376L346.5 377.3L346.9 378.5L347.3 379.4L347.7 380.4L348.1 381.5L348.5 382.3L348.9 382.9L349.3 383.5L349.7 384.1L350.1 385L350.5 386.4L350.9 388L351.3 389.8L351.7 391.7L352.1 393.7L352.5 395.4L352.9 397.3L353.3 399.3L353.7 401.3L354.1 403.2L354.5 404.9L354.9 406.3L355.3 407.4L355.7 408.2L356.1 409L356.5 409.7L356.9 410.6L357.3 411.7L357.7 413.1L358.1 414.5L358.5 415.9L358.9 417.1L359.3 418L359.7 418.6L360.1 419.4L360.5 420.5L360.9 421.9L361.3 423.7L361.7 425.9L362.1 428.2L362.5 430.4L362.9 432.5L363.3 434.2L363.7 435.5L364.1 436.6L364.5 437.7L364.9 439L365.3 441L365.7 443.3L366.1 445.9L366.5 448.5L366.9 451L367.3 453L367.7 454.7L368.1 456.1L368.5 457.1L368.9 458.2L369.3 459.6L369.7 461.3L370.1 463.1L370.5 464.5L370.9 466.1L371.3 467.5L371.7 468.8L372.1 469.8L372.5 470.8L372.9 471.6L373.3 472.4L373.7 473.2L374.1 473.6L374.5 473.2L374.9 472.8L375.3 472.4L375.7 472.1L376.1 472L376.5 472.1L376.9 472.3L377.3 472.8L377.7 473.3L378.1 473.9L378.5 474.7L378.9 475.2L379.3 475.3L379.7 475.1L380.1 474.7L380.5 474.3L380.9 474L381.3 473.8L381.7 473.8L382.1 474L382.5 474.4L382.9 475L383.3 475.7L383.7 476.5L384.1 477.4L384.5 477.9L384.9 478.5L385.3 478.9L385.7 479.1L386.1 479L386.5 478.6L386.9 478L387.3 477.3L387.7 476.7L388.1 476.2L388.5 476L388.9 476.1L389.3 476.5L389.7 477L390.1 477.2L390.5 477.2L390.9 477L391.3 476.8L391.7 476.6L392.1 476.8L392.5 477.4L392.9 478.2L393.3 479.3L393.7 480.2L394.1 481L394.5 481.4L394.9 481.6L395.3 481.5L395.7 481.4L396.1 481.5L396.5 482L396.9 482.8L397.3 483.8L397.7 484.8L398.1 485.6L398.5 486L398.9 486.1L399.3 485.9L399.7 485.5L400.1 485.2L400.5 485.2L400.9 485.5L401.3 486.2L401.7 487L402.1 487.9L402.5 488.3L402.9 488.6L403.3 488.8L403.7 488.7L404.1 488.6L404.5 488.4L404.9 488.3L405.3 488.1L405.7 487.9L406.1 487.8L406.5 487.6L406.9 487.6L407.3 487.7L407.7 488L408.1 488.6L408.5 489.3L408.9 490.1L409.3 490.8L409.7 491.2L410.1 491.3L410.5 491.2L410.9 490.8L411.3 490.2L411.7 489.6L412.1 489.1L412.5 488.7L412.9 488.5L413.3 488.6L413.7 488.8L414.1 489.1L414.5 489.7L414.9 490.3L415.3 491.1L415.7 492L416.1 492.7L416.5 492.7L416.9 492.4L417.3 491.9L417.7 491L418.1 490L418.5 488.8L418.9 487.8L419.3 486.9L419.7 486.3L420.1 486.1L420.5 486.5L420.9 486.8L421.3 486.9L421.7 486.7L422.1 486.3L422.5 485.9L422.9 485.6L423.3 485.7L423.7 486.1L424.1 486.8L424.5 487.7L424.9 488.5L425.3 489.1L425.7 489.4L426.1 489.4L426.5 489.2L426.9 489L427.3 489.1L427.7 489.4L428.1 490.1L428.5 491L428.9 491.9L429.3 492.6L429.7 492.9L430.1 492.8L430.5 492.4L430.9 492L431.3 491.6L431.7 491.5L432.1 491.6L432.5 491.7L432.9 491.9L433.3 492.2L433.7 492.4L434.1 492.5L434.5 492.3L434.9 492L435.3 491.7L435.7 491.2L436.1 490.8L436.5 490.4L436.9 490L437.3 489.6L437.7 489.2L438.1 488.9L438.5 488.8L438.9 488.9L439.3 489.2L439.7 489.7L440.1 490.3L440.5 490.9L440.9 491.3L441.3 491.4L441.7 491.1L442.1 490.5L442.5 489.8L442.9 489L443.3 488.4L443.7 487.9L444.1 487.6L444.5 487.5L444.9 487.6L445.3 487.8L445.7 488.2L446.1 488.7L446.5 489.3L446.9 490.1L447.3 490.8L447.7 491.4L448.1 491.7L448.5 491.5L448.9 491L449.3 490.2L449.7 489.4L450.1 488.7L450.5 488.2L450.9 487.9L451.3 487.9L451.7 487.8L452.1 487.7L452.5 487.3L452.9 486.7L453.3 485.9L453.7 485L454.1 484.5L454.5 484.7L454.9 485.3L455.3 486.2L455.7 487.2L456.1 488.1L456.5 488.8L456.9 489.1L457.3 489.1L457.7 488.9L458.1 488.7L458.5 488.8L458.9 489.2L459.3 489.9L459.7 490.8L460.1 491.7L460.5 492.4L460.9 492.7L461.3 492.6L461.7 492.2L462.1 491.6L462.5 490.9L462.9 490.3L463.3 490.2L463.7 490.3L464.1 490.6L464.5 491L464.9 491.2L465.3 491.3L465.7 491.2L466.1 490.9L466.5 490.6L466.9 490.2L467.3 489.9L467.7 489.5L468.1 489.2L468.5 488.8L468.9 488.5L469.3 488.2L469.7 488.2L470.1 488.4L470.5 488.9L470.9 489.6L471.3 490.3L471.7 490.9L472.1 491.2L472.5 491.2L472.9 490.9L473.3 490.2L473.7 489.4L474.1 488.6L474.5 487.9L474.9 487.4L475.3 487.1L475.7 486.9L476.1 487L476.5 487.1L476.9 487.5L477.3 488L477.7 488.6L478.1 489.3L478.5 490L478.9 490.5L479.3 490.8L479.7 490.8L480.1 490.5L480.5 489.7L480.9 488.9L481.3 488.2L481.7 487.7L482.1 487.5L482.5 487.4L482.9 487.4L483.3 487.2L483.7 486.8L484.1 486.2L484.5 485.4L484.9 484.5L485.3 483.9L485.7 483.6L486.1 483.7L486.5 484.6L486.9 485.7L487.3 486.6L487.7 487.2L488.1 487.5L488.5 487.4L488.9 487.2L489.3 487.1L489.7 487.2L490.1 487.6L490.5 488.4L490.9 489.3L491.3 490.2L491.7 490.8L492.1 491.1L492.5 490.9L492.9 490.6L493.3 490.1L493.7 489.8L494.1 489.6L494.5 489.5L494.9 489.6L495.3 490L495.7 490.3L496.1 490.6L496.5 490.6L496.9 490.5L497.3 490.2L497.7 489.9L498.1 489.5L498.5 489.2L498.9 488.8L499.3 488.4L499.7 488.1L500.1 487.8L500.5 487.5L500.9 487.5L501.3 487.7L501.7 488.1L502.1 488.7L502.5 489.5L502.9 490.2L503.3 490.6L503.7 490.6L504.1 490.3L504.5 489.8L504.9 489.1L505.3 488.4L505.7 487.8L506.1 487.4L506.5 487.2L506.9 487.1L507.3 487.3L507.7 487.6L508.1 488L508.5 488.6L508.9 489.4L509.3 490.2L509.7 490.9L510.1 491.4L510.5 491.1L510.9 490.5L511.3 489.5L511.7 488.4L512.1 487.3L512.5 486.3L512.9 485.5L513.3 484.9L513.7 484.5L514.1 484.5L514.5 485.4L514.9 486.1L515.3 486.5L515.7 486.7L516.1 486.4L516.5 484.7L516.9 483.3L517.3 482.3L517.7 481.6L518.1 480.9L518.5 480.2L518.9 479.2L519.3 477.8L519.7 476L520.1 474.3L520.5 473L520.9 472L521.3 471.4L521.7 471L522.1 470.8L522.5 470.5L522.9 470L523.3 469.1L523.7 467.8L524.1 466.3L524.5 464.7L524.9 463.3L525.3 462.1L525.7 461.3L526.1 460.7L526.5 460.1L526.9 459.5L527.3 458.8L527.7 457.9L528.1 456.8L528.5 455.6L528.9 454.3L529.3 453L529.7 451.7L530.1 450.3L530.5 449L530.9 447.7L531.3 446.5L531.7 445.3L532.1 444.3L532.5 443.6L532.9 443.1L533.3 442.6L533.7 442.3L534.1 441.7L534.5 441L534.9 439.9L535.3 438.5L535.7 436.9L536.1 435L536.5 433.3L536.9 431.6L537.3 430.1L537.7 428.8L538.1 427.7L538.5 427L538.9 426.4L539.3 425.9L539.7 425.6L540.1 425.5L540.5 425.4L540.9 425.3L541.3 424.9L541.7 424.2L542.1 423.2L542.5 422L542.9 420.5L543.3 419.1L543.7 417.7L544.1 416.6L544.5 415.7L544.9 414.9L545.3 414.2L545.7 413.3L546.1 412.2L546.5 410.8L546.9 409.3L547.3 407.7L547.7 406.4L548.1 405.5L548.5 404.9L548.9 404.5L549.3 404.3L549.7 403.9L550.1 403.4L550.5 402.9L550.9 402.2L551.3 401.3L551.7 400.6L552.1 400.1L552.5 399.9L552.9 400L553.3 400.3L553.7 400.5L554.1 400.3L554.5 399.3L554.9 397.9L555.3 396.2L555.7 394.6L556.1 393L556.5 391.8L556.9 390.9L557.3 390.2L557.7 389.7L558.1 389.1L558.5 388.4L558.9 387.5L559.3 386.4L559.7 385.2L560.1 384L560.5 382.9L560.9 381.9L561.3 380.8L561.7 379.7L562.1 378.6L562.5 377.6L562.9 376.7L563.3 376.2L563.7 376.1L564.1 376.2L564.5 376.4L564.9 376.5L565.3 376.6L565.7 377L566.1 377.8L566.5 378.3L566.9 378.5L567.3 378.6L567.7 378.8L568.1 378.9L568.5 379.1L568.9 379.5L569.3 380.1L569.7 380.8L570.1 381.7L570.5 382.7L570.9 383.9L571.3 385.1L571.7 386.3L572.1 387.5L572.5 388.5L572.9 389.2L573.3 388.9L573.7 388.1L574.1 387.1L574.5 386.1L574.9 385.2L575.3 384.6L575.7 384.8L576.1 385.9L576.5 387.1L576.9 388L577.3 388.7L577.7 389.1L578.1 389.3L578.5 389L578.9 388.9L579.3 389.1L579.7 389.7L580.1 390.6L580.5 391.6L580.9 392.4L581.3 392.8L581.7 393.3L582.1 393.9L582.5 394.4L582.9 394.9L583.3 395.7L583.7 396.9L584.1 398.4L584.5 399.9L584.9 401.4L585.3 402.6L585.7 403.4L586.1 403.8L586.5 404L586.9 404.2L587.3 404.1L587.7 404.1L588.1 404.4L588.5 405.1L588.9 405.8L589.3 406.6L589.7 407.2L590.1 407.7L590.5 408.1L590.9 408.5L591.3 408.7L591.7 409L592.1 409.2L592.5 409.5L592.9 409.8L593.3 410L593.7 410.3L594.1 410.8L594.5 411.4L594.9 412.3L595.3 413.3L595.7 414.5L596.1 415.7L596.5 416.7L596.9 417.5L597.3 417.9L597.7 418L598.1 417.8L598.5 417.5L598.9 417.3L599.3 417.1L599.7 417.2L600.1 417.5L600.5 417.9L600.9 418.5L601.3 419.3L601.7 420.2L602.1 421.2L602.5 422.1L602.9 423.1L603.3 424L603.7 424.8L604.1 425.2L604.5 425.4L604.9 425.3L605.3 425.1L605.7 424.8L606.1 424.7L606.5 424.8L606.9 425.2L607.3 425.7L607.7 426.2L608.1 426.6L608.5 427.1L608.9 427.4L609.3 427.6L609.7 427.8L610.1 428.2L610.5 429L610.9 430.1L611.3 431.5L611.7 433L612.1 434.3L612.5 435.2L612.9 435.8L613.3 436.1L613.7 436.4L614.1 436.7L614.5 437.3L614.9 438.3L615.3 439.5L615.7 440.9L616.1 442.1L616.5 443.1L616.9 443.6L617.3 443.8L617.7 443.8L618.1 443.8L618.5 444L618.9 444.5L619.3 445.1L619.7 445.9L620.1 446.9L620.5 447.9L620.9 448.7L621.3 449.3L621.7 449.8L622.1 450.1L622.5 450.4L622.9 450.7L623.3 450.9L623.7 451.2L624.1 451.4L624.5 451.3L624.9 451.2L625.3 451.3L625.7 451.5L626.1 452L626.5 452.7L626.9 453.5L627.3 454.2L627.7 454.8L628.1 455.1L628.5 455L628.9 454.6L629.3 454.6L629.7 454.7L630.1 454.8L630.5 455L630.9 455.4L631.3 456L631.7 456.9L632.1 457.8L632.5 458.9L632.9 460.2L633.3 461.6L633.7 463.2L634.1 464.5L634.5 464.9L634.9 465.2L635.3 465.2L635.7 464.9L636.1 464.3L636.5 463.6L636.9 462.9L637.3 462.3L637.7 462L638.1 461.9L638.5 461.9L638.9 461.9L639.3 461.8L639.7 461.3L640.1 460.8L640.5 460.5L640.9 460.3L641.3 460.3L641.7 460.6L642.1 461.3L642.5 462.3L642.9 463.3L643.3 464.1L643.7 464.6L644.1 464.7L644.5 464.5L644.9 464.3L645.3 464.2L645.7 464.4L646.1 465L646.5 465.8L646.9 466.7L647.3 467.5L647.7 467.9L648.1 468L648.5 467.8L648.9 467.3L649.3 466.9L649.7 466.6L650.1 466.5L650.5 466.3L650.9 466.2L651.3 466.3L651.7 466.4L652.1 466.3L652.5 466.1L652.9 465.7L653.3 465.1L653.7 464.5L654.1 463.9L654.5 463.3L654.9 462.7L655.3 462L655.7 461.4L656.1 461L656.5 461.1L656.9 461.4L657.3 461.9L657.7 462.7L658.1 463.5L658.5 464.2L658.9 464.8L659.3 465.1L659.7 465L660.1 464.6L660.5 464L660.9 463.3L661.3 462.6L661.7 462.1L662.1 461.7L662.5 461.6L662.9 461.6L663.3 461.8L663.7 462.2L664.1 462.6L664.5 462.9L664.9 463.3L665.3 463.8L665.7 464.2L666.1 464.4L666.5 464.3L666.9 463.9L667.3 463.3L667.7 462.5L668.1 461.7L668.5 461.1L668.9 460.8L669.3 460.6L669.7 460.6L670.1 460.6L670.5 460.3L670.9 459.8L671.3 459.1L671.7 458.3L672.1 457.7L672.5 457.7L672.9 458L673.3 458.7L673.7 459.6L674.1 460.6L674.5 461.4L674.9 461.8L675.3 461.8L675.7 461.7L676.1 461.4L676.5 461.3L676.9 461.5L677.3 462L677.7 462.8L678.1 463.7L678.5 464.4L678.9 464.9L679.3 464.9L679.7 464.6L680.1 464L680.5 463.2L680.9 462.6L681.3 462.4L681.7 462.4L682.1 462.8L682.5 463.2L682.9 463.6L683.3 463.8L683.7 463.8L684.1 463.7L684.5 463.5L684.9 463.2L685.3 462.9L685.7 462.6L686.1 462.3L686.5 462L686.9 461.8L687.3 461.5L687.7 461.5L688.1 461.6L688.5 462L688.9 462.5L689.3 463.1L689.7 463.7L690.1 464.2L690.5 464.5L690.9 464.5L691.3 464.2L691.7 463.7L692.1 463L692.5 462.5L692.9 462.1L693.3 461.8L693.7 461.8L694.1 462L694.5 462.3L694.9 462.7L695.3 463.4L695.7 464.1L696.1 464.9L696.5 465.3L696.9 465.7L697.3 465.8L697.7 465.7L698.1 465.3L698.5 464.6L698.9 463.8L699.3 463L699.7 462.4L700.1 462.1L700.5 462L700.9 461.9L701.3 461.9L701.7 461.6L702.1 461.2L702.5 461.1L702.9 460.8L703.3 460.7L703.7 460.8L704.1 461.3L704.5 462.1L704.9 463.2L705.3 464.2L705.7 465.1L706.1 465.6L706.5 465.7L706.9 465.6L707.3 465.4L707.7 465.5L708.1 465.8L708.5 466.4L708.9 467.3L709.3 468.3L709.7 469.1L710.1 469.6L710.5 469.4L710.9 468.8L711.3 468.1L711.7 467.5L712.1 467L712.5 466.9L712.9 467.2L713.3 467.6L713.7 468.2L714.1 468.7L714.5 469L714.9 469.2L715.3 469.2L715.7 469.1L716.1 468.9L716.5 468.8L716.9 468.6L717.3 468.4L717.7 468.3L718.1 468L718.5 467.6L718.9 467.3L719.3 467.3L719.7 467.4L720.1 467.8L720.5 468.2L720.9 468.5L721.3 468.7L721.7 468.5L722.1 468.1L722.5 467.9L722.9 467.4L723.3 466.9L723.7 466.5L724.1 466.2L724.5 466L724.9 466.1L725.3 466.4L725.7 466.8L726.1 467L726.5 466.4L726.9 465.8L727.3 465.4L727.7 465L728.1 464.5L728.5 463.9L728.9 462.9L729.3 461.6L729.7 460.1L730.1 458.5L730.5 457L730.9 455.6L731.3 454.6L731.7 453.7L732.1 453L732.5 452.2L732.9 451.1L733.3 449.9L733.7 448.3L734.1 446.8L734.5 445.4L734.9 444.4L735.3 443.6L735.7 443.3L736.1 443.1L736.5 442.9L736.9 442.5L737.3 441.7L737.7 440.6L738.1 439.2L738.5 437.9L738.9 436.7L739.3 435.9L739.7 435.5L740.1 435.4L740.5 435.3L740.9 435L741.3 434.4L741.7 433.4L742.1 432.1L742.5 430.6L742.9 429.2L743.3 428L743.7 427.2L744.1 426.6L744.5 426.1L744.9 425.7L745.3 425.2L745.7 424.5L746.1 423.7L746.5 422.7L746.9 421.6L747.3 420.4L747.7 419.3L748.1 418.2L748.5 417L748.9 415.9L749.3 414.7L749.7 413.7L750.1 412.9L750.5 412.8L750.9 412.8L751.3 413.1L751.7 413.4L752.1 413.6L752.5 413.7L752.9 413.4L753.3 412.7L753.7 411.7L754.1 410.7L754.5 409.9L754.9 409.1L755.3 408.5L755.7 408.1L756.1 407.9L756.5 407.9L756.9 408.1L757.3 408.3L757.7 408.8L758.1 409.4L758.5 410L758.9 410.7L759.3 411L759.7 410.9L760.1 410.5L760.5 409.8L760.9 408.9L761.3 407.9L761.7 406.9L762.1 406.2L762.5 405.6L762.9 405.3L763.3 405.1L763.7 404.8L764.1 404.3L764.5 403.7L764.9 402.8L765.3 401.9L765.7 401.2L766.1 400.7L766.5 400.6L766.9 400.8L767.3 401.2L767.7 401.5L768.1 401.6L768.5 401.4L768.9 400.9L769.3 400.1L769.7 399.5L770.1 399.8L770.5 400.4L770.9 401.3L771.3 402.5L771.7 403.7L772.1 404.7L772.5 405.4L772.9 405.6L773.3 405.6L773.7 405.4L774.1 405.4L774.5 405.7L774.9 406.4L775.3 407.4L775.7 408.7L776.1 410L776.5 411.2L776.9 412.3L777.3 413.2L777.7 413.9L778.1 414.5L778.5 415.1L778.9 415.7L779.3 416.3L779.7 416.9L780.1 417.5L780.5 418.1L780.9 418.8L781.3 419.6L781.7 420.7L782.1 422L782.5 423.4L782.9 425L783.3 426.4L783.7 427.6L784.1 428.5L784.5 429.4L784.9 429.9L785.3 430.3L785.7 430.6L786.1 431L786.5 431.5L786.9 432.2L787.3 433.2L787.7 434.3L788.1 435.6L788.5 437L788.9 438.5L789.3 440L789.7 441.5L790.1 443L790.5 444.4L790.9 445.6L791.3 446.4L791.7 447L792.1 447.4L792.5 447.6L792.9 448L793.3 448.5L793.7 449.2L794.1 450.1L794.5 450.6L794.9 451L795.3 451.2L795.7 451.2L796.1 450.9L796.5 450.6L796.9 450.4L797.3 450.5L797.7 451L798.1 451.8L798.5 452.8L798.9 453.7L799.3 454.4L799.7 454.7L800.1 454.8L800.5 454.8L800.9 454.8L801.3 454.9L801.7 455.5L802.1 456.3L802.5 457.4L802.9 458.4L803.3 459.3L803.7 459.8L804.1 460L804.5 459.8L804.9 459.5L805.3 459.3L805.7 459.4L806.1 459.6L806.5 459.7L806.9 460.1L807.3 460.5L807.7 460.8L808.1 461L808.5 461L808.9 460.8L809.3 460.5L809.7 460.2L810.1 459.9L810.5 459.6L810.9 459.3L811.3 458.9L811.7 458.7L812.1 458.5L812.5 458.4L812.9 458.6L813.3 459L813.7 459.6L814.1 460.3L814.5 461.1L814.9 461.7L815.3 462L815.7 461.9L816.1 461.6L816.5 461L816.9 460.4L817.3 460L817.7 459.6L818.1 459.5L818.5 459.6L818.9 459.8L819.3 460.2L819.7 460.7L820.1 461.3L820.5 461.5L820.9 461.8L821.3 462.2L821.7 462.4L822.1 462.4L822.5 462.1L822.9 461.5L823.3 460.7L823.7 459.8L824.1 458.9L824.5 458.3L824.9 457.9L825.3 458.2L825.7 458.8L826.1 459.2L826.5 459.4L826.9 459.4L827.3 459.1L827.7 458.8L828.1 458.7L828.5 458.8L828.9 459.4L829.3 460.2L829.7 461.2L830.1 462.2L830.5 462.8L830.9 463.2L831.3 463.1L831.7 462.9L832.1 462.8L832.5 462.8L832.9 463.2L833.3 464L833.7 464.9L834.1 465.9L834.5 466.6L834.9 466.9L835.3 466.9L835.7 466.6L836.1 466.2L836.5 465.8L836.9 465.8L837.3 466.1L837.7 466.6L838.1 467.3L838.5 467.7L838.9 467.9L839.3 468L839.7 467.9L840.1 467.7L840.5 467.4L840.9 467L841.3 466.6L841.7 466.3L842.1 465.9L842.5 465.6L842.9 465.2L843.3 465L843.7 464.9L844.1 465.1L844.5 465.4L844.9 466L845.3 466.5L845.7 467L846.1 467.3L846.5 467.6L846.9 467.5L847.3 467.2L847.7 466.6L848.1 466.1L848.5 465.6L848.9 465.4L849.3 465.3L849.7 465.4L850.1 465.7L850.5 466.1L850.9 466.7L851.3 467.4L851.7 468.3L852.1 469.1L852.5 469.5L852.9 469.7L853.3 469.8L853.7 469.5L854.1 468.9L854.5 468.1L854.9 467.2L855.3 466.5L855.7 465.9L856.1 465.6L856.5 465.4L856.9 465.4L857.3 465.6L857.7 465.7L858.1 465.6L858.5 465.3L858.9 464.9L859.3 464.8L859.7 464.9L860.1 465.4L860.5 466.2L860.9 467.1L861.3 468L861.7 468.6L862.1 468.8L862.5 468.8L862.9 468.5L863.3 468.3L863.7 468.2L864.1 468.6L864.5 469.4L864.9 470.3L865.3 471.2L865.7 471.9L866.1 472.3L866.5 472.2L866.9 471.9L867.3 471.5L867.7 471.1L868.1 471.1L868.5 471.4L868.9 472L869.3 472.8L869.7 473.6L870.1 474.3L870.5 474.5L870.9 474.5L871.3 474.3L871.7 474.1L872.1 473.8L872.5 473.6L872.9 473.3L873.3 473L873.7 472.8L874.1 472.5L874.5 472.4L874.9 472.5L875.3 472.7L875.7 473.2L876.1 473.8L876.5 474.5L876.9 475L877.3 475.3L877.7 475.3L878.1 474.9L878.5 474.5L878.9 473.9L879.3 473.3L879.7 472.8L880.1 472.5L880.5 472.3L880.9 472.4L881.3 472.6L881.7 473L882.1 473.5L882.5 474.2L882.9 475L883.3 475.9L883.7 476.8L884.1 477.4L884.5 477.3L884.9 476.9L885.3 476.2L885.7 475.3L886.1 474.4L886.5 473.6L886.9 472.9L887.3 472.6L887.7 472.4L888.1 472.4L888.5 472.8L888.9 472.9L889.3 472.8L889.7 472.5L890.1 472.2L890.5 472.1L890.9 472.3L891.3 472.9L891.7 473.7L892.1 474.7L892.5 475.6L892.9 476.2L893.3 476.4L893.7 476.4L894.1 476.2L894.5 476L894.9 476.2L895.3 476.6L895.7 477.4L896.1 478.3L896.5 479.3L896.9 479.9L897.3 480.2L897.7 480.2L898.1 479.8L898.5 479.4L898.9 479.1L899.3 479.1L899.7 479.4L900.1 479.9L900.5 480.2L900.9 480.6L901.3 480.8L901.7 480.9L902.1 480.8L902.5 480.5L902.9 480.2L903.3 479.8L903.7 479.5L904.1 479.1L904.5 478.7L904.9 478.4L905.3 478.1L905.7 477.8L906.1 477.8L906.5 478L906.9 478.4L907.3 478.9L907.7 479.5L908.1 480L908.5 480.6L908.9 480.8L909.3 480.7L909.7 480.3L910.1 479.8L910.5 479.2L910.9 478.8L911.3 478.6L911.7 478.5L912.1 478.7L912.5 479L912.9 479.4L913.3 480L913.7 480.8L914.1 481.5L914.5 481.9L914.9 482.3L915.3 482.5L915.7 482.5L916.1 482.1L916.5 481.5L916.9 480.7L917.3 479.8L917.7 479.1L918.1 478.6L918.5 478.3L918.9 478.2L919.3 478.8L919.7 479.5L920.1 479.9L920.5 480.1L920.9 480.2L921.3 479.7L921.7 479.1L922.1 478.9L922.5 479.1L922.9 479.6L923.3 480.2L923.7 480.6L924.1 480.8L924.5 480.6L924.9 480.1L925.3 480.2L925.7 480.7L926.1 481.4L926.5 482.4L926.9 483.8L927.3 485.1L927.7 486.4L928.1 487.4L928.5 488L928.9 488.2L929.3 488.2L929.7 488.1L930.1 487.8L930.5 487L930.9 486.4L931.3 486.2L931.7 486.1L932.1 486L932.5 485.9L932.9 486.4L933.3 486.7L933.7 486.9L934.1 487L934.5 487.1L934.9 487.3L935.3 487.1L935.7 486.8L936.1 486.5L936.5 486.3L936.9 486.2L937.3 486.2L937.7 486.5" stroke="#0072B2" stroke-width="2.1" fill="none" stroke-linejoin="round" stroke-linecap="butt"/>
<path d="M938 486.2L938 449.2L939 447.6L940 447.2L941 448.4L941.8 449.6L943 449.3L945.2 449.6L945.2 488.2L940 488.2L939.5 486.8Z" fill="#0072B2"/>
<circle cx="941.1" cy="477.4" r="4.25" fill="#ff0000"/>
</g>
<path d="M160.5 542.5v5.1M285.5 542.5v5.1M409.5 542.5v5.1M534.5 542.5v5.1M659.5 542.5v5.1M783.5 542.5v5.1M908.5 542.5v5.1M88.5 511.5h-5.1M88.5 419.5h-5.1M88.5 326.5h-5.1M88.5 233.5h-5.1M88.5 140.5h-5.1M88.5 47.5h-5.1" stroke="#000" stroke-width="1" fill="none"/>
<rect x="88.5" y="15.5" width="897.0" height="527.0" fill="none" stroke="#000" stroke-width="1" shape-rendering="crispEdges"/>
<g opacity="0.999">
<text transform="translate(159.9 562.1) scale(1.07 1)" font-size="14.0" letter-spacing="0.48" text-anchor="middle">2001</text>
<text transform="translate(284.9 562.1) scale(1.07 1)" font-size="14.0" letter-spacing="0.48" text-anchor="middle">2005</text>
<text transform="translate(408.9 562.1) scale(1.07 1)" font-size="14.0" letter-spacing="0.48" text-anchor="middle">2009</text>
<text transform="translate(533.9 562.1) scale(1.07 1)" font-size="14.0" letter-spacing="0.48" text-anchor="middle">2013</text>
<text transform="translate(658.9 562.1) scale(1.07 1)" font-size="14.0" letter-spacing="0.48" text-anchor="middle">2017</text>
<text transform="translate(782.9 562.1) scale(1.07 1)" font-size="14.0" letter-spacing="0.48" text-anchor="middle">2021</text>
<text transform="translate(907.9 562.1) scale(1.07 1)" font-size="14.0" letter-spacing="0.48" text-anchor="middle">2025</text>
<text transform="translate(79.9 516.5) scale(1.07 1)" font-size="14.0" letter-spacing="0.48" text-anchor="end">0</text>
<text transform="translate(78.0 423.5) scale(1.07 1)" font-size="14.0" letter-spacing="0.48" text-anchor="end">2000</text>
<text transform="translate(78.0 330.5) scale(1.07 1)" font-size="14.0" letter-spacing="0.48" text-anchor="end">4000</text>
<text transform="translate(78.0 237.5) scale(1.07 1)" font-size="14.0" letter-spacing="0.48" text-anchor="end">6000</text>
<text transform="translate(78.0 144.5) scale(1.07 1)" font-size="14.0" letter-spacing="0.48" text-anchor="end">8000</text>
<text transform="translate(78.0 51.5) scale(1.07 1)" font-size="14.0" letter-spacing="0.48" text-anchor="end">10000</text>
<text transform="translate(536.5 581.7) scale(0.99 1)" font-size="14.0" letter-spacing="0" text-anchor="middle">ds</text>
<text transform="translate(25.2 278.6) rotate(-90) scale(1.07 1)" font-size="14.0" letter-spacing="0.48" text-anchor="middle">y</text>
</g>
</svg>
</body></html>
